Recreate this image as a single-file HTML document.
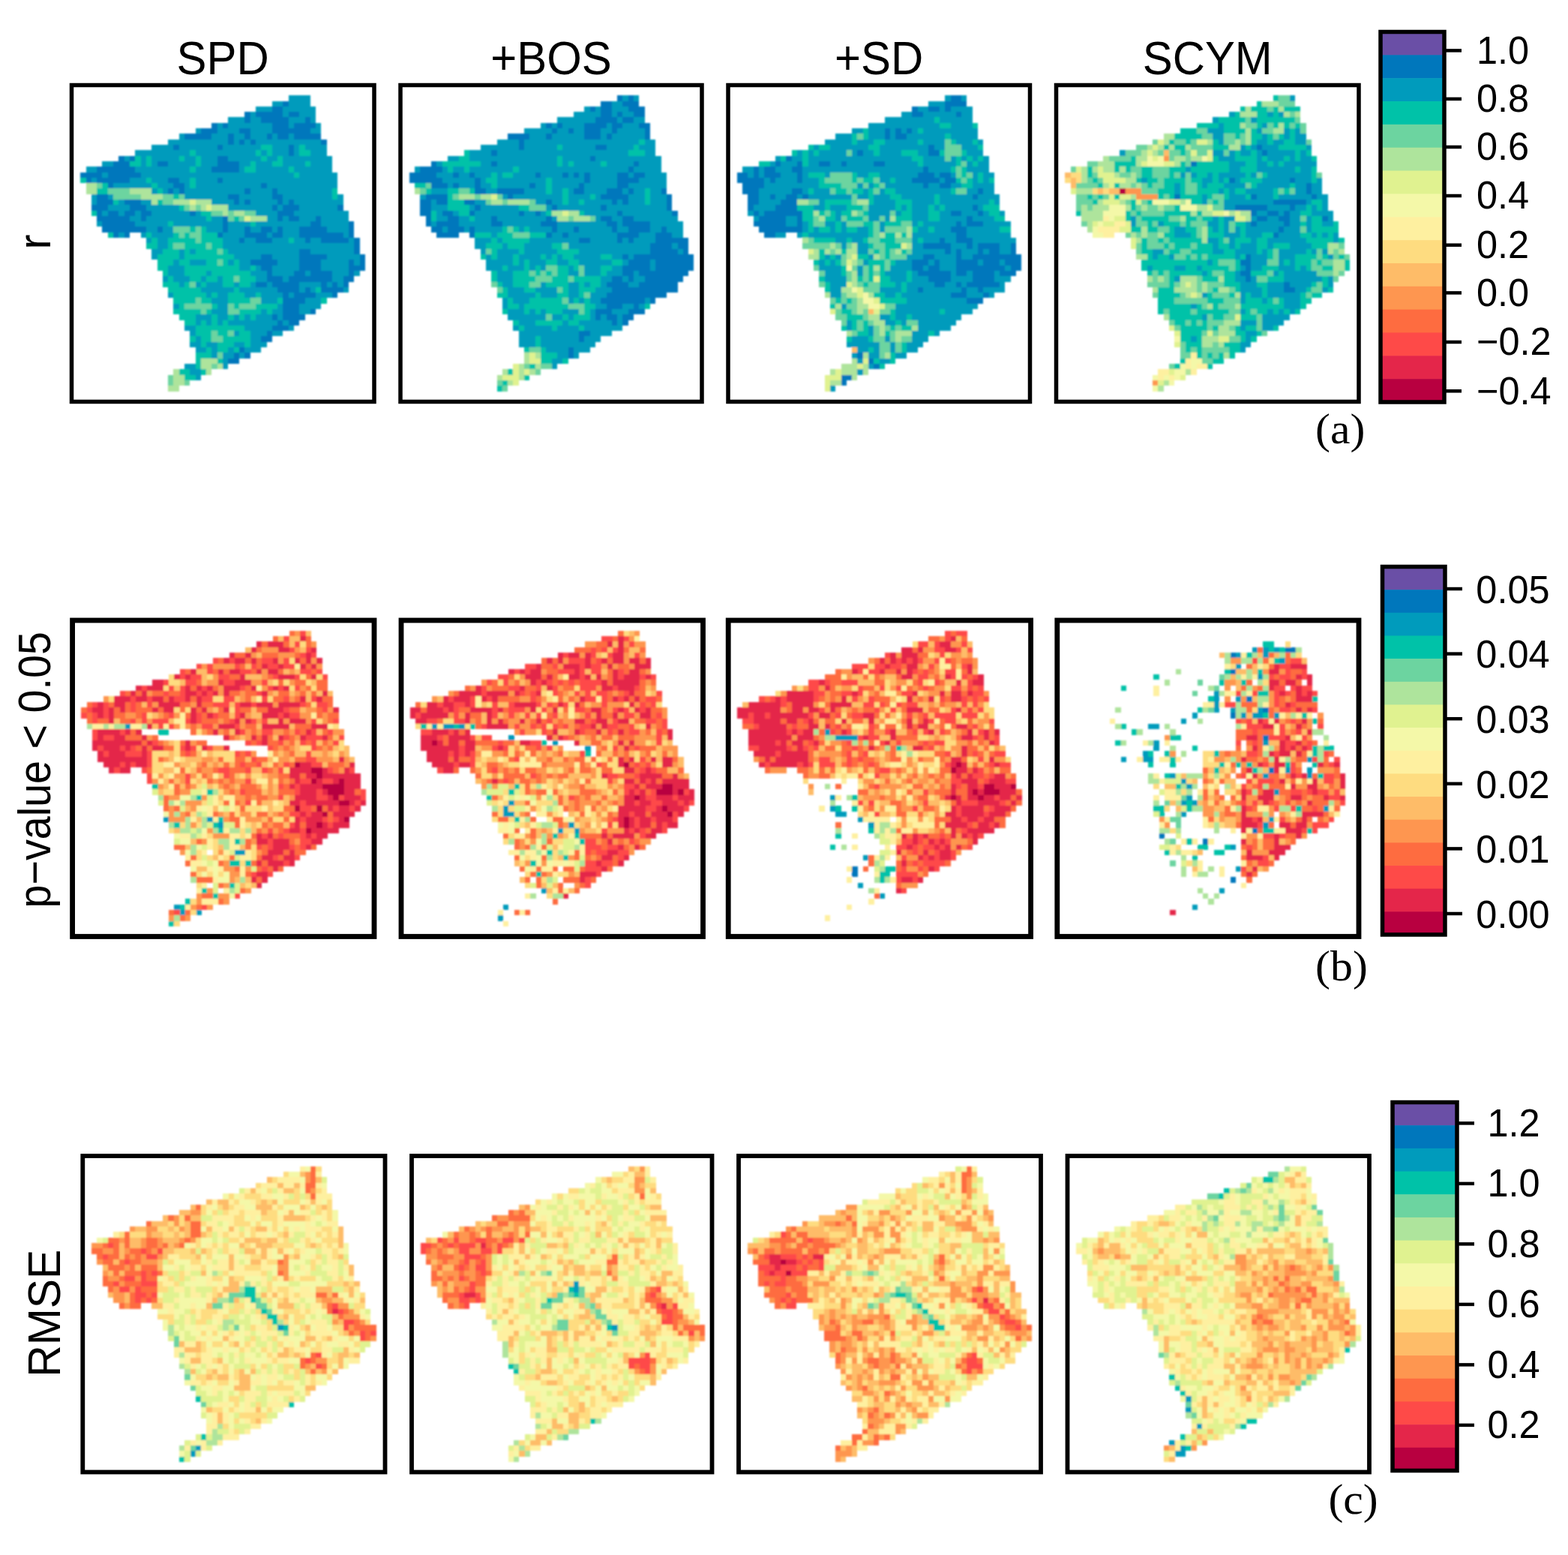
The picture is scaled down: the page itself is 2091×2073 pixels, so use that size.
<!DOCTYPE html>
<html><head><meta charset="utf-8"><style>
html,body{margin:0;padding:0;background:#fff;}
svg{display:block;}
.tt{font-family:"Liberation Sans",Arial,sans-serif;font-size:61px;fill:#000;}
.tl{font-family:"Liberation Sans",Arial,sans-serif;font-size:50.5px;fill:#000;}
.pl{font-family:"Liberation Serif","Times New Roman",serif;font-size:57.5px;fill:#000;}
</style></head><body>
<svg width="2091" height="2073" viewBox="0 0 2091 2073">
<defs><filter id="soft" x="-2%" y="-2%" width="104%" height="104%"><feGaussianBlur stdDeviation="1.1"/></filter></defs>
<rect width="2091" height="2073" fill="#fff"/>
<g filter="url(#soft)"><g shape-rendering="crispEdges"><path fill="#009BBC" d="M385 127h29v8h-29zM363 135h14v7h-14zM385 135h29v7h-29zM341 142h22v7h-22zM377 142h44v7h-44zM334 149h7v7h-7zM377 149h8v7h-8zM399 149h22v7h-22zM304 156h22v8h-22zM334 156h14v8h-14zM385 156h22v8h-22zM414 156h7v8h-7zM290 164h7v7h-7zM304 164h59v7h-59zM385 164h7v7h-7zM421 164h7v7h-7zM261 171h7v7h-7zM290 171h29v7h-29zM334 171h29v7h-29zM414 171h14v7h-14zM239 178h7v8h-7zM282 178h22v8h-22zM312 178h14v8h-14zM334 178h22v8h-22zM363 178h7v8h-7zM385 178h7v8h-7zM224 186h80v7h-80zM312 186h7v7h-7zM326 186h8v7h-8zM341 186h87v7h-87zM202 193h29v7h-29zM239 193h51v7h-51zM297 193h51v7h-51zM363 193h22v7h-22zM392 193h7v7h-7zM407 193h29v7h-29zM180 200h73v8h-73zM261 200h80v8h-80zM348 200h8v8h-8zM363 200h22v8h-22zM392 200h7v8h-7zM414 200h22v8h-22zM166 208h7v7h-7zM188 208h7v7h-7zM202 208h37v7h-37zM246 208h15v7h-15zM268 208h22v7h-22zM304 208h44v7h-44zM356 208h14v7h-14zM377 208h66v7h-66zM136 215h15v7h-15zM188 215h7v7h-7zM202 215h8v7h-8zM224 215h37v7h-37zM268 215h22v7h-22zM319 215h15v7h-15zM341 215h22v7h-22zM377 215h30v7h-30zM414 215h29v7h-29zM115 222h14v8h-14zM180 222h73v8h-73zM261 222h21v8h-21zM319 222h7v8h-7zM341 222h44v8h-44zM392 222h51v8h-51zM136 230h8v7h-8zM188 230h204v7h-204zM399 230h51v7h-51zM122 237h7v7h-7zM173 237h22v7h-22zM202 237h22v7h-22zM239 237h14v7h-14zM261 237h29v7h-29zM297 237h153v7h-153zM151 244h51v7h-51zM210 244h21v7h-21zM246 244h7v7h-7zM261 244h87v7h-87zM356 244h94v7h-94zM202 251h8v8h-8zM217 251h7v8h-7zM231 251h8v8h-8zM246 251h80v8h-80zM334 251h29v8h-29zM370 251h73v8h-73zM122 259h7v7h-7zM144 259h7v7h-7zM246 259h58v7h-58zM319 259h44v7h-44zM377 259h66v7h-66zM450 259h8v7h-8zM122 266h7v7h-7zM158 266h8v7h-8zM188 266h14v7h-14zM282 266h30v7h-30zM319 266h7v7h-7zM334 266h36v7h-36zM377 266h8v7h-8zM392 266h66v7h-66zM144 273h29v8h-29zM195 273h44v8h-44zM304 273h59v8h-59zM370 273h7v8h-7zM399 273h51v8h-51zM136 281h8v7h-8zM158 281h8v7h-8zM180 281h8v7h-8zM202 281h51v7h-51zM261 281h7v7h-7zM341 281h29v7h-29zM392 281h73v7h-73zM173 288h15v7h-15zM195 288h80v7h-80zM282 288h15v7h-15zM356 288h14v7h-14zM377 288h8v7h-8zM399 288h22v7h-22zM428 288h37v7h-37zM129 295h7v7h-7zM180 295h44v7h-44zM231 295h66v7h-66zM304 295h30v7h-30zM341 295h73v7h-73zM428 295h37v7h-37zM195 302h15v8h-15zM217 302h14v8h-14zM275 302h22v8h-22zM304 302h22v8h-22zM334 302h14v8h-14zM363 302h7v8h-7zM377 302h22v8h-22zM436 302h29v8h-29zM158 310h8v7h-8zM188 310h7v7h-7zM202 310h29v7h-29zM297 310h29v7h-29zM356 310h7v7h-7zM377 310h22v7h-22zM458 310h7v7h-7zM195 317h7v7h-7zM210 317h14v7h-14zM297 317h22v7h-22zM326 317h15v7h-15zM363 317h22v7h-22zM392 317h15v7h-15zM414 317h14v7h-14zM465 317h7v7h-7zM210 324h14v8h-14zM297 324h175v8h-175zM202 332h15v7h-15zM239 332h7v7h-7zM253 332h8v7h-8zM304 332h95v7h-95zM414 332h58v7h-58zM202 339h8v7h-8zM239 339h7v7h-7zM312 339h36v7h-36zM363 339h36v7h-36zM436 339h44v7h-44zM231 346h8v8h-8zM253 346h22v8h-22zM304 346h8v8h-8zM319 346h15v8h-15zM370 346h29v8h-29zM428 346h37v8h-37zM472 346h8v8h-8zM224 354h22v7h-22zM319 354h15v7h-15zM341 354h7v7h-7zM363 354h36v7h-36zM428 354h37v7h-37zM224 361h22v7h-22zM275 361h7v7h-7zM334 361h22v7h-22zM363 361h29v7h-29zM407 361h7v7h-7zM443 361h22v7h-22zM472 361h8v7h-8zM217 368h7v8h-7zM231 368h22v8h-22zM268 368h7v8h-7zM290 368h7v8h-7zM341 368h15v8h-15zM377 368h8v8h-8zM443 368h15v8h-15zM239 376h7v7h-7zM261 376h7v7h-7zM275 376h22v7h-22zM312 376h7v7h-7zM334 376h7v7h-7zM356 376h7v7h-7zM399 376h29v7h-29zM436 376h7v7h-7zM450 376h8v7h-8zM268 383h44v7h-44zM319 383h51v7h-51zM399 383h8v7h-8zM414 383h7v7h-7zM458 383h7v7h-7zM224 390h7v7h-7zM275 390h7v7h-7zM290 390h14v7h-14zM326 390h15v7h-15zM348 390h29v7h-29zM385 390h7v7h-7zM421 390h22v7h-22zM282 397h22v8h-22zM348 397h22v8h-22zM407 397h21v8h-21zM231 405h8v7h-8zM290 405h14v7h-14zM370 405h7v7h-7zM399 405h29v7h-29zM282 412h22v7h-22zM348 412h8v7h-8zM363 412h14v7h-14zM399 412h15v7h-15zM261 419h21v8h-21zM290 419h14v8h-14zM312 419h7v8h-7zM326 419h8v8h-8zM341 419h22v8h-22zM370 419h7v8h-7zM261 427h7v7h-7zM275 427h7v7h-7zM290 427h7v7h-7zM304 427h66v7h-66zM377 427h8v7h-8zM246 434h15v7h-15zM326 434h37v7h-37zM385 434h7v7h-7zM253 441h8v7h-8zM312 441h7v7h-7zM334 441h22v7h-22zM363 441h14v7h-14zM261 448h7v8h-7zM334 448h14v8h-14zM253 456h15v7h-15zM275 456h15v7h-15zM312 456h14v7h-14zM334 456h22v7h-22zM261 463h14v7h-14zM282 463h8v7h-8zM304 463h8v7h-8zM326 463h22v7h-22zM282 470h8v8h-8zM297 470h15v8h-15zM319 470h7v8h-7zM297 478h7v7h-7zM246 485h15v7h-15zM297 485h7v7h-7zM253 492h15v8h-15zM261 500h7v7h-7z"/>
<path fill="#0077BC" d="M377 135h8v7h-8zM363 142h14v7h-14zM326 149h8v7h-8zM341 149h36v7h-36zM385 149h14v7h-14zM326 156h8v8h-8zM348 156h37v8h-37zM407 156h7v8h-7zM282 164h8v7h-8zM297 164h7v7h-7zM363 164h22v7h-22zM392 164h29v7h-29zM268 171h22v7h-22zM319 171h15v7h-15zM363 171h51v7h-51zM246 178h36v8h-36zM304 178h8v8h-8zM326 178h8v8h-8zM356 178h7v8h-7zM370 178h15v8h-15zM392 178h36v8h-36zM304 186h8v7h-8zM319 186h7v7h-7zM334 186h7v7h-7zM428 186h8v7h-8zM231 193h8v7h-8zM290 193h7v7h-7zM385 193h7v7h-7zM385 200h7v8h-7zM158 208h8v7h-8zM173 208h7v7h-7zM290 208h14v7h-14zM151 215h22v7h-22zM210 215h14v7h-14zM290 215h29v7h-29zM129 222h51v8h-51zM282 222h37v8h-37zM107 230h29v7h-29zM144 230h44v7h-44zM115 237h7v7h-7zM129 237h44v7h-44zM224 237h15v7h-15zM290 237h7v7h-7zM144 244h7v7h-7zM231 244h15v7h-15zM348 244h8v7h-8zM224 251h7v8h-7zM239 251h7v8h-7zM326 251h8v8h-8zM363 251h7v8h-7zM129 259h15v7h-15zM304 259h15v7h-15zM363 259h14v7h-14zM129 266h22v7h-22zM166 266h22v7h-22zM312 266h7v7h-7zM326 266h8v7h-8zM370 266h7v7h-7zM385 266h7v7h-7zM122 273h22v8h-22zM173 273h22v8h-22zM363 273h7v8h-7zM377 273h22v8h-22zM450 273h8v8h-8zM129 281h7v7h-7zM144 281h14v7h-14zM166 281h14v7h-14zM188 281h14v7h-14zM253 281h8v7h-8zM370 281h22v7h-22zM129 288h44v7h-44zM188 288h7v7h-7zM297 288h7v7h-7zM370 288h7v7h-7zM385 288h14v7h-14zM421 288h7v7h-7zM136 295h44v7h-44zM297 295h7v7h-7zM414 295h14v7h-14zM465 295h7v7h-7zM136 302h59v8h-59zM210 302h7v8h-7zM297 302h7v8h-7zM326 302h8v8h-8zM348 302h15v8h-15zM370 302h7v8h-7zM399 302h37v8h-37zM465 302h7v8h-7zM151 310h7v7h-7zM166 310h7v7h-7zM290 310h7v7h-7zM326 310h30v7h-30zM363 310h14v7h-14zM399 310h59v7h-59zM465 310h7v7h-7zM319 317h7v7h-7zM341 317h22v7h-22zM407 317h7v7h-7zM428 317h37v7h-37zM472 317h8v7h-8zM472 324h8v8h-8zM399 332h15v7h-15zM472 332h8v7h-8zM348 339h15v7h-15zM399 339h37v7h-37zM480 339h7v7h-7zM334 346h36v8h-36zM399 346h29v8h-29zM465 346h7v8h-7zM480 346h7v8h-7zM348 354h15v7h-15zM399 354h29v7h-29zM465 354h22v7h-22zM356 361h7v7h-7zM392 361h15v7h-15zM414 361h29v7h-29zM465 361h7v7h-7zM356 368h21v8h-21zM385 368h58v8h-58zM458 368h14v8h-14zM341 376h15v7h-15zM363 376h36v7h-36zM428 376h8v7h-8zM443 376h7v7h-7zM458 376h7v7h-7zM370 383h29v7h-29zM407 383h7v7h-7zM428 383h30v7h-30zM377 390h8v7h-8zM392 390h29v7h-29zM443 390h7v7h-7zM377 397h30v8h-30zM377 405h22v7h-22zM377 412h22v7h-22zM414 412h7v7h-7zM363 419h7v8h-7zM377 419h30v8h-30zM370 427h7v7h-7zM385 427h14v7h-14zM363 434h22v7h-22zM356 441h7v7h-7zM348 448h15v8h-15zM319 463h7v7h-7zM312 470h7v8h-7zM326 470h8v8h-8zM304 478h15v7h-15z"/>
<path fill="#00C2A8" d="M348 193h15v7h-15zM399 193h8v7h-8zM253 200h8v8h-8zM341 200h7v8h-7zM356 200h7v8h-7zM399 200h15v8h-15zM180 208h8v7h-8zM195 208h7v7h-7zM239 208h7v7h-7zM261 208h7v7h-7zM348 208h8v7h-8zM370 208h7v7h-7zM173 215h15v7h-15zM195 215h7v7h-7zM261 215h7v7h-7zM334 215h7v7h-7zM363 215h14v7h-14zM407 215h7v7h-7zM253 222h8v8h-8zM326 222h15v8h-15zM385 222h7v8h-7zM392 230h7v7h-7zM107 237h8v7h-8zM195 237h7v7h-7zM253 237h8v7h-8zM136 244h8v7h-8zM202 244h8v7h-8zM253 244h8v7h-8zM129 251h15v8h-15zM210 251h7v8h-7zM443 251h7v8h-7zM231 259h8v7h-8zM443 259h7v7h-7zM151 266h7v7h-7zM210 266h7v7h-7zM239 273h7v8h-7zM122 281h7v7h-7zM268 281h14v7h-14zM275 288h7v7h-7zM312 288h7v7h-7zM224 295h7v7h-7zM334 295h7v7h-7zM253 302h8v8h-8zM268 302h7v8h-7zM144 310h7v7h-7zM195 310h7v7h-7zM231 310h8v7h-8zM246 310h7v7h-7zM268 310h22v7h-22zM202 317h8v7h-8zM224 317h37v7h-37zM268 317h29v7h-29zM385 317h7v7h-7zM195 324h15v8h-15zM224 324h7v8h-7zM246 324h29v8h-29zM282 324h15v8h-15zM217 332h22v7h-22zM246 332h7v7h-7zM261 332h29v7h-29zM297 332h7v7h-7zM210 339h29v7h-29zM246 339h66v7h-66zM210 346h21v8h-21zM239 346h14v8h-14zM275 346h15v8h-15zM297 346h7v8h-7zM312 346h7v8h-7zM210 354h14v7h-14zM246 354h73v7h-73zM334 354h7v7h-7zM217 361h7v7h-7zM246 361h29v7h-29zM282 361h52v7h-52zM224 368h7v8h-7zM253 368h15v8h-15zM275 368h15v8h-15zM297 368h15v8h-15zM319 368h22v8h-22zM217 376h22v7h-22zM246 376h7v7h-7zM268 376h7v7h-7zM297 376h15v7h-15zM319 376h15v7h-15zM224 383h44v7h-44zM312 383h7v7h-7zM421 383h7v7h-7zM231 390h44v7h-44zM282 390h8v7h-8zM304 390h22v7h-22zM341 390h7v7h-7zM231 397h30v8h-30zM268 397h14v8h-14zM304 397h30v8h-30zM370 397h7v8h-7zM428 397h8v8h-8zM239 405h7v7h-7zM282 405h8v7h-8zM312 405h7v7h-7zM341 405h29v7h-29zM231 412h37v7h-37zM275 412h7v7h-7zM319 412h29v7h-29zM356 412h7v7h-7zM239 419h22v8h-22zM282 419h8v8h-8zM304 419h8v8h-8zM319 419h7v8h-7zM334 419h7v8h-7zM246 427h15v7h-15zM268 427h7v7h-7zM282 427h8v7h-8zM297 427h7v7h-7zM261 434h65v7h-65zM261 441h21v7h-21zM290 441h14v7h-14zM319 441h15v7h-15zM253 448h8v8h-8zM268 448h14v8h-14zM297 448h37v8h-37zM268 456h7v7h-7zM290 456h22v7h-22zM326 456h8v7h-8zM275 463h7v7h-7zM290 463h14v7h-14zM312 463h7v7h-7zM261 470h21v8h-21zM261 478h7v7h-7zM290 478h7v7h-7zM261 485h7v7h-7zM239 492h14v8h-14zM268 492h7v8h-7zM246 500h15v7h-15z"/>
<path fill="#AEE49C" d="M115 244h14v7h-14zM115 251h14v8h-14zM173 251h29v8h-29zM188 259h29v7h-29zM202 266h8v7h-8zM231 266h22v7h-22zM261 266h21v7h-21zM253 273h8v8h-8zM268 273h7v8h-7zM282 273h22v8h-22zM297 281h7v7h-7zM312 281h14v7h-14zM334 288h22v7h-22zM268 478h22v7h-22zM268 485h14v7h-14zM290 485h7v7h-7zM231 492h8v8h-8zM275 492h7v8h-7zM231 500h15v7h-15zM231 507h15v7h-15zM224 514h15v8h-15z"/>
<path fill="#6CD4A0" d="M129 244h7v7h-7zM144 251h29v8h-29zM151 259h37v7h-37zM217 259h14v7h-14zM239 259h7v7h-7zM217 266h14v7h-14zM246 273h7v8h-7zM261 273h7v8h-7zM282 281h15v7h-15zM304 281h8v7h-8zM326 281h15v7h-15zM304 288h8v7h-8zM319 288h7v7h-7zM231 302h22v8h-22zM261 302h7v8h-7zM239 310h7v7h-7zM253 310h15v7h-15zM261 317h7v7h-7zM231 324h15v8h-15zM275 324h7v8h-7zM290 332h7v7h-7zM290 346h7v8h-7zM312 368h7v8h-7zM253 376h8v7h-8zM261 397h7v8h-7zM334 397h14v8h-14zM246 405h36v7h-36zM304 405h8v7h-8zM319 405h22v7h-22zM268 412h7v7h-7zM304 412h15v7h-15zM282 441h8v7h-8zM304 441h8v7h-8zM282 448h15v8h-15zM290 470h7v8h-7zM282 485h8v7h-8zM224 500h7v7h-7zM224 507h7v7h-7zM246 507h7v7h-7z"/>
<path fill="#E0F290" d="M253 266h8v7h-8zM275 273h7v8h-7zM326 288h8v7h-8z"/></g></g>
<g filter="url(#soft)"><g shape-rendering="crispEdges"><path fill="#0077BC" d="M823 127h7v8h-7zM838 127h7v8h-7zM801 135h15v7h-15zM830 135h22v7h-22zM787 142h7v7h-7zM801 142h15v7h-15zM838 142h22v7h-22zM801 149h15v7h-15zM823 149h7v7h-7zM845 149h15v7h-15zM794 156h29v8h-29zM830 156h15v8h-15zM728 164h8v7h-8zM743 164h7v7h-7zM779 164h30v7h-30zM816 164h14v7h-14zM852 164h15v7h-15zM736 171h7v7h-7zM758 171h7v7h-7zM779 171h22v7h-22zM816 171h7v7h-7zM860 171h7v7h-7zM677 178h29v8h-29zM728 178h8v8h-8zM779 178h22v8h-22zM809 178h7v8h-7zM860 178h7v8h-7zM692 186h7v7h-7zM692 193h7v7h-7zM794 193h15v7h-15zM655 200h8v8h-8zM787 208h7v7h-7zM575 215h7v7h-7zM655 215h8v7h-8zM845 215h7v7h-7zM560 222h30v8h-30zM838 222h7v8h-7zM546 230h36v7h-36zM604 230h8v7h-8zM626 230h7v7h-7zM714 230h7v7h-7zM750 230h8v7h-8zM765 230h7v7h-7zM779 230h8v7h-8zM823 230h15v7h-15zM845 230h15v7h-15zM546 237h44v7h-44zM633 237h8v7h-8zM779 237h8v7h-8zM823 237h29v7h-29zM575 244h22v7h-22zM604 244h8v7h-8zM633 244h8v7h-8zM706 244h8v7h-8zM772 244h7v7h-7zM823 244h15v7h-15zM633 251h15v8h-15zM663 251h36v8h-36zM765 251h14v8h-14zM809 251h21v8h-21zM838 251h7v8h-7zM882 251h7v8h-7zM568 259h29v7h-29zM677 259h7v7h-7zM801 259h37v7h-37zM889 259h7v7h-7zM560 266h15v7h-15zM582 266h15v7h-15zM619 266h14v7h-14zM728 266h8v7h-8zM816 266h7v7h-7zM830 266h8v7h-8zM889 266h7v7h-7zM560 273h15v8h-15zM633 273h8v8h-8zM736 273h7v8h-7zM801 273h8v8h-8zM889 273h7v8h-7zM560 281h15v7h-15zM590 281h14v7h-14zM626 281h7v7h-7zM692 281h7v7h-7zM714 281h7v7h-7zM823 281h7v7h-7zM896 281h8v7h-8zM568 288h7v7h-7zM597 288h15v7h-15zM655 288h8v7h-8zM728 288h8v7h-8zM801 288h15v7h-15zM830 288h15v7h-15zM568 295h7v7h-7zM582 295h30v7h-30zM655 295h15v7h-15zM721 295h22v7h-22zM809 295h14v7h-14zM830 295h37v7h-37zM575 302h15v8h-15zM597 302h22v8h-22zM626 302h7v8h-7zM736 302h7v8h-7zM765 302h7v8h-7zM816 302h7v8h-7zM838 302h29v8h-29zM882 302h7v8h-7zM582 310h30v7h-30zM626 310h7v7h-7zM728 310h8v7h-8zM750 310h8v7h-8zM823 310h29v7h-29zM874 310h22v7h-22zM772 317h15v7h-15zM823 317h7v7h-7zM838 317h7v7h-7zM874 317h44v7h-44zM867 324h29v8h-29zM904 324h14v8h-14zM867 332h37v7h-37zM911 332h7v7h-7zM830 339h8v7h-8zM845 339h80v7h-80zM838 346h29v8h-29zM874 346h51v8h-51zM830 354h37v7h-37zM874 354h51v7h-51zM830 361h15v7h-15zM852 361h66v7h-66zM816 368h14v8h-14zM838 368h7v8h-7zM860 368h51v8h-51zM809 376h29v7h-29zM852 376h52v7h-52zM816 383h88v7h-88zM809 390h80v7h-80zM801 397h59v8h-59zM867 397h7v8h-7zM809 405h21v7h-21zM845 405h7v7h-7zM794 412h22v7h-22zM838 412h22v7h-22zM794 419h7v8h-7zM809 419h14v8h-14zM830 419h15v8h-15zM816 427h7v7h-7zM830 427h8v7h-8zM772 441h15v7h-15zM772 448h7v8h-7zM758 463h7v7h-7zM758 470h7v8h-7z"/>
<path fill="#009BBC" d="M830 127h8v8h-8zM845 127h7v8h-7zM816 135h14v7h-14zM779 142h8v7h-8zM794 142h7v7h-7zM816 142h22v7h-22zM765 149h36v7h-36zM816 149h7v7h-7zM830 149h15v7h-15zM743 156h51v8h-51zM823 156h7v8h-7zM845 156h15v8h-15zM721 164h7v7h-7zM736 164h7v7h-7zM750 164h29v7h-29zM809 164h7v7h-7zM830 164h22v7h-22zM699 171h37v7h-37zM743 171h15v7h-15zM765 171h14v7h-14zM801 171h15v7h-15zM823 171h37v7h-37zM706 178h22v8h-22zM736 178h43v8h-43zM801 178h8v8h-8zM816 178h44v8h-44zM663 186h29v7h-29zM699 186h153v7h-153zM860 186h14v7h-14zM641 193h51v7h-51zM699 193h44v7h-44zM750 193h44v7h-44zM809 193h36v7h-36zM852 193h22v7h-22zM626 200h29v8h-29zM663 200h175v8h-175zM860 200h14v8h-14zM597 208h15v7h-15zM626 208h117v7h-117zM750 208h37v7h-37zM794 208h88v7h-88zM582 215h8v7h-8zM641 215h14v7h-14zM663 215h80v7h-80zM750 215h8v7h-8zM765 215h36v7h-36zM809 215h36v7h-36zM852 215h30v7h-30zM553 222h7v8h-7zM590 222h7v8h-7zM604 222h15v8h-15zM626 222h58v8h-58zM692 222h146v8h-146zM845 222h37v8h-37zM582 230h22v7h-22zM612 230h14v7h-14zM633 230h22v7h-22zM663 230h7v7h-7zM684 230h30v7h-30zM721 230h29v7h-29zM758 230h7v7h-7zM772 230h7v7h-7zM787 230h36v7h-36zM838 230h7v7h-7zM860 230h29v7h-29zM590 237h43v7h-43zM641 237h7v7h-7zM663 237h65v7h-65zM736 237h43v7h-43zM787 237h36v7h-36zM852 237h37v7h-37zM597 244h7v7h-7zM612 244h21v7h-21zM641 244h14v7h-14zM663 244h43v7h-43zM714 244h14v7h-14zM736 244h36v7h-36zM779 244h44v7h-44zM838 244h51v7h-51zM575 251h22v8h-22zM648 251h15v8h-15zM699 251h29v8h-29zM736 251h14v8h-14zM758 251h7v8h-7zM779 251h30v8h-30zM830 251h8v8h-8zM845 251h15v8h-15zM867 251h15v8h-15zM560 259h8v7h-8zM670 259h7v7h-7zM684 259h66v7h-66zM758 259h29v7h-29zM794 259h7v7h-7zM838 259h22v7h-22zM867 259h22v7h-22zM575 266h7v7h-7zM633 266h15v7h-15zM714 266h14v7h-14zM736 266h14v7h-14zM758 266h14v7h-14zM779 266h37v7h-37zM823 266h7v7h-7zM838 266h22v7h-22zM867 266h22v7h-22zM575 273h22v8h-22zM626 273h7v8h-7zM641 273h51v8h-51zM728 273h8v8h-8zM743 273h58v8h-58zM809 273h80v8h-80zM582 281h8v7h-8zM604 281h8v7h-8zM633 281h59v7h-59zM699 281h15v7h-15zM721 281h7v7h-7zM779 281h44v7h-44zM830 281h66v7h-66zM582 288h15v7h-15zM612 288h14v7h-14zM633 288h22v7h-22zM663 288h65v7h-65zM736 288h7v7h-7zM794 288h7v7h-7zM816 288h14v7h-14zM845 288h59v7h-59zM575 295h7v7h-7zM612 295h43v7h-43zM670 295h51v7h-51zM743 295h66v7h-66zM823 295h7v7h-7zM867 295h44v7h-44zM590 302h7v8h-7zM619 302h7v8h-7zM633 302h37v8h-37zM692 302h7v8h-7zM706 302h30v8h-30zM743 302h22v8h-22zM772 302h44v8h-44zM823 302h15v8h-15zM867 302h15v8h-15zM889 302h22v8h-22zM655 310h8v7h-8zM736 310h14v7h-14zM758 310h65v7h-65zM852 310h22v7h-22zM896 310h15v7h-15zM633 317h22v7h-22zM663 317h7v7h-7zM706 317h66v7h-66zM787 317h36v7h-36zM830 317h8v7h-8zM845 317h29v7h-29zM633 324h15v8h-15zM670 324h7v8h-7zM699 324h37v8h-37zM758 324h109v8h-109zM896 324h8v8h-8zM641 332h7v7h-7zM663 332h29v7h-29zM699 332h44v7h-44zM772 332h95v7h-95zM904 332h7v7h-7zM648 339h7v7h-7zM663 339h21v7h-21zM692 339h29v7h-29zM728 339h8v7h-8zM743 339h7v7h-7zM765 339h36v7h-36zM816 339h14v7h-14zM838 339h7v7h-7zM648 346h36v8h-36zM692 346h7v8h-7zM706 346h22v8h-22zM743 346h15v8h-15zM772 346h44v8h-44zM830 346h8v8h-8zM867 346h7v8h-7zM648 354h22v7h-22zM677 354h22v7h-22zM706 354h8v7h-8zM721 354h7v7h-7zM758 354h7v7h-7zM779 354h22v7h-22zM816 354h14v7h-14zM867 354h7v7h-7zM663 361h21v7h-21zM758 361h14v7h-14zM779 361h22v7h-22zM809 361h21v7h-21zM845 361h7v7h-7zM663 368h21v8h-21zM801 368h15v8h-15zM830 368h8v8h-8zM845 368h15v8h-15zM670 376h14v7h-14zM721 376h7v7h-7zM758 376h14v7h-14zM779 376h8v7h-8zM801 376h8v7h-8zM838 376h14v7h-14zM677 383h22v7h-22zM714 383h29v7h-29zM758 383h14v7h-14zM794 383h22v7h-22zM677 390h37v7h-37zM721 390h22v7h-22zM758 390h14v7h-14zM787 390h22v7h-22zM670 397h7v8h-7zM684 397h22v8h-22zM758 397h7v8h-7zM772 397h7v8h-7zM787 397h14v8h-14zM860 397h7v8h-7zM670 405h7v7h-7zM692 405h7v7h-7zM794 405h15v7h-15zM830 405h15v7h-15zM852 405h8v7h-8zM677 412h22v7h-22zM706 412h8v7h-8zM721 412h7v7h-7zM750 412h22v7h-22zM787 412h7v7h-7zM816 412h22v7h-22zM677 419h51v8h-51zM736 419h14v8h-14zM758 419h7v8h-7zM787 419h7v8h-7zM801 419h8v8h-8zM823 419h7v8h-7zM692 427h22v7h-22zM750 427h8v7h-8zM772 427h44v7h-44zM823 427h7v7h-7zM684 434h8v7h-8zM699 434h37v7h-37zM743 434h29v7h-29zM779 434h51v7h-51zM692 441h80v7h-80zM787 441h29v7h-29zM692 448h22v8h-22zM721 448h51v8h-51zM779 448h22v8h-22zM692 456h22v7h-22zM721 456h73v7h-73zM728 463h30v7h-30zM765 463h22v7h-22zM743 470h15v8h-15zM765 470h7v8h-7zM736 478h14v7h-14zM736 485h7v7h-7z"/>
<path fill="#00C2A8" d="M852 186h8v7h-8zM743 193h7v7h-7zM845 193h7v7h-7zM619 200h7v8h-7zM838 200h22v8h-22zM612 208h14v7h-14zM743 208h7v7h-7zM590 215h51v7h-51zM743 215h7v7h-7zM758 215h7v7h-7zM801 215h8v7h-8zM597 222h7v8h-7zM619 222h7v8h-7zM684 222h8v8h-8zM655 230h8v7h-8zM670 230h14v7h-14zM648 237h15v7h-15zM728 237h8v7h-8zM553 244h15v7h-15zM655 244h8v7h-8zM728 244h8v7h-8zM568 251h7v8h-7zM597 251h15v8h-15zM626 251h7v8h-7zM728 251h8v8h-8zM750 251h8v8h-8zM860 251h7v8h-7zM597 259h7v7h-7zM750 259h8v7h-8zM787 259h7v7h-7zM860 259h7v7h-7zM597 266h22v7h-22zM750 266h8v7h-8zM772 266h7v7h-7zM860 266h7v7h-7zM597 273h29v8h-29zM692 273h14v8h-14zM575 281h7v7h-7zM612 281h14v7h-14zM728 281h8v7h-8zM772 281h7v7h-7zM575 288h7v7h-7zM626 288h7v7h-7zM670 302h7v8h-7zM684 302h8v8h-8zM699 302h7v8h-7zM633 310h22v7h-22zM663 310h21v7h-21zM706 310h22v7h-22zM655 317h8v7h-8zM670 317h36v7h-36zM648 324h22v8h-22zM677 324h22v8h-22zM736 324h14v8h-14zM655 332h8v7h-8zM692 332h7v7h-7zM743 332h29v7h-29zM641 339h7v7h-7zM655 339h8v7h-8zM684 339h8v7h-8zM721 339h7v7h-7zM736 339h7v7h-7zM750 339h15v7h-15zM801 339h15v7h-15zM684 346h8v8h-8zM699 346h7v8h-7zM728 346h15v8h-15zM758 346h14v8h-14zM816 346h14v8h-14zM670 354h7v7h-7zM699 354h7v7h-7zM714 354h7v7h-7zM743 354h15v7h-15zM765 354h7v7h-7zM801 354h15v7h-15zM655 361h8v7h-8zM684 361h22v7h-22zM714 361h7v7h-7zM728 361h8v7h-8zM743 361h15v7h-15zM801 361h8v7h-8zM655 368h8v8h-8zM684 368h30v8h-30zM736 368h22v8h-22zM765 368h36v8h-36zM663 376h7v7h-7zM684 376h22v7h-22zM728 376h30v7h-30zM772 376h7v7h-7zM787 376h14v7h-14zM670 383h7v7h-7zM699 383h15v7h-15zM750 383h8v7h-8zM772 383h22v7h-22zM663 390h14v7h-14zM714 390h7v7h-7zM743 390h15v7h-15zM772 390h7v7h-7zM677 397h7v8h-7zM706 397h44v8h-44zM765 397h7v8h-7zM779 397h8v8h-8zM677 405h15v7h-15zM699 405h59v7h-59zM779 405h15v7h-15zM860 405h7v7h-7zM670 412h7v7h-7zM699 412h7v7h-7zM714 412h7v7h-7zM728 412h22v7h-22zM779 412h8v7h-8zM750 419h8v8h-8zM765 419h22v8h-22zM684 427h8v7h-8zM714 427h36v7h-36zM758 427h14v7h-14zM692 434h7v7h-7zM736 434h7v7h-7zM772 434h7v7h-7zM714 448h7v8h-7zM714 456h7v7h-7zM699 463h7v7h-7zM721 463h7v7h-7zM721 470h22v8h-22zM721 478h15v7h-15zM750 478h8v7h-8zM706 485h8v7h-8zM677 492h7v8h-7zM699 500h7v7h-7zM670 507h7v7h-7zM663 514h7v8h-7z"/>
<path fill="#6CD4A0" d="M568 244h7v7h-7zM560 251h8v8h-8zM612 251h14v8h-14zM604 259h8v7h-8zM633 259h8v7h-8zM663 259h7v7h-7zM648 266h7v7h-7zM670 266h7v7h-7zM706 266h8v7h-8zM706 273h22v8h-22zM758 288h7v7h-7zM787 288h7v7h-7zM677 302h7v8h-7zM684 310h22v7h-22zM750 324h8v8h-8zM648 332h7v7h-7zM728 354h15v7h-15zM772 354h7v7h-7zM706 361h8v7h-8zM721 361h7v7h-7zM736 361h7v7h-7zM772 361h7v7h-7zM714 368h22v8h-22zM758 368h7v8h-7zM655 376h8v7h-8zM706 376h15v7h-15zM663 383h7v7h-7zM743 383h7v7h-7zM779 390h8v7h-8zM750 397h8v8h-8zM758 405h21v7h-21zM772 412h7v7h-7zM728 419h8v8h-8zM706 463h15v7h-15zM699 485h7v7h-7zM721 485h15v7h-15zM714 492h7v8h-7zM663 507h7v7h-7zM670 514h7v8h-7z"/>
<path fill="#AEE49C" d="M553 251h7v8h-7zM612 259h21v7h-21zM641 259h14v7h-14zM655 266h15v7h-15zM677 266h29v7h-29zM736 281h14v7h-14zM758 281h14v7h-14zM743 288h15v7h-15zM765 288h22v7h-22zM699 470h7v8h-7zM714 470h7v8h-7zM699 478h7v7h-7zM692 485h7v7h-7zM714 485h7v7h-7zM670 492h7v8h-7zM692 492h7v8h-7zM706 492h8v8h-8zM663 500h7v7h-7zM692 500h7v7h-7zM677 507h7v7h-7z"/>
<path fill="#E0F290" d="M655 259h8v7h-8zM750 281h8v7h-8zM706 470h8v8h-8zM706 478h15v7h-15zM684 485h8v7h-8zM684 492h8v8h-8zM699 492h7v8h-7zM670 500h22v7h-22zM684 507h8v7h-8z"/></g></g>
<g filter="url(#soft)"><g shape-rendering="crispEdges"><path fill="#009BBC" d="M1260 127h8v8h-8zM1282 127h7v8h-7zM1238 135h22v7h-22zM1224 142h14v7h-14zM1253 142h7v7h-7zM1268 142h29v7h-29zM1202 149h14v7h-14zM1231 149h44v7h-44zM1282 149h15v7h-15zM1180 156h66v8h-66zM1253 156h44v8h-44zM1158 164h95v7h-95zM1268 164h29v7h-29zM1136 171h15v7h-15zM1158 171h22v7h-22zM1187 171h7v7h-7zM1202 171h7v7h-7zM1216 171h8v7h-8zM1231 171h73v7h-73zM1114 178h22v8h-22zM1158 178h22v8h-22zM1187 178h7v8h-7zM1209 178h51v8h-51zM1268 178h36v8h-36zM1100 186h36v7h-36zM1143 186h22v7h-22zM1180 186h44v7h-44zM1231 186h29v7h-29zM1275 186h22v7h-22zM1304 186h7v7h-7zM1085 193h7v7h-7zM1107 193h51v7h-51zM1173 193h65v7h-65zM1246 193h14v7h-14zM1282 193h22v7h-22zM1063 200h7v8h-7zM1078 200h7v8h-7zM1092 200h37v8h-37zM1136 200h7v8h-7zM1151 200h14v8h-14zM1173 200h29v8h-29zM1224 200h14v8h-14zM1289 200h22v8h-22zM1034 208h7v7h-7zM1056 208h14v7h-14zM1078 208h138v7h-138zM1231 208h29v7h-29zM1268 208h7v7h-7zM1282 208h7v7h-7zM1297 208h7v7h-7zM1311 208h8v7h-8zM1027 215h7v7h-7zM1041 215h22v7h-22zM1078 215h14v7h-14zM1107 215h15v7h-15zM1129 215h36v7h-36zM1180 215h44v7h-44zM1231 215h44v7h-44zM1289 215h8v7h-8zM1304 215h15v7h-15zM990 222h15v8h-15zM1012 222h7v8h-7zM1034 222h22v8h-22zM1070 222h161v8h-161zM1238 222h30v8h-30zM1289 222h30v8h-30zM997 230h8v7h-8zM1012 230h7v7h-7zM1041 230h22v7h-22zM1070 230h8v7h-8zM1100 230h7v7h-7zM1143 230h15v7h-15zM1173 230h51v7h-51zM1246 230h7v7h-7zM1268 230h7v7h-7zM1297 230h7v7h-7zM1311 230h15v7h-15zM1019 237h8v7h-8zM1034 237h29v7h-29zM1070 237h22v7h-22zM1173 237h14v7h-14zM1194 237h22v7h-22zM1253 237h7v7h-7zM1297 237h7v7h-7zM1311 237h8v7h-8zM1019 244h73v7h-73zM1143 244h8v7h-8zM1158 244h7v7h-7zM1180 244h51v7h-51zM1238 244h15v7h-15zM1268 244h14v7h-14zM1297 244h29v7h-29zM1012 251h44v8h-44zM1070 251h8v8h-8zM1085 251h22v8h-22zM1151 251h7v8h-7zM1173 251h7v8h-7zM1194 251h74v8h-74zM1289 251h15v8h-15zM1311 251h15v8h-15zM1012 259h15v7h-15zM1034 259h14v7h-14zM1063 259h7v7h-7zM1078 259h58v7h-58zM1143 259h15v7h-15zM1165 259h22v7h-22zM1202 259h44v7h-44zM1253 259h44v7h-44zM1304 259h29v7h-29zM1012 266h29v7h-29zM1092 266h8v7h-8zM1165 266h29v7h-29zM1216 266h30v7h-30zM1253 266h66v7h-66zM1326 266h7v7h-7zM1005 273h29v8h-29zM1085 273h15v8h-15zM1107 273h22v8h-22zM1158 273h36v8h-36zM1202 273h7v8h-7zM1216 273h22v8h-22zM1246 273h7v8h-7zM1260 273h37v8h-37zM1304 273h7v8h-7zM997 281h8v7h-8zM1012 281h7v7h-7zM1114 281h8v7h-8zM1158 281h29v7h-29zM1194 281h8v7h-8zM1216 281h22v7h-22zM1253 281h15v7h-15zM1282 281h22v7h-22zM1311 281h8v7h-8zM1333 281h7v7h-7zM1005 288h7v7h-7zM1048 288h15v7h-15zM1114 288h8v7h-8zM1158 288h15v7h-15zM1180 288h7v7h-7zM1216 288h22v7h-22zM1253 288h36v7h-36zM1297 288h29v7h-29zM1048 295h15v7h-15zM1070 295h8v7h-8zM1100 295h14v7h-14zM1122 295h7v7h-7zM1173 295h7v7h-7zM1216 295h8v7h-8zM1231 295h44v7h-44zM1282 295h7v7h-7zM1311 295h37v7h-37zM1070 302h8v8h-8zM1085 302h7v8h-7zM1107 302h7v8h-7zM1122 302h7v8h-7zM1143 302h15v8h-15zM1173 302h7v8h-7zM1224 302h14v8h-14zM1246 302h22v8h-22zM1289 302h44v8h-44zM1034 310h14v7h-14zM1063 310h7v7h-7zM1078 310h80v7h-80zM1216 310h59v7h-59zM1289 310h59v7h-59zM1114 317h15v7h-15zM1136 317h15v7h-15zM1216 317h8v7h-8zM1231 317h22v7h-22zM1260 317h15v7h-15zM1297 317h58v7h-58zM1122 324h7v8h-7zM1143 324h15v8h-15zM1216 324h15v8h-15zM1268 324h21v8h-21zM1297 324h7v8h-7zM1333 324h15v8h-15zM1143 332h15v7h-15zM1216 332h44v7h-44zM1268 332h7v7h-7zM1282 332h22v7h-22zM1311 332h8v7h-8zM1333 332h15v7h-15zM1100 339h7v7h-7zM1114 339h8v7h-8zM1158 339h7v7h-7zM1209 339h22v7h-22zM1246 339h29v7h-29zM1282 339h15v7h-15zM1092 346h8v8h-8zM1107 346h7v8h-7zM1151 346h7v8h-7zM1194 346h22v8h-22zM1238 346h8v8h-8zM1253 346h22v8h-22zM1304 346h7v8h-7zM1333 346h7v8h-7zM1092 354h30v7h-30zM1143 354h8v7h-8zM1187 354h29v7h-29zM1231 354h7v7h-7zM1253 354h22v7h-22zM1340 354h8v7h-8zM1100 361h22v7h-22zM1143 361h8v7h-8zM1180 361h29v7h-29zM1216 361h8v7h-8zM1268 361h7v7h-7zM1289 361h8v7h-8zM1326 361h7v7h-7zM1100 368h29v8h-29zM1187 368h22v8h-22zM1216 368h22v8h-22zM1268 368h29v8h-29zM1326 368h22v8h-22zM1107 376h22v7h-22zM1194 376h8v7h-8zM1209 376h37v7h-37zM1260 376h15v7h-15zM1282 376h7v7h-7zM1333 376h7v7h-7zM1107 383h15v7h-15zM1173 383h29v7h-29zM1209 383h15v7h-15zM1231 383h51v7h-51zM1289 383h15v7h-15zM1311 383h29v7h-29zM1107 390h15v7h-15zM1180 390h14v7h-14zM1202 390h66v7h-66zM1289 390h22v7h-22zM1319 390h7v7h-7zM1209 397h80v8h-80zM1122 405h7v7h-7zM1194 405h110v7h-110zM1194 412h59v7h-59zM1260 412h37v7h-37zM1173 419h14v8h-14zM1194 419h15v8h-15zM1216 419h66v8h-66zM1129 427h7v7h-7zM1180 427h14v7h-14zM1202 427h7v7h-7zM1224 427h51v7h-51zM1129 434h7v7h-7zM1158 434h7v7h-7zM1224 434h44v7h-44zM1158 441h7v7h-7zM1216 441h22v7h-22zM1246 441h7v7h-7zM1136 448h22v8h-22zM1180 448h7v8h-7zM1216 448h22v8h-22zM1129 456h44v7h-44zM1187 456h7v7h-7zM1209 456h22v7h-22zM1143 463h15v7h-15zM1165 463h8v7h-8zM1187 463h7v7h-7zM1209 463h15v7h-15zM1136 470h7v8h-7zM1158 470h15v8h-15zM1194 470h15v8h-15zM1143 478h8v7h-8zM1173 478h14v7h-14zM1158 485h7v7h-7zM1143 492h8v8h-8zM1107 514h7v8h-7z"/>
<path fill="#0077BC" d="M1268 127h14v8h-14zM1260 135h29v7h-29zM1216 142h8v7h-8zM1238 142h15v7h-15zM1260 142h8v7h-8zM1216 149h15v7h-15zM1275 149h7v7h-7zM1180 171h7v7h-7zM1194 171h8v7h-8zM1209 171h7v7h-7zM1180 178h7v8h-7zM1194 178h15v8h-15zM1238 193h8v7h-8zM1143 200h8v8h-8zM1238 200h15v8h-15zM1048 208h8v7h-8zM1034 215h7v7h-7zM1063 215h7v7h-7zM1092 215h15v7h-15zM1122 215h7v7h-7zM1165 215h15v7h-15zM1005 222h7v8h-7zM1019 222h15v8h-15zM1056 222h14v8h-14zM1231 222h7v8h-7zM983 230h14v7h-14zM1005 230h7v7h-7zM1019 230h22v7h-22zM1063 230h7v7h-7zM1224 230h22v7h-22zM1253 230h15v7h-15zM983 237h36v7h-36zM1027 237h7v7h-7zM1063 237h7v7h-7zM1216 237h37v7h-37zM1260 237h15v7h-15zM990 244h29v7h-29zM1231 244h7v7h-7zM1253 244h15v7h-15zM990 251h22v8h-22zM1056 251h14v8h-14zM1304 251h7v8h-7zM997 259h15v7h-15zM1027 259h7v7h-7zM1048 259h15v7h-15zM1070 259h8v7h-8zM1297 259h7v7h-7zM997 266h15v7h-15zM1041 266h22v7h-22zM997 273h8v8h-8zM1034 273h29v8h-29zM1297 273h7v8h-7zM1005 281h7v7h-7zM1019 281h51v7h-51zM1268 281h14v7h-14zM1304 281h7v7h-7zM1012 288h36v7h-36zM1063 288h7v7h-7zM1289 288h8v7h-8zM1005 295h43v7h-43zM1063 295h7v7h-7zM1275 295h7v7h-7zM1289 295h22v7h-22zM1012 302h58v8h-58zM1268 302h21v8h-21zM1019 310h15v7h-15zM1275 310h14v7h-14zM1253 317h7v7h-7zM1275 317h22v7h-22zM1231 324h37v8h-37zM1289 324h8v8h-8zM1304 324h29v8h-29zM1348 324h7v8h-7zM1260 332h8v7h-8zM1275 332h7v7h-7zM1304 332h7v7h-7zM1319 332h14v7h-14zM1348 332h7v7h-7zM1231 339h15v7h-15zM1275 339h7v7h-7zM1297 339h65v7h-65zM1216 346h22v8h-22zM1246 346h7v8h-7zM1275 346h29v8h-29zM1311 346h22v8h-22zM1340 346h22v8h-22zM1216 354h15v7h-15zM1238 354h15v7h-15zM1275 354h65v7h-65zM1348 354h14v7h-14zM1224 361h44v7h-44zM1275 361h14v7h-14zM1297 361h29v7h-29zM1333 361h22v7h-22zM1238 368h30v8h-30zM1297 368h29v8h-29zM1246 376h14v7h-14zM1275 376h7v7h-7zM1289 376h44v7h-44zM1224 383h7v7h-7zM1282 383h7v7h-7zM1304 383h7v7h-7zM1268 390h21v7h-21zM1311 390h8v7h-8zM1289 397h22v8h-22zM1143 470h8v8h-8zM1158 478h7v7h-7zM1165 485h8v7h-8zM1122 500h14v7h-14zM1122 507h7v7h-7z"/>
<path fill="#00C2A8" d="M1246 156h7v8h-7zM1253 164h15v7h-15zM1297 164h7v7h-7zM1151 171h7v7h-7zM1224 171h7v7h-7zM1136 178h7v8h-7zM1151 178h7v8h-7zM1260 178h8v8h-8zM1136 186h7v7h-7zM1165 186h15v7h-15zM1224 186h7v7h-7zM1268 186h7v7h-7zM1297 186h7v7h-7zM1078 193h7v7h-7zM1092 193h15v7h-15zM1158 193h15v7h-15zM1304 193h7v7h-7zM1056 200h7v8h-7zM1070 200h8v8h-8zM1085 200h7v8h-7zM1165 200h8v8h-8zM1202 200h22v8h-22zM1253 200h7v8h-7zM1282 200h7v8h-7zM1041 208h7v7h-7zM1070 208h8v7h-8zM1216 208h15v7h-15zM1275 208h7v7h-7zM1289 208h8v7h-8zM1304 208h7v7h-7zM1012 215h15v7h-15zM1070 215h8v7h-8zM1224 215h7v7h-7zM1275 215h7v7h-7zM1297 215h7v7h-7zM1268 222h7v8h-7zM1282 222h7v8h-7zM1078 230h22v7h-22zM1136 230h7v7h-7zM1158 230h15v7h-15zM1282 230h7v7h-7zM1304 230h7v7h-7zM1092 237h8v7h-8zM1136 237h7v7h-7zM1151 237h14v7h-14zM1187 237h7v7h-7zM1275 237h7v7h-7zM1289 237h8v7h-8zM1304 237h7v7h-7zM1319 237h7v7h-7zM1092 244h30v7h-30zM1165 244h8v7h-8zM1282 244h15v7h-15zM1078 251h7v8h-7zM1114 251h15v8h-15zM1136 251h15v8h-15zM1158 251h7v8h-7zM1180 251h14v8h-14zM1268 251h7v8h-7zM1158 259h7v7h-7zM1187 259h15v7h-15zM1246 259h7v7h-7zM1100 266h36v7h-36zM1158 266h7v7h-7zM1194 266h22v7h-22zM1246 266h7v7h-7zM1319 266h7v7h-7zM1063 273h22v8h-22zM1100 273h7v8h-7zM1129 273h22v8h-22zM1194 273h8v8h-8zM1209 273h7v8h-7zM1238 273h8v8h-8zM1253 273h7v8h-7zM1311 273h22v8h-22zM1070 281h15v7h-15zM1092 281h8v7h-8zM1107 281h7v7h-7zM1122 281h14v7h-14zM1151 281h7v7h-7zM1202 281h14v7h-14zM1238 281h15v7h-15zM1319 281h14v7h-14zM1070 288h15v7h-15zM1100 288h14v7h-14zM1129 288h22v7h-22zM1194 288h22v7h-22zM1238 288h15v7h-15zM1326 288h14v7h-14zM1078 295h7v7h-7zM1114 295h8v7h-8zM1151 295h14v7h-14zM1180 295h22v7h-22zM1224 295h7v7h-7zM1078 302h7v8h-7zM1092 302h15v8h-15zM1114 302h8v8h-8zM1129 302h14v8h-14zM1158 302h7v8h-7zM1216 302h8v8h-8zM1238 302h8v8h-8zM1333 302h15v8h-15zM1070 310h8v7h-8zM1158 310h7v7h-7zM1180 310h14v7h-14zM1202 310h7v7h-7zM1085 317h29v7h-29zM1129 317h7v7h-7zM1151 317h7v7h-7zM1173 317h21v7h-21zM1224 317h7v7h-7zM1158 324h7v8h-7zM1180 324h22v8h-22zM1092 332h8v7h-8zM1122 332h7v7h-7zM1165 332h8v7h-8zM1180 332h7v7h-7zM1202 332h7v7h-7zM1092 339h8v7h-8zM1107 339h7v7h-7zM1143 339h15v7h-15zM1180 339h7v7h-7zM1085 346h7v8h-7zM1100 346h7v8h-7zM1114 346h8v8h-8zM1158 346h22v8h-22zM1187 346h7v8h-7zM1122 354h7v7h-7zM1158 354h7v7h-7zM1173 354h7v7h-7zM1122 361h7v7h-7zM1158 361h7v7h-7zM1173 361h7v7h-7zM1209 361h7v7h-7zM1092 368h8v8h-8zM1143 368h8v8h-8zM1158 368h7v8h-7zM1173 368h14v8h-14zM1209 368h7v8h-7zM1100 376h7v7h-7zM1151 376h7v7h-7zM1173 376h21v7h-21zM1202 376h7v7h-7zM1100 383h7v7h-7zM1202 383h7v7h-7zM1165 390h15v7h-15zM1194 390h8v7h-8zM1114 397h8v8h-8zM1129 397h7v8h-7zM1173 397h36v8h-36zM1107 405h7v7h-7zM1122 412h14v7h-14zM1187 412h7v7h-7zM1253 412h7v7h-7zM1129 419h22v8h-22zM1187 419h7v8h-7zM1209 419h7v8h-7zM1136 427h7v7h-7zM1151 427h7v7h-7zM1194 427h8v7h-8zM1122 434h7v7h-7zM1136 434h7v7h-7zM1151 434h7v7h-7zM1187 434h7v7h-7zM1202 434h14v7h-14zM1143 441h15v7h-15zM1180 441h7v7h-7zM1238 441h8v7h-8zM1129 448h7v8h-7zM1158 448h7v8h-7zM1202 456h7v7h-7zM1158 463h7v7h-7zM1202 463h7v7h-7zM1187 470h7v8h-7zM1165 478h8v7h-8zM1187 478h7v7h-7zM1173 485h7v7h-7z"/>
<path fill="#6CD4A0" d="M1143 178h8v8h-8zM1260 186h8v7h-8zM1260 193h22v7h-22zM1129 200h7v8h-7zM1260 200h22v8h-22zM1260 208h8v7h-8zM1282 215h7v7h-7zM1275 222h7v8h-7zM1107 230h29v7h-29zM1275 230h7v7h-7zM1289 230h8v7h-8zM1100 237h36v7h-36zM1143 237h8v7h-8zM1165 237h8v7h-8zM1282 237h7v7h-7zM1122 244h21v7h-21zM1151 244h7v7h-7zM1173 244h7v7h-7zM1107 251h7v8h-7zM1129 251h7v8h-7zM1165 251h8v8h-8zM1275 251h14v8h-14zM1136 259h7v7h-7zM1078 266h14v7h-14zM1136 266h7v7h-7zM1151 273h7v8h-7zM1100 281h7v7h-7zM1143 281h8v7h-8zM1187 281h7v7h-7zM1085 288h7v7h-7zM1122 288h7v7h-7zM1151 288h7v7h-7zM1173 288h7v7h-7zM1085 295h15v7h-15zM1129 295h22v7h-22zM1165 295h8v7h-8zM1202 295h14v7h-14zM1165 302h8v8h-8zM1180 302h29v8h-29zM1165 310h8v7h-8zM1078 317h7v7h-7zM1158 317h15v7h-15zM1194 317h22v7h-22zM1070 324h37v8h-37zM1114 324h8v8h-8zM1129 324h7v8h-7zM1165 324h15v8h-15zM1107 332h7v7h-7zM1158 332h7v7h-7zM1173 332h7v7h-7zM1187 332h7v7h-7zM1209 332h7v7h-7zM1122 339h7v7h-7zM1173 339h7v7h-7zM1187 339h22v7h-22zM1122 346h7v8h-7zM1143 346h8v8h-8zM1180 346h7v8h-7zM1085 354h7v7h-7zM1136 354h7v7h-7zM1151 354h7v7h-7zM1180 354h7v7h-7zM1092 361h8v7h-8zM1129 361h7v7h-7zM1151 361h7v7h-7zM1165 361h8v7h-8zM1129 368h7v8h-7zM1151 368h7v8h-7zM1092 376h8v7h-8zM1143 376h8v7h-8zM1158 376h15v7h-15zM1151 383h22v7h-22zM1122 390h7v7h-7zM1107 397h7v8h-7zM1122 397h7v8h-7zM1136 397h7v8h-7zM1129 405h14v7h-14zM1180 405h14v7h-14zM1114 412h8v7h-8zM1136 412h7v7h-7zM1151 412h7v7h-7zM1173 412h14v7h-14zM1114 419h15v8h-15zM1151 419h7v8h-7zM1122 427h7v7h-7zM1143 427h8v7h-8zM1158 427h7v7h-7zM1209 427h15v7h-15zM1143 434h8v7h-8zM1165 434h8v7h-8zM1180 434h7v7h-7zM1194 434h8v7h-8zM1136 441h7v7h-7zM1165 441h8v7h-8zM1187 441h7v7h-7zM1165 448h15v8h-15zM1187 448h7v8h-7zM1202 448h14v8h-14zM1173 456h14v7h-14zM1194 456h8v7h-8zM1173 463h14v7h-14zM1194 463h8v7h-8zM1173 470h7v8h-7z"/>
<path fill="#AEE49C" d="M1063 266h15v7h-15zM1143 266h15v7h-15zM1085 281h7v7h-7zM1136 281h7v7h-7zM1092 288h8v7h-8zM1187 288h7v7h-7zM1209 302h7v8h-7zM1173 310h7v7h-7zM1194 310h8v7h-8zM1209 310h7v7h-7zM1070 317h8v7h-8zM1107 324h7v8h-7zM1136 324h7v8h-7zM1209 324h7v8h-7zM1085 332h7v7h-7zM1100 332h7v7h-7zM1114 332h8v7h-8zM1129 332h14v7h-14zM1194 332h8v7h-8zM1078 339h14v7h-14zM1129 339h7v7h-7zM1165 339h8v7h-8zM1136 346h7v8h-7zM1165 354h8v7h-8zM1136 361h7v7h-7zM1136 368h7v8h-7zM1136 376h7v7h-7zM1122 383h14v7h-14zM1100 390h7v7h-7zM1129 390h14v7h-14zM1158 390h7v7h-7zM1143 397h8v8h-8zM1114 405h8v7h-8zM1143 405h15v7h-15zM1143 412h8v7h-8zM1158 419h15v8h-15zM1165 427h15v7h-15zM1173 434h7v7h-7zM1216 434h8v7h-8zM1129 441h7v7h-7zM1173 441h7v7h-7zM1194 441h22v7h-22zM1194 448h8v8h-8zM1151 470h7v8h-7zM1180 470h7v8h-7zM1136 478h7v7h-7zM1122 485h21v7h-21zM1151 485h7v7h-7zM1107 492h7v8h-7zM1122 492h21v8h-21zM1151 492h7v8h-7zM1136 500h7v7h-7zM1107 507h15v7h-15z"/>
<path fill="#E0F290" d="M1202 324h7v8h-7zM1078 332h7v7h-7zM1136 339h7v7h-7zM1129 346h7v8h-7zM1165 368h8v8h-8zM1129 376h7v7h-7zM1143 383h8v7h-8zM1143 390h8v7h-8zM1165 397h8v8h-8zM1173 405h7v7h-7zM1107 412h7v7h-7zM1165 412h8v7h-8zM1151 478h7v7h-7zM1143 485h8v7h-8zM1114 492h8v8h-8zM1100 500h22v7h-22zM1100 507h7v7h-7zM1100 514h7v8h-7z"/>
<path fill="#F4F8A8" d="M1129 354h7v7h-7zM1136 383h7v7h-7zM1151 390h7v7h-7zM1151 397h14v8h-14zM1158 405h15v7h-15z"/>
<path fill="#FEBC68" d="M1158 412h7v7h-7zM1136 463h7v7h-7z"/></g></g>
<g filter="url(#soft)"><g shape-rendering="crispEdges"><path fill="#00C2A8" d="M1698 127h7v8h-7zM1676 135h7v7h-7zM1654 142h7v7h-7zM1668 142h22v7h-22zM1698 142h7v7h-7zM1712 142h22v7h-22zM1647 149h7v7h-7zM1676 149h14v7h-14zM1698 149h7v7h-7zM1625 156h36v8h-36zM1676 156h51v8h-51zM1596 164h29v7h-29zM1632 164h22v7h-22zM1676 164h7v7h-7zM1698 164h7v7h-7zM1712 164h8v7h-8zM1727 164h7v7h-7zM1574 171h22v7h-22zM1632 171h29v7h-29zM1668 171h8v7h-8zM1720 171h7v7h-7zM1566 178h37v8h-37zM1647 178h7v8h-7zM1668 178h15v8h-15zM1690 178h8v8h-8zM1705 178h7v8h-7zM1720 178h7v8h-7zM1559 186h7v7h-7zM1581 186h7v7h-7zM1617 186h8v7h-8zM1668 186h8v7h-8zM1690 186h8v7h-8zM1712 186h15v7h-15zM1552 193h7v7h-7zM1566 193h15v7h-15zM1617 193h22v7h-22zM1661 193h7v7h-7zM1705 193h37v7h-37zM1574 200h7v8h-7zM1647 200h7v8h-7zM1668 200h8v8h-8zM1727 200h7v8h-7zM1742 200h7v8h-7zM1508 208h7v7h-7zM1617 208h8v7h-8zM1647 208h29v7h-29zM1683 208h7v7h-7zM1712 208h8v7h-8zM1727 208h7v7h-7zM1749 208h7v7h-7zM1486 215h29v7h-29zM1574 215h7v7h-7zM1596 215h43v7h-43zM1661 215h15v7h-15zM1690 215h8v7h-8zM1705 215h7v7h-7zM1450 222h7v8h-7zM1486 222h7v8h-7zM1501 222h7v8h-7zM1522 222h15v8h-15zM1559 222h22v8h-22zM1588 222h51v8h-51zM1654 222h22v8h-22zM1727 222h7v8h-7zM1749 222h7v8h-7zM1450 230h7v7h-7zM1522 230h15v7h-15zM1559 230h7v7h-7zM1596 230h14v7h-14zM1617 230h8v7h-8zM1661 230h7v7h-7zM1683 230h7v7h-7zM1749 230h7v7h-7zM1457 237h7v7h-7zM1515 237h7v7h-7zM1530 237h14v7h-14zM1552 237h29v7h-29zM1588 237h15v7h-15zM1617 237h8v7h-8zM1632 237h7v7h-7zM1654 237h29v7h-29zM1749 237h7v7h-7zM1464 244h7v7h-7zM1486 244h7v7h-7zM1530 244h7v7h-7zM1552 244h14v7h-14zM1574 244h7v7h-7zM1596 244h7v7h-7zM1610 244h22v7h-22zM1668 244h8v7h-8zM1720 244h7v7h-7zM1544 251h22v8h-22zM1574 251h7v8h-7zM1596 251h29v8h-29zM1632 251h7v8h-7zM1647 251h14v8h-14zM1698 251h7v8h-7zM1712 251h8v8h-8zM1450 259h7v7h-7zM1464 259h7v7h-7zM1486 259h7v7h-7zM1544 259h8v7h-8zM1559 259h7v7h-7zM1574 259h29v7h-29zM1610 259h7v7h-7zM1632 259h7v7h-7zM1661 259h7v7h-7zM1698 259h7v7h-7zM1457 266h7v7h-7zM1508 266h7v7h-7zM1530 266h7v7h-7zM1588 266h15v7h-15zM1617 266h8v7h-8zM1749 266h14v7h-14zM1508 273h7v8h-7zM1566 273h8v8h-8zM1742 273h7v8h-7zM1756 273h7v8h-7zM1435 281h7v7h-7zM1501 281h7v7h-7zM1515 281h7v7h-7zM1552 281h36v7h-36zM1596 281h7v7h-7zM1734 281h15v7h-15zM1501 288h7v7h-7zM1522 288h37v7h-37zM1581 288h15v7h-15zM1603 288h14v7h-14zM1625 288h7v7h-7zM1749 288h14v7h-14zM1530 295h7v7h-7zM1552 295h22v7h-22zM1581 295h7v7h-7zM1625 295h7v7h-7zM1647 295h14v7h-14zM1734 295h8v7h-8zM1749 295h14v7h-14zM1778 295h7v7h-7zM1508 302h14v8h-14zM1530 302h14v8h-14zM1559 302h7v8h-7zM1581 302h15v8h-15zM1610 302h7v8h-7zM1625 302h7v8h-7zM1654 302h7v8h-7zM1749 302h36v8h-36zM1552 310h14v7h-14zM1588 310h8v7h-8zM1610 310h22v7h-22zM1654 310h7v7h-7zM1683 310h15v7h-15zM1734 310h15v7h-15zM1756 310h7v7h-7zM1771 310h7v7h-7zM1522 317h8v7h-8zM1544 317h8v7h-8zM1559 317h44v7h-44zM1625 317h7v7h-7zM1647 317h21v7h-21zM1676 317h14v7h-14zM1742 317h36v7h-36zM1785 317h8v7h-8zM1522 324h8v8h-8zM1552 324h7v8h-7zM1566 324h22v8h-22zM1596 324h21v8h-21zM1625 324h14v8h-14zM1647 324h7v8h-7zM1676 324h14v8h-14zM1698 324h22v8h-22zM1749 324h22v8h-22zM1522 332h15v7h-15zM1559 332h15v7h-15zM1588 332h29v7h-29zM1632 332h15v7h-15zM1676 332h7v7h-7zM1690 332h8v7h-8zM1742 332h7v7h-7zM1530 339h7v7h-7zM1544 339h15v7h-15zM1581 339h7v7h-7zM1596 339h7v7h-7zM1610 339h37v7h-37zM1654 339h7v7h-7zM1690 339h8v7h-8zM1727 339h29v7h-29zM1763 339h8v7h-8zM1785 339h8v7h-8zM1522 346h88v8h-88zM1617 346h8v8h-8zM1647 346h7v8h-7zM1712 346h8v8h-8zM1727 346h22v8h-22zM1756 346h7v8h-7zM1793 346h7v8h-7zM1522 354h8v7h-8zM1537 354h29v7h-29zM1581 354h15v7h-15zM1603 354h36v7h-36zM1647 354h7v7h-7zM1683 354h22v7h-22zM1727 354h7v7h-7zM1742 354h7v7h-7zM1763 354h15v7h-15zM1793 354h7v7h-7zM1530 361h7v7h-7zM1544 361h8v7h-8zM1559 361h44v7h-44zM1610 361h7v7h-7zM1632 361h15v7h-15zM1668 361h22v7h-22zM1705 361h7v7h-7zM1559 368h7v8h-7zM1603 368h22v8h-22zM1632 368h15v8h-15zM1690 368h22v8h-22zM1763 368h8v8h-8zM1559 376h7v7h-7zM1632 376h22v7h-22zM1676 376h14v7h-14zM1749 376h7v7h-7zM1763 376h8v7h-8zM1544 383h22v7h-22zM1617 383h8v7h-8zM1647 383h7v7h-7zM1683 383h7v7h-7zM1742 383h7v7h-7zM1771 383h7v7h-7zM1544 390h30v7h-30zM1610 390h7v7h-7zM1639 390h8v7h-8zM1661 390h7v7h-7zM1683 390h7v7h-7zM1734 390h8v7h-8zM1749 390h14v7h-14zM1544 397h22v8h-22zM1610 397h22v8h-22zM1661 397h22v8h-22zM1690 397h8v8h-8zM1705 397h7v8h-7zM1734 397h15v8h-15zM1544 405h44v7h-44zM1596 405h7v7h-7zM1617 405h8v7h-8zM1654 405h58v7h-58zM1734 405h8v7h-8zM1544 412h8v7h-8zM1559 412h29v7h-29zM1596 412h43v7h-43zM1661 412h7v7h-7zM1676 412h14v7h-14zM1698 412h7v7h-7zM1712 412h8v7h-8zM1727 412h7v7h-7zM1559 419h44v8h-44zM1617 419h15v8h-15zM1654 419h22v8h-22zM1566 427h15v7h-15zM1588 427h8v7h-8zM1603 427h7v7h-7zM1574 434h36v7h-36zM1617 434h8v7h-8zM1647 434h7v7h-7zM1661 434h15v7h-15zM1698 434h7v7h-7zM1574 441h29v7h-29zM1647 441h14v7h-14zM1676 441h7v7h-7zM1574 448h14v8h-14zM1596 448h7v8h-7zM1654 448h7v8h-7zM1668 448h8v8h-8zM1581 456h22v7h-22zM1632 456h22v7h-22zM1581 463h7v7h-7zM1596 463h7v7h-7zM1639 463h15v7h-15zM1596 470h7v8h-7zM1610 470h7v8h-7zM1625 470h7v8h-7zM1639 470h8v8h-8zM1574 478h7v7h-7zM1617 478h15v7h-15zM1566 485h8v7h-8zM1610 485h7v7h-7z"/>
<path fill="#6CD4A0" d="M1705 127h15v8h-15zM1705 135h22v7h-22zM1690 142h8v7h-8zM1720 149h7v7h-7zM1661 156h7v8h-7zM1727 156h7v8h-7zM1661 164h15v7h-15zM1690 164h8v7h-8zM1720 164h7v7h-7zM1734 164h8v7h-8zM1596 171h14v7h-14zM1683 171h15v7h-15zM1734 171h8v7h-8zM1603 178h14v8h-14zM1632 178h15v8h-15zM1654 178h7v8h-7zM1698 178h7v8h-7zM1537 186h7v7h-7zM1566 186h15v7h-15zM1588 186h8v7h-8zM1632 186h15v7h-15zM1654 186h7v7h-7zM1742 186h7v7h-7zM1515 193h15v7h-15zM1588 193h29v7h-29zM1501 200h21v8h-21zM1544 200h8v8h-8zM1559 200h15v8h-15zM1581 200h7v8h-7zM1596 200h14v8h-14zM1632 200h7v8h-7zM1479 208h29v7h-29zM1559 208h7v7h-7zM1581 208h7v7h-7zM1450 215h14v7h-14zM1581 215h7v7h-7zM1428 222h7v8h-7zM1508 222h14v8h-14zM1537 222h22v8h-22zM1457 230h7v7h-7zM1493 230h15v7h-15zM1515 230h7v7h-7zM1537 230h22v7h-22zM1566 230h8v7h-8zM1581 230h7v7h-7zM1676 230h7v7h-7zM1756 230h7v7h-7zM1450 237h7v7h-7zM1464 237h7v7h-7zM1544 237h8v7h-8zM1581 237h7v7h-7zM1435 244h29v7h-29zM1508 244h7v7h-7zM1522 244h8v7h-8zM1537 244h15v7h-15zM1581 244h15v7h-15zM1661 244h7v7h-7zM1522 251h22v8h-22zM1581 251h15v8h-15zM1705 251h7v8h-7zM1720 251h7v8h-7zM1435 259h15v7h-15zM1457 259h7v7h-7zM1471 259h8v7h-8zM1552 259h7v7h-7zM1617 259h15v7h-15zM1435 266h22v7h-22zM1501 266h7v7h-7zM1522 266h8v7h-8zM1610 266h7v7h-7zM1625 266h7v7h-7zM1435 273h7v8h-7zM1450 273h7v8h-7zM1515 273h7v8h-7zM1530 273h14v8h-14zM1552 273h14v8h-14zM1617 273h15v8h-15zM1508 281h7v7h-7zM1522 281h30v7h-30zM1515 288h7v7h-7zM1559 288h15v7h-15zM1596 288h7v7h-7zM1734 288h8v7h-8zM1442 295h8v7h-8zM1515 295h15v7h-15zM1537 295h7v7h-7zM1574 295h7v7h-7zM1588 295h22v7h-22zM1639 295h8v7h-8zM1544 302h15v8h-15zM1596 302h7v8h-7zM1639 302h8v8h-8zM1734 302h8v8h-8zM1501 310h7v7h-7zM1515 310h7v7h-7zM1530 310h14v7h-14zM1596 310h7v7h-7zM1530 317h14v7h-14zM1552 317h7v7h-7zM1632 317h7v7h-7zM1515 324h7v8h-7zM1530 324h22v8h-22zM1559 324h7v8h-7zM1588 324h8v8h-8zM1785 324h8v8h-8zM1515 332h7v7h-7zM1552 332h7v7h-7zM1574 332h14v7h-14zM1698 332h7v7h-7zM1756 332h7v7h-7zM1778 332h7v7h-7zM1566 339h15v7h-15zM1588 339h8v7h-8zM1603 339h7v7h-7zM1698 339h7v7h-7zM1756 339h7v7h-7zM1778 339h7v7h-7zM1793 339h7v7h-7zM1625 346h22v8h-22zM1690 346h15v8h-15zM1749 346h7v8h-7zM1763 346h15v8h-15zM1639 354h8v7h-8zM1749 354h14v7h-14zM1537 361h7v7h-7zM1552 361h7v7h-7zM1617 361h15v7h-15zM1690 361h8v7h-8zM1756 361h22v7h-22zM1785 361h8v7h-8zM1537 368h7v8h-7zM1552 368h7v8h-7zM1596 368h7v8h-7zM1676 368h14v8h-14zM1778 368h7v8h-7zM1530 376h29v7h-29zM1566 376h8v7h-8zM1596 376h7v7h-7zM1610 376h22v7h-22zM1756 376h7v7h-7zM1596 383h7v7h-7zM1610 383h7v7h-7zM1639 383h8v7h-8zM1749 383h14v7h-14zM1537 390h7v7h-7zM1574 390h7v7h-7zM1617 390h22v7h-22zM1742 390h7v7h-7zM1566 397h44v8h-44zM1632 397h22v8h-22zM1698 397h7v8h-7zM1603 405h7v7h-7zM1625 405h22v7h-22zM1552 412h7v7h-7zM1588 412h8v7h-8zM1639 412h15v7h-15zM1668 412h8v7h-8zM1610 419h7v8h-7zM1632 419h15v8h-15zM1676 419h7v8h-7zM1559 427h7v7h-7zM1581 427h7v7h-7zM1596 427h7v7h-7zM1610 427h22v7h-22zM1676 427h7v7h-7zM1566 434h8v7h-8zM1610 434h7v7h-7zM1639 434h8v7h-8zM1676 434h7v7h-7zM1603 441h7v7h-7zM1617 441h8v7h-8zM1683 441h7v7h-7zM1639 448h15v8h-15zM1574 456h7v7h-7zM1617 456h8v7h-8zM1574 463h7v7h-7zM1588 463h8v7h-8zM1603 463h36v7h-36zM1574 470h14v8h-14zM1603 470h7v8h-7zM1617 470h8v8h-8zM1603 478h14v7h-14zM1559 485h7v7h-7z"/>
<path fill="#009BBC" d="M1720 127h7v8h-7zM1639 149h8v7h-8zM1690 149h8v7h-8zM1705 149h7v7h-7zM1617 156h8v8h-8zM1668 156h8v8h-8zM1625 164h7v7h-7zM1683 164h7v7h-7zM1610 171h22v7h-22zM1676 171h7v7h-7zM1712 171h8v7h-8zM1727 171h7v7h-7zM1617 178h15v8h-15zM1683 178h7v8h-7zM1712 178h8v8h-8zM1727 178h15v8h-15zM1625 186h7v7h-7zM1676 186h14v7h-14zM1698 186h14v7h-14zM1727 186h15v7h-15zM1654 193h7v7h-7zM1668 193h8v7h-8zM1683 193h22v7h-22zM1742 193h7v7h-7zM1493 200h8v8h-8zM1617 200h15v8h-15zM1639 200h8v8h-8zM1654 200h14v8h-14zM1676 200h7v8h-7zM1690 200h37v8h-37zM1734 200h8v8h-8zM1625 208h22v7h-22zM1676 208h7v7h-7zM1690 208h22v7h-22zM1720 208h7v7h-7zM1734 208h15v7h-15zM1639 215h22v7h-22zM1676 215h14v7h-14zM1698 215h7v7h-7zM1712 215h44v7h-44zM1581 222h7v8h-7zM1639 222h15v8h-15zM1676 222h51v8h-51zM1734 222h15v8h-15zM1574 230h7v7h-7zM1588 230h8v7h-8zM1610 230h7v7h-7zM1625 230h36v7h-36zM1668 230h8v7h-8zM1690 230h59v7h-59zM1522 237h8v7h-8zM1603 237h14v7h-14zM1625 237h7v7h-7zM1647 237h7v7h-7zM1683 237h37v7h-37zM1727 237h22v7h-22zM1756 237h7v7h-7zM1566 244h8v7h-8zM1603 244h7v7h-7zM1632 244h29v7h-29zM1676 244h44v7h-44zM1727 244h15v7h-15zM1749 244h14v7h-14zM1566 251h8v8h-8zM1625 251h7v8h-7zM1639 251h8v8h-8zM1661 251h37v8h-37zM1727 251h15v8h-15zM1749 251h14v8h-14zM1603 259h7v7h-7zM1639 259h22v7h-22zM1676 259h22v7h-22zM1705 259h44v7h-44zM1756 259h15v7h-15zM1603 266h7v7h-7zM1632 266h66v7h-66zM1742 266h7v7h-7zM1763 266h8v7h-8zM1632 273h15v8h-15zM1690 273h30v8h-30zM1727 273h15v8h-15zM1749 273h7v8h-7zM1763 273h8v8h-8zM1676 281h14v7h-14zM1705 281h7v7h-7zM1720 281h14v7h-14zM1749 281h29v7h-29zM1508 288h7v7h-7zM1617 288h8v7h-8zM1632 288h15v7h-15zM1668 288h8v7h-8zM1690 288h15v7h-15zM1720 288h14v7h-14zM1742 288h7v7h-7zM1771 288h7v7h-7zM1508 295h7v7h-7zM1544 295h8v7h-8zM1610 295h15v7h-15zM1632 295h7v7h-7zM1661 295h7v7h-7zM1676 295h36v7h-36zM1720 295h14v7h-14zM1742 295h7v7h-7zM1763 295h15v7h-15zM1566 302h15v8h-15zM1617 302h8v8h-8zM1632 302h7v8h-7zM1647 302h7v8h-7zM1661 302h44v8h-44zM1712 302h22v8h-22zM1742 302h7v8h-7zM1566 310h22v7h-22zM1632 310h22v7h-22zM1661 310h22v7h-22zM1705 310h29v7h-29zM1749 310h7v7h-7zM1763 310h8v7h-8zM1778 310h7v7h-7zM1610 317h15v7h-15zM1639 317h8v7h-8zM1668 317h8v7h-8zM1690 317h52v7h-52zM1778 317h7v7h-7zM1617 324h8v8h-8zM1639 324h8v8h-8zM1654 324h22v8h-22zM1690 324h8v8h-8zM1720 324h29v8h-29zM1537 332h15v7h-15zM1617 332h15v7h-15zM1647 332h29v7h-29zM1683 332h7v7h-7zM1705 332h37v7h-37zM1749 332h7v7h-7zM1763 332h8v7h-8zM1537 339h7v7h-7zM1559 339h7v7h-7zM1647 339h7v7h-7zM1668 339h22v7h-22zM1705 339h22v7h-22zM1771 339h7v7h-7zM1610 346h7v8h-7zM1668 346h22v8h-22zM1705 346h7v8h-7zM1720 346h7v8h-7zM1530 354h7v7h-7zM1566 354h15v7h-15zM1596 354h7v7h-7zM1654 354h7v7h-7zM1668 354h15v7h-15zM1705 354h22v7h-22zM1734 354h8v7h-8zM1603 361h7v7h-7zM1647 361h7v7h-7zM1698 361h7v7h-7zM1712 361h44v7h-44zM1566 368h8v8h-8zM1647 368h14v8h-14zM1668 368h8v8h-8zM1712 368h51v8h-51zM1771 368h7v8h-7zM1654 376h22v7h-22zM1690 376h22v7h-22zM1720 376h29v7h-29zM1771 376h7v7h-7zM1654 383h29v7h-29zM1690 383h22v7h-22zM1727 383h15v7h-15zM1763 383h8v7h-8zM1603 390h7v7h-7zM1654 390h7v7h-7zM1668 390h15v7h-15zM1690 390h44v7h-44zM1654 397h7v8h-7zM1683 397h7v8h-7zM1712 397h22v8h-22zM1588 405h8v7h-8zM1712 405h22v7h-22zM1654 412h7v7h-7zM1690 412h8v7h-8zM1705 412h7v7h-7zM1720 412h7v7h-7zM1603 419h7v8h-7zM1683 419h37v8h-37zM1654 427h22v7h-22zM1683 427h29v7h-29zM1654 434h7v7h-7zM1683 434h15v7h-15zM1661 441h15v7h-15zM1588 448h8v8h-8zM1661 448h7v8h-7zM1654 456h14v7h-14zM1654 463h7v7h-7z"/>
<path fill="#AEE49C" d="M1683 135h22v7h-22zM1661 142h7v7h-7zM1705 142h7v7h-7zM1654 149h22v7h-22zM1712 149h8v7h-8zM1727 149h7v7h-7zM1654 164h7v7h-7zM1705 164h7v7h-7zM1661 171h7v7h-7zM1698 171h14v7h-14zM1552 178h14v8h-14zM1661 178h7v8h-7zM1552 186h7v7h-7zM1610 186h7v7h-7zM1647 186h7v7h-7zM1661 186h7v7h-7zM1530 193h7v7h-7zM1544 193h8v7h-8zM1559 193h7v7h-7zM1581 193h7v7h-7zM1639 193h15v7h-15zM1522 200h8v8h-8zM1537 200h7v8h-7zM1471 208h8v7h-8zM1515 208h15v7h-15zM1566 208h15v7h-15zM1588 208h15v7h-15zM1464 215h22v7h-22zM1515 215h7v7h-7zM1566 215h8v7h-8zM1442 222h8v8h-8zM1457 222h7v8h-7zM1471 222h15v8h-15zM1493 222h8v8h-8zM1442 230h8v7h-8zM1486 230h7v7h-7zM1508 230h7v7h-7zM1442 237h8v7h-8zM1501 237h14v7h-14zM1471 244h8v7h-8zM1493 244h15v7h-15zM1515 244h7v7h-7zM1435 251h22v8h-22zM1508 259h7v7h-7zM1464 266h7v7h-7zM1493 266h8v7h-8zM1574 266h7v7h-7zM1442 273h8v8h-8zM1457 273h22v8h-22zM1501 273h7v8h-7zM1522 273h8v8h-8zM1544 273h8v8h-8zM1596 273h14v8h-14zM1442 281h29v7h-29zM1588 281h8v7h-8zM1603 281h14v7h-14zM1639 281h8v7h-8zM1654 281h14v7h-14zM1442 288h29v7h-29zM1574 288h7v7h-7zM1661 288h7v7h-7zM1450 295h7v7h-7zM1450 302h7v8h-7zM1522 302h8v8h-8zM1603 302h7v8h-7zM1508 310h7v7h-7zM1522 310h8v7h-8zM1544 310h8v7h-8zM1603 310h7v7h-7zM1515 317h7v7h-7zM1603 317h7v7h-7zM1771 324h14v8h-14zM1771 332h7v7h-7zM1785 332h8v7h-8zM1515 339h15v7h-15zM1778 346h15v8h-15zM1778 354h15v7h-15zM1778 361h7v7h-7zM1530 368h7v8h-7zM1544 368h8v8h-8zM1574 368h22v8h-22zM1625 368h7v8h-7zM1574 376h7v7h-7zM1588 376h8v7h-8zM1603 376h7v7h-7zM1537 383h7v7h-7zM1566 383h30v7h-30zM1603 383h7v7h-7zM1625 383h14v7h-14zM1581 390h7v7h-7zM1596 390h7v7h-7zM1647 390h7v7h-7zM1610 405h7v7h-7zM1647 405h7v7h-7zM1552 419h7v8h-7zM1632 427h22v7h-22zM1625 434h14v7h-14zM1625 441h22v7h-22zM1603 448h22v8h-22zM1603 456h14v7h-14zM1625 456h7v7h-7zM1632 470h7v8h-7zM1581 492h7v8h-7zM1552 507h7v7h-7zM1544 514h8v8h-8z"/>
<path fill="#E0F290" d="M1544 186h8v7h-8zM1596 186h14v7h-14zM1537 193h7v7h-7zM1530 200h7v8h-7zM1588 200h8v8h-8zM1610 200h7v8h-7zM1537 208h7v7h-7zM1610 208h7v7h-7zM1522 215h8v7h-8zM1552 215h14v7h-14zM1435 222h7v8h-7zM1464 222h7v8h-7zM1464 230h22v7h-22zM1471 237h30v7h-30zM1479 244h7v7h-7zM1428 251h7v8h-7zM1479 259h7v7h-7zM1493 259h15v7h-15zM1471 266h22v7h-22zM1515 266h7v7h-7zM1559 266h15v7h-15zM1610 273h7v8h-7zM1617 281h15v7h-15zM1647 281h7v7h-7zM1486 288h15v7h-15zM1647 288h14v7h-14zM1457 295h7v7h-7zM1471 295h15v7h-15zM1501 295h7v7h-7zM1493 302h15v8h-15zM1508 317h7v7h-7zM1508 324h7v8h-7zM1581 376h7v7h-7zM1588 390h8v7h-8zM1647 419h7v8h-7zM1559 434h7v7h-7zM1566 441h8v7h-8zM1610 441h7v7h-7zM1625 448h14v8h-14zM1566 456h8v7h-8zM1559 492h7v8h-7zM1574 500h7v7h-7zM1544 507h8v7h-8z"/>
<path fill="#0077BC" d="M1676 193h7v7h-7zM1683 200h7v8h-7zM1588 215h8v7h-8zM1639 237h8v7h-8zM1720 237h7v7h-7zM1742 244h7v7h-7zM1742 251h7v8h-7zM1566 259h8v7h-8zM1668 259h8v7h-8zM1749 259h7v7h-7zM1698 266h44v7h-44zM1647 273h43v8h-43zM1720 273h7v8h-7zM1668 281h8v7h-8zM1690 281h15v7h-15zM1712 281h8v7h-8zM1676 288h14v7h-14zM1705 288h15v7h-15zM1763 288h8v7h-8zM1668 295h8v7h-8zM1712 295h8v7h-8zM1705 302h7v8h-7zM1698 310h7v7h-7zM1661 339h7v7h-7zM1654 346h14v8h-14zM1661 354h7v7h-7zM1654 361h14v7h-14zM1661 368h7v8h-7zM1712 376h8v7h-8zM1712 383h15v7h-15z"/>
<path fill="#FEBC68" d="M1552 200h7v8h-7zM1420 230h8v7h-8zM1428 237h7v7h-7zM1428 244h7v7h-7zM1464 251h7v8h-7zM1479 251h14v8h-14z"/>
<path fill="#F4F8A8" d="M1530 208h7v7h-7zM1544 208h8v7h-8zM1603 208h7v7h-7zM1530 215h22v7h-22zM1537 266h22v7h-22zM1581 266h7v7h-7zM1479 273h22v8h-22zM1574 273h22v8h-22zM1471 281h30v7h-30zM1632 281h7v7h-7zM1479 288h7v7h-7zM1464 295h7v7h-7zM1457 302h7v8h-7zM1457 310h14v7h-14zM1566 448h8v8h-8zM1588 478h15v7h-15zM1574 485h7v7h-7zM1588 485h8v7h-8zM1566 492h15v8h-15zM1537 500h7v7h-7zM1552 500h7v7h-7zM1566 500h8v7h-8zM1559 507h7v7h-7zM1537 514h7v8h-7z"/>
<path fill="#FE9650" d="M1552 208h7v7h-7zM1501 251h21v8h-21zM1515 259h29v7h-29zM1537 507h7v7h-7z"/>
<path fill="#FEDC80" d="M1428 230h14v7h-14zM1420 237h8v7h-8zM1435 237h7v7h-7zM1457 251h7v8h-7zM1471 251h8v8h-8z"/>
<path fill="#B80040" d="M1493 251h8v8h-8z"/>
<path fill="#FEF0A0" d="M1471 288h8v7h-8zM1486 295h15v7h-15zM1464 302h29v8h-29zM1471 310h15v7h-15zM1588 470h8v8h-8zM1581 478h7v7h-7zM1581 485h7v7h-7zM1596 485h14v7h-14zM1544 492h15v8h-15zM1588 492h8v8h-8zM1544 500h8v7h-8zM1559 500h7v7h-7z"/></g></g>
<g filter="url(#soft)"><g shape-rendering="crispEdges"><path fill="#FE6C40" d="M386 841h7v7h-7zM364 848h7v7h-7zM408 848h7v7h-7zM349 855h8v8h-8zM378 855h8v8h-8zM408 855h7v8h-7zM342 863h7v7h-7zM313 870h14v7h-14zM349 870h22v7h-22zM393 870h7v7h-7zM291 877h7v8h-7zM327 877h8v8h-8zM342 877h7v8h-7zM400 877h8v8h-8zM320 885h7v7h-7zM342 885h7v7h-7zM408 885h7v7h-7zM247 892h7v7h-7zM284 892h7v7h-7zM298 892h8v7h-8zM335 892h7v7h-7zM371 892h7v7h-7zM415 892h7v7h-7zM306 899h14v7h-14zM357 899h7v7h-7zM408 899h7v7h-7zM262 906h7v8h-7zM371 906h7v8h-7zM393 906h15v8h-15zM422 906h15v8h-15zM254 914h8v7h-8zM284 914h7v7h-7zM327 914h8v7h-8zM408 914h7v7h-7zM422 914h15v7h-15zM167 921h7v7h-7zM181 921h8v7h-8zM203 921h15v7h-15zM225 921h15v7h-15zM306 921h14v7h-14zM327 921h15v7h-15zM371 921h15v7h-15zM400 921h8v7h-8zM415 921h7v7h-7zM218 928h7v8h-7zM254 928h8v8h-8zM327 928h8v8h-8zM364 928h14v8h-14zM393 928h7v8h-7zM430 928h14v8h-14zM116 936h7v7h-7zM145 936h7v7h-7zM167 936h7v7h-7zM181 936h8v7h-8zM240 936h14v7h-14zM269 936h15v7h-15zM408 936h7v7h-7zM437 936h7v7h-7zM108 943h8v7h-8zM152 943h8v7h-8zM167 943h7v7h-7zM181 943h22v7h-22zM211 943h7v7h-7zM240 943h7v7h-7zM262 943h7v7h-7zM291 943h7v7h-7zM320 943h15v7h-15zM342 943h15v7h-15zM386 943h14v7h-14zM422 943h8v7h-8zM116 950h7v8h-7zM152 950h15v8h-15zM181 950h8v8h-8zM218 950h7v8h-7zM247 950h7v8h-7zM269 950h7v8h-7zM291 950h15v8h-15zM422 950h8v8h-8zM437 950h15v8h-15zM116 958h7v7h-7zM130 958h15v7h-15zM160 958h14v7h-14zM269 958h22v7h-22zM298 958h8v7h-8zM437 958h7v7h-7zM254 965h8v7h-8zM327 965h15v7h-15zM393 965h22v7h-22zM174 972h7v8h-7zM254 972h8v8h-8zM276 972h8v8h-8zM298 972h8v8h-8zM335 972h7v8h-7zM378 972h8v8h-8zM400 972h8v8h-8zM430 972h7v8h-7zM167 980h22v7h-22zM203 980h8v7h-8zM306 980h7v7h-7zM342 980h7v7h-7zM357 980h7v7h-7zM386 980h7v7h-7zM437 980h7v7h-7zM189 987h7v7h-7zM211 987h7v7h-7zM240 987h7v7h-7zM262 987h14v7h-14zM335 987h7v7h-7zM357 987h14v7h-14zM386 987h7v7h-7zM408 987h7v7h-7zM430 987h7v7h-7zM181 994h8v7h-8zM196 994h7v7h-7zM218 994h14v7h-14zM364 994h7v7h-7zM378 994h8v7h-8zM422 994h8v7h-8zM437 994h7v7h-7zM240 1001h7v8h-7zM254 1001h8v8h-8zM320 1001h7v8h-7zM386 1001h7v8h-7zM211 1009h7v7h-7zM291 1009h7v7h-7zM313 1009h14v7h-14zM342 1009h15v7h-15zM393 1009h15v7h-15zM269 1016h7v7h-7zM298 1016h8v7h-8zM313 1016h7v7h-7zM327 1016h15v7h-15zM364 1016h7v7h-7zM386 1016h7v7h-7zM437 1016h22v7h-22zM196 1023h7v8h-7zM240 1023h7v8h-7zM262 1023h7v8h-7zM284 1023h7v8h-7zM306 1023h21v8h-21zM357 1023h7v8h-7zM444 1023h8v8h-8zM269 1031h7v7h-7zM306 1031h7v7h-7zM371 1031h15v7h-15zM400 1031h8v7h-8zM225 1038h7v7h-7zM276 1038h8v7h-8zM291 1038h7v7h-7zM306 1038h7v7h-7zM371 1038h7v7h-7zM386 1038h7v7h-7zM232 1045h8v7h-8zM247 1045h7v7h-7zM298 1045h8v7h-8zM320 1045h22v7h-22zM378 1045h8v7h-8zM232 1052h8v8h-8zM306 1052h7v8h-7zM327 1052h22v8h-22zM371 1052h22v8h-22zM473 1052h8v8h-8zM218 1060h7v7h-7zM327 1060h8v7h-8zM342 1060h15v7h-15zM218 1067h7v7h-7zM298 1067h8v7h-8zM313 1067h7v7h-7zM342 1067h7v7h-7zM218 1074h7v8h-7zM232 1074h8v8h-8zM320 1074h7v8h-7zM378 1074h15v8h-15zM415 1074h7v8h-7zM430 1074h7v8h-7zM247 1082h7v7h-7zM284 1082h7v7h-7zM306 1082h7v7h-7zM342 1082h15v7h-15zM371 1082h7v7h-7zM437 1082h7v7h-7zM306 1089h14v7h-14zM357 1089h7v7h-7zM378 1089h8v7h-8zM437 1089h7v7h-7zM313 1096h7v8h-7zM349 1096h8v8h-8zM364 1096h14v8h-14zM400 1096h8v8h-8zM342 1104h7v7h-7zM371 1104h7v7h-7zM335 1111h7v7h-7zM364 1111h7v7h-7zM378 1111h22v7h-22zM262 1118h7v8h-7zM327 1118h8v8h-8zM386 1118h7v8h-7zM232 1126h15v7h-15zM327 1126h8v7h-8zM349 1126h8v7h-8zM393 1126h7v7h-7zM415 1126h7v7h-7zM349 1133h8v7h-8zM378 1133h8v7h-8zM393 1133h15v7h-15zM254 1140h8v7h-8zM306 1140h7v7h-7zM342 1140h7v7h-7zM371 1140h7v7h-7zM247 1147h7v8h-7zM291 1147h7v8h-7zM335 1147h7v8h-7zM349 1147h8v8h-8zM313 1155h7v7h-7zM342 1155h7v7h-7zM357 1155h7v7h-7zM371 1155h7v7h-7zM254 1162h8v7h-8zM327 1162h8v7h-8zM262 1169h22v8h-22zM342 1169h7v8h-7zM291 1177h7v7h-7zM320 1184h7v7h-7zM269 1191h15v7h-15zM291 1198h7v8h-7zM262 1206h7v7h-7zM225 1213h7v7h-7zM247 1213h7v7h-7zM240 1220h7v8h-7z"/>
<path fill="#FE9650" d="M393 841h7v7h-7zM415 855h7v8h-7zM349 863h22v7h-22zM393 863h7v7h-7zM335 870h7v7h-7zM371 870h22v7h-22zM371 877h7v8h-7zM415 877h7v8h-7zM269 885h7v7h-7zM284 885h29v7h-29zM422 885h8v7h-8zM349 892h8v7h-8zM386 892h7v7h-7zM284 899h7v7h-7zM349 899h8v7h-8zM276 906h15v8h-15zM335 906h14v8h-14zM386 906h7v8h-7zM291 914h7v7h-7zM349 914h8v7h-8zM400 914h8v7h-8zM196 921h7v7h-7zM291 921h7v7h-7zM320 921h7v7h-7zM357 921h7v7h-7zM393 921h7v7h-7zM138 928h7v8h-7zM320 928h7v8h-7zM386 928h7v8h-7zM203 936h8v7h-8zM254 936h8v7h-8zM364 936h7v7h-7zM276 943h8v7h-8zM408 943h14v7h-14zM437 943h7v7h-7zM167 950h14v8h-14zM211 950h7v8h-7zM232 950h8v8h-8zM327 950h8v8h-8zM400 950h15v8h-15zM430 950h7v8h-7zM181 958h8v7h-8zM196 958h7v7h-7zM291 958h7v7h-7zM320 958h7v7h-7zM342 958h7v7h-7zM378 958h8v7h-8zM408 958h7v7h-7zM430 958h7v7h-7zM232 965h8v7h-8zM247 965h7v7h-7zM262 965h7v7h-7zM284 965h7v7h-7zM320 965h7v7h-7zM269 972h7v8h-7zM291 972h7v8h-7zM327 972h8v8h-8zM342 972h7v8h-7zM364 972h14v8h-14zM386 972h7v8h-7zM444 972h15v8h-15zM196 980h7v7h-7zM313 980h7v7h-7zM327 980h8v7h-8zM393 980h7v7h-7zM218 987h7v7h-7zM254 987h8v7h-8zM378 987h8v7h-8zM437 987h7v7h-7zM284 994h14v7h-14zM371 994h7v7h-7zM386 994h7v7h-7zM430 994h7v7h-7zM335 1001h7v8h-7zM364 1001h7v8h-7zM378 1001h8v8h-8zM430 1001h7v8h-7zM452 1001h7v8h-7zM218 1009h7v7h-7zM269 1009h15v7h-15zM371 1009h15v7h-15zM422 1009h22v7h-22zM459 1009h7v7h-7zM232 1016h8v7h-8zM262 1016h7v7h-7zM284 1016h7v7h-7zM371 1016h7v7h-7zM459 1016h7v7h-7zM269 1023h15v8h-15zM364 1023h7v8h-7zM452 1023h7v8h-7zM211 1031h7v7h-7zM232 1031h15v7h-15zM254 1031h8v7h-8zM276 1031h8v7h-8zM327 1031h8v7h-8zM357 1031h14v7h-14zM203 1038h8v7h-8zM240 1038h7v7h-7zM284 1038h7v7h-7zM298 1038h8v7h-8zM313 1038h14v7h-14zM357 1038h7v7h-7zM378 1038h8v7h-8zM211 1045h7v7h-7zM254 1045h8v7h-8zM291 1045h7v7h-7zM306 1045h7v7h-7zM342 1045h7v7h-7zM357 1045h7v7h-7zM240 1052h14v8h-14zM298 1052h8v8h-8zM313 1052h7v8h-7zM357 1052h7v8h-7zM225 1060h15v7h-15zM269 1060h7v7h-7zM313 1060h14v7h-14zM335 1060h7v7h-7zM357 1060h14v7h-14zM386 1060h7v7h-7zM247 1067h22v7h-22zM320 1067h7v7h-7zM225 1074h7v8h-7zM254 1074h8v8h-8zM225 1082h7v7h-7zM240 1082h7v7h-7zM291 1082h7v7h-7zM320 1082h15v7h-15zM364 1082h7v7h-7zM378 1082h8v7h-8zM225 1089h22v7h-22zM298 1089h8v7h-8zM327 1089h22v7h-22zM254 1096h8v8h-8zM357 1096h7v8h-7zM276 1104h8v7h-8zM349 1104h8v7h-8zM364 1104h7v7h-7zM284 1111h22v7h-22zM269 1118h7v8h-7zM335 1118h7v8h-7zM393 1118h7v8h-7zM240 1133h7v7h-7zM291 1133h7v7h-7zM342 1133h7v7h-7zM298 1147h8v8h-8zM298 1155h15v7h-15zM327 1155h8v7h-8zM306 1162h14v7h-14zM306 1169h7v8h-7zM298 1177h8v7h-8zM276 1184h8v7h-8zM327 1184h8v7h-8zM262 1191h7v7h-7zM291 1191h15v7h-15zM262 1198h7v8h-7zM298 1198h8v8h-8zM254 1206h8v7h-8zM276 1206h8v7h-8zM225 1220h7v8h-7zM247 1220h7v8h-7z"/>
<path fill="#FE4A48" d="M400 841h8v7h-8zM378 848h8v7h-8zM393 855h7v8h-7zM386 863h7v7h-7zM408 863h7v7h-7zM400 870h8v7h-8zM415 870h7v7h-7zM284 877h7v8h-7zM306 877h7v8h-7zM349 877h15v8h-15zM378 877h8v8h-8zM262 885h7v7h-7zM276 885h8v7h-8zM313 885h7v7h-7zM335 885h7v7h-7zM357 885h14v7h-14zM378 885h15v7h-15zM240 892h7v7h-7zM276 892h8v7h-8zM320 892h15v7h-15zM400 892h15v7h-15zM422 892h8v7h-8zM240 899h7v7h-7zM254 899h15v7h-15zM291 899h15v7h-15zM364 899h7v7h-7zM393 899h7v7h-7zM430 899h7v7h-7zM218 906h7v8h-7zM247 906h15v8h-15zM298 906h15v8h-15zM349 906h8v8h-8zM189 914h7v7h-7zM225 914h7v7h-7zM240 914h7v7h-7zM269 914h7v7h-7zM320 914h7v7h-7zM357 914h7v7h-7zM371 914h7v7h-7zM393 914h7v7h-7zM160 921h7v7h-7zM218 921h7v7h-7zM240 921h7v7h-7zM262 921h7v7h-7zM276 921h8v7h-8zM342 921h7v7h-7zM174 928h7v8h-7zM196 928h7v8h-7zM232 928h15v8h-15zM269 928h15v8h-15zM298 928h15v8h-15zM349 928h8v8h-8zM378 928h8v8h-8zM415 928h7v8h-7zM123 936h7v7h-7zM138 936h7v7h-7zM174 936h7v7h-7zM196 936h7v7h-7zM284 936h22v7h-22zM313 936h7v7h-7zM335 936h7v7h-7zM400 936h8v7h-8zM422 936h15v7h-15zM116 943h7v7h-7zM138 943h7v7h-7zM174 943h7v7h-7zM313 943h7v7h-7zM378 943h8v7h-8zM430 943h7v7h-7zM108 950h8v8h-8zM123 950h7v8h-7zM138 950h7v8h-7zM189 950h7v8h-7zM225 950h7v8h-7zM262 950h7v8h-7zM284 950h7v8h-7zM313 950h7v8h-7zM371 950h7v8h-7zM386 950h14v8h-14zM123 958h7v7h-7zM174 958h7v7h-7zM189 958h7v7h-7zM203 958h22v7h-22zM247 958h7v7h-7zM262 958h7v7h-7zM306 958h7v7h-7zM335 958h7v7h-7zM349 958h8v7h-8zM415 958h7v7h-7zM444 958h8v7h-8zM211 965h7v7h-7zM225 965h7v7h-7zM269 965h15v7h-15zM313 965h7v7h-7zM123 972h7v8h-7zM160 972h7v8h-7zM320 972h7v8h-7zM349 972h15v8h-15zM393 972h7v8h-7zM415 972h7v8h-7zM437 972h7v8h-7zM123 980h7v7h-7zM138 980h14v7h-14zM378 980h8v7h-8zM408 980h22v7h-22zM452 980h7v7h-7zM203 987h8v7h-8zM327 987h8v7h-8zM342 987h7v7h-7zM371 987h7v7h-7zM400 987h8v7h-8zM415 987h7v7h-7zM444 987h8v7h-8zM130 994h8v7h-8zM160 994h7v7h-7zM174 994h7v7h-7zM240 994h7v7h-7zM254 994h8v7h-8zM276 994h8v7h-8zM357 994h7v7h-7zM415 994h7v7h-7zM138 1001h7v8h-7zM167 1001h22v8h-22zM196 1001h7v8h-7zM247 1001h7v8h-7zM313 1001h7v8h-7zM327 1001h8v8h-8zM408 1001h7v8h-7zM196 1009h7v7h-7zM335 1009h7v7h-7zM408 1009h14v7h-14zM160 1016h7v7h-7zM174 1016h7v7h-7zM196 1016h7v7h-7zM320 1016h7v7h-7zM342 1016h7v7h-7zM378 1016h8v7h-8zM415 1016h15v7h-15zM152 1023h8v8h-8zM189 1023h7v8h-7zM291 1023h15v8h-15zM327 1023h8v8h-8zM349 1023h8v8h-8zM371 1023h7v8h-7zM437 1023h7v8h-7zM466 1023h7v8h-7zM196 1031h7v7h-7zM247 1031h7v7h-7zM298 1031h8v7h-8zM196 1038h7v7h-7zM247 1038h7v7h-7zM327 1038h8v7h-8zM400 1038h15v7h-15zM430 1038h14v7h-14zM371 1045h7v7h-7zM393 1045h7v7h-7zM320 1052h7v8h-7zM393 1052h7v8h-7zM422 1052h8v8h-8zM481 1052h7v8h-7zM371 1060h7v7h-7zM422 1060h15v7h-15zM452 1060h7v7h-7zM481 1060h7v7h-7zM327 1067h8v7h-8zM400 1067h8v7h-8zM473 1067h8v7h-8zM400 1074h15v8h-15zM444 1074h8v8h-8zM466 1074h7v8h-7zM386 1082h14v7h-14zM408 1082h7v7h-7zM400 1089h8v7h-8zM430 1089h7v7h-7zM444 1089h8v7h-8zM386 1096h7v8h-7zM437 1096h7v8h-7zM357 1104h7v7h-7zM378 1104h8v7h-8zM400 1104h8v7h-8zM349 1111h8v7h-8zM371 1111h7v7h-7zM400 1111h8v7h-8zM415 1111h7v7h-7zM357 1118h7v8h-7zM400 1118h15v8h-15zM342 1126h7v7h-7zM357 1126h7v7h-7zM386 1126h7v7h-7zM400 1126h8v7h-8zM364 1140h7v7h-7zM393 1140h7v7h-7zM378 1147h8v8h-8zM349 1155h8v7h-8zM335 1162h7v7h-7zM357 1162h7v7h-7zM313 1191h7v7h-7zM269 1206h7v7h-7zM232 1213h8v7h-8z"/>
<path fill="#FEBC68" d="M408 841h7v7h-7zM371 848h7v7h-7zM386 848h14v7h-14zM386 855h7v8h-7zM327 863h8v7h-8zM400 863h8v7h-8zM342 870h7v7h-7zM327 885h8v7h-8zM262 892h14v7h-14zM378 892h8v7h-8zM393 892h7v7h-7zM269 899h7v7h-7zM327 899h22v7h-22zM240 906h7v8h-7zM269 906h7v8h-7zM357 906h7v8h-7zM415 906h7v8h-7zM232 914h8v7h-8zM364 921h7v7h-7zM386 921h7v7h-7zM408 921h7v7h-7zM422 921h8v7h-8zM437 921h7v7h-7zM313 928h7v8h-7zM335 928h7v8h-7zM408 928h7v8h-7zM189 936h7v7h-7zM306 936h7v7h-7zM284 943h7v7h-7zM335 943h7v7h-7zM400 943h8v7h-8zM203 950h8v8h-8zM306 950h7v8h-7zM335 950h14v8h-14zM152 958h8v7h-8zM225 958h7v7h-7zM357 958h14v7h-14zM203 965h8v7h-8zM342 965h7v7h-7zM386 965h7v7h-7zM306 972h7v8h-7zM422 972h8v8h-8zM320 980h7v7h-7zM364 980h7v7h-7zM444 980h8v7h-8zM225 987h7v7h-7zM393 987h7v7h-7zM422 987h8v7h-8zM393 994h7v7h-7zM444 994h8v7h-8zM459 994h7v7h-7zM225 1001h7v8h-7zM262 1001h7v8h-7zM276 1001h8v8h-8zM371 1001h7v8h-7zM393 1001h15v8h-15zM415 1001h15v8h-15zM437 1001h7v8h-7zM459 1001h7v8h-7zM225 1009h7v7h-7zM247 1009h22v7h-22zM284 1009h7v7h-7zM327 1009h8v7h-8zM357 1009h7v7h-7zM386 1009h7v7h-7zM444 1009h8v7h-8zM466 1009h7v7h-7zM240 1016h14v7h-14zM276 1016h8v7h-8zM291 1016h7v7h-7zM306 1016h7v7h-7zM349 1016h8v7h-8zM430 1016h7v7h-7zM218 1023h14v8h-14zM254 1023h8v8h-8zM335 1023h14v8h-14zM291 1031h7v7h-7zM313 1031h7v7h-7zM349 1031h8v7h-8zM218 1038h7v7h-7zM232 1038h8v7h-8zM262 1038h7v7h-7zM335 1038h7v7h-7zM218 1045h7v7h-7zM240 1045h7v7h-7zM276 1045h8v7h-8zM313 1045h7v7h-7zM364 1045h7v7h-7zM211 1052h7v8h-7zM349 1052h8v8h-8zM364 1052h7v8h-7zM291 1060h7v7h-7zM378 1060h8v7h-8zM349 1067h15v7h-15zM378 1067h8v7h-8zM247 1074h7v8h-7zM284 1074h7v8h-7zM357 1074h7v8h-7zM298 1082h8v7h-8zM357 1082h7v7h-7zM262 1089h7v7h-7zM349 1089h8v7h-8zM335 1096h7v8h-7zM378 1096h8v8h-8zM232 1104h8v7h-8zM335 1104h7v7h-7zM254 1118h8v8h-8zM247 1126h7v7h-7zM291 1126h7v7h-7zM320 1126h7v7h-7zM284 1140h7v7h-7zM262 1155h14v7h-14zM313 1169h7v8h-7zM327 1169h8v8h-8zM320 1177h7v7h-7zM335 1177h7v7h-7z"/>
<path fill="#E4264A" d="M400 848h8v7h-8zM342 855h7v8h-7zM357 855h21v8h-21zM335 863h7v7h-7zM371 863h15v7h-15zM415 863h7v7h-7zM306 870h7v7h-7zM327 870h8v7h-8zM408 870h7v7h-7zM298 877h8v8h-8zM313 877h14v8h-14zM335 877h7v8h-7zM364 877h7v8h-7zM393 877h7v8h-7zM408 877h7v8h-7zM422 877h8v8h-8zM349 885h8v7h-8zM371 885h7v7h-7zM400 885h8v7h-8zM415 885h7v7h-7zM254 892h8v7h-8zM291 892h7v7h-7zM306 892h14v7h-14zM342 892h7v7h-7zM357 892h14v7h-14zM232 899h8v7h-8zM247 899h7v7h-7zM320 899h7v7h-7zM371 899h22v7h-22zM415 899h7v7h-7zM203 906h15v8h-15zM291 906h7v8h-7zM313 906h22v8h-22zM181 914h8v7h-8zM196 914h22v7h-22zM247 914h7v7h-7zM262 914h7v7h-7zM276 914h8v7h-8zM298 914h22v7h-22zM335 914h7v7h-7zM364 914h7v7h-7zM378 914h8v7h-8zM174 921h7v7h-7zM189 921h7v7h-7zM247 921h15v7h-15zM269 921h7v7h-7zM284 921h7v7h-7zM298 921h8v7h-8zM349 921h8v7h-8zM430 921h7v7h-7zM152 928h22v8h-22zM181 928h15v8h-15zM203 928h15v8h-15zM225 928h7v8h-7zM247 928h7v8h-7zM262 928h7v8h-7zM400 928h8v8h-8zM422 928h8v8h-8zM130 936h8v7h-8zM152 936h15v7h-15zM211 936h29v7h-29zM262 936h7v7h-7zM320 936h15v7h-15zM342 936h22v7h-22zM371 936h29v7h-29zM123 943h15v7h-15zM145 943h7v7h-7zM160 943h7v7h-7zM203 943h8v7h-8zM218 943h14v7h-14zM254 943h8v7h-8zM269 943h7v7h-7zM298 943h8v7h-8zM357 943h21v7h-21zM444 943h8v7h-8zM130 950h8v8h-8zM145 950h7v8h-7zM254 950h8v8h-8zM276 950h8v8h-8zM320 950h7v8h-7zM349 950h22v8h-22zM378 950h8v8h-8zM145 958h7v7h-7zM254 958h8v7h-8zM313 958h7v7h-7zM327 958h8v7h-8zM371 958h7v7h-7zM386 958h22v7h-22zM196 965h7v7h-7zM291 965h22v7h-22zM349 965h37v7h-37zM415 965h22v7h-22zM130 972h30v8h-30zM167 972h7v8h-7zM181 972h8v8h-8zM284 972h7v8h-7zM313 972h7v8h-7zM408 972h7v8h-7zM130 980h8v7h-8zM152 980h15v7h-15zM189 980h7v7h-7zM298 980h8v7h-8zM335 980h7v7h-7zM349 980h8v7h-8zM371 980h7v7h-7zM400 980h8v7h-8zM430 980h7v7h-7zM123 987h66v7h-66zM196 987h7v7h-7zM247 987h7v7h-7zM349 987h8v7h-8zM123 994h7v7h-7zM138 994h22v7h-22zM167 994h7v7h-7zM189 994h7v7h-7zM203 994h15v7h-15zM247 994h7v7h-7zM269 994h7v7h-7zM298 994h8v7h-8zM130 1001h8v8h-8zM145 1001h22v8h-22zM189 1001h7v8h-7zM130 1009h66v7h-66zM452 1009h7v7h-7zM138 1016h22v7h-22zM167 1016h7v7h-7zM181 1016h15v7h-15zM400 1016h15v7h-15zM466 1016h7v7h-7zM145 1023h7v8h-7zM160 1023h14v8h-14zM386 1023h29v8h-29zM430 1023h7v8h-7zM459 1023h7v8h-7zM386 1031h14v7h-14zM408 1031h14v7h-14zM430 1031h51v7h-51zM393 1038h7v7h-7zM422 1038h8v7h-8zM444 1038h8v7h-8zM459 1038h22v7h-22zM386 1045h7v7h-7zM400 1045h30v7h-30zM459 1045h22v7h-22zM400 1052h22v8h-22zM430 1052h7v8h-7zM459 1052h14v8h-14zM393 1060h29v7h-29zM437 1060h7v7h-7zM459 1060h22v7h-22zM386 1067h14v7h-14zM408 1067h44v7h-44zM466 1067h7v7h-7zM481 1067h7v7h-7zM437 1074h7v8h-7zM452 1074h14v8h-14zM473 1074h8v8h-8zM400 1082h8v7h-8zM415 1082h15v7h-15zM444 1082h29v7h-29zM393 1089h7v7h-7zM408 1089h22v7h-22zM452 1089h7v7h-7zM393 1096h7v8h-7zM408 1096h14v8h-14zM430 1096h7v8h-7zM444 1096h22v8h-22zM386 1104h14v7h-14zM415 1104h37v7h-37zM342 1111h7v7h-7zM357 1111h7v7h-7zM408 1111h7v7h-7zM422 1111h15v7h-15zM342 1118h15v8h-15zM364 1118h22v8h-22zM415 1118h15v8h-15zM364 1126h22v7h-22zM408 1126h7v7h-7zM357 1133h21v7h-21zM386 1133h7v7h-7zM349 1140h15v7h-15zM378 1140h15v7h-15zM342 1147h7v8h-7zM357 1147h21v8h-21zM386 1147h7v8h-7zM364 1155h7v7h-7zM342 1162h15v7h-15zM335 1169h7v8h-7zM349 1169h8v8h-8zM342 1177h7v7h-7z"/>
<path fill="#FEDC80" d="M400 855h8v8h-8zM386 877h7v8h-7zM225 899h7v7h-7zM276 899h8v7h-8zM400 899h8v7h-8zM422 899h8v7h-8zM225 906h15v8h-15zM364 906h7v8h-7zM378 906h8v8h-8zM408 906h7v8h-7zM218 914h7v7h-7zM386 914h7v7h-7zM415 914h7v7h-7zM145 928h7v8h-7zM284 928h14v8h-14zM357 928h7v8h-7zM415 936h7v7h-7zM232 943h8v7h-8zM247 943h7v7h-7zM306 943h7v7h-7zM196 950h7v8h-7zM422 958h8v7h-8zM444 965h8v7h-8zM262 972h7v8h-7zM232 987h8v7h-8zM452 987h7v7h-7zM232 994h8v7h-8zM262 994h7v7h-7zM400 994h15v7h-15zM452 994h7v7h-7zM203 1001h22v8h-22zM232 1001h8v8h-8zM284 1001h29v8h-29zM444 1001h8v8h-8zM203 1009h8v7h-8zM240 1009h7v7h-7zM298 1009h15v7h-15zM203 1016h15v7h-15zM254 1016h8v7h-8zM357 1016h7v7h-7zM203 1023h15v8h-15zM247 1023h7v8h-7zM378 1023h8v8h-8zM218 1031h7v7h-7zM262 1031h7v7h-7zM320 1031h7v7h-7zM335 1031h14v7h-14zM254 1038h8v7h-8zM269 1038h7v7h-7zM364 1038h7v7h-7zM262 1045h7v7h-7zM284 1045h7v7h-7zM349 1045h8v7h-8zM218 1052h14v8h-14zM291 1052h7v8h-7zM269 1067h7v7h-7zM291 1067h7v7h-7zM371 1067h7v7h-7zM313 1074h7v8h-7zM327 1074h22v8h-22zM364 1074h14v8h-14zM254 1082h8v7h-8zM313 1082h7v7h-7zM335 1082h7v7h-7zM364 1089h14v7h-14zM386 1089h7v7h-7zM240 1096h7v8h-7zM262 1096h7v8h-7zM327 1096h8v8h-8zM342 1096h7v8h-7zM225 1104h7v7h-7zM320 1104h7v7h-7zM276 1111h8v7h-8zM320 1111h7v7h-7zM284 1118h7v8h-7zM284 1126h7v7h-7zM335 1126h7v7h-7zM262 1133h7v7h-7zM284 1133h7v7h-7zM335 1133h7v7h-7zM262 1140h7v7h-7zM276 1140h8v7h-8zM298 1140h8v7h-8zM335 1140h7v7h-7zM320 1147h7v8h-7zM262 1162h7v7h-7zM276 1162h8v7h-8zM291 1162h7v7h-7zM262 1177h7v7h-7zM327 1177h8v7h-8zM254 1198h8v8h-8zM254 1213h8v7h-8zM232 1228h8v7h-8z"/>
<path fill="#FEF0A0" d="M393 885h7v7h-7zM342 914h7v7h-7zM342 928h7v8h-7zM240 950h7v8h-7zM415 950h7v8h-7zM232 958h15v7h-15zM123 965h15v7h-15zM145 965h7v7h-7zM174 965h15v7h-15zM218 965h7v7h-7zM240 965h7v7h-7zM437 965h7v7h-7zM269 1001h7v8h-7zM357 1001h7v8h-7zM232 1009h8v7h-8zM364 1009h7v7h-7zM218 1016h14v7h-14zM232 1023h8v8h-8zM203 1031h8v7h-8zM225 1031h7v7h-7zM284 1031h7v7h-7zM211 1038h7v7h-7zM342 1038h15v7h-15zM225 1045h7v7h-7zM269 1052h7v8h-7zM284 1060h7v7h-7zM298 1060h15v7h-15zM284 1067h7v7h-7zM335 1067h7v7h-7zM364 1067h7v7h-7zM262 1074h7v8h-7zM276 1074h8v8h-8zM306 1074h7v8h-7zM349 1074h8v8h-8zM276 1082h8v7h-8zM254 1089h8v7h-8zM284 1089h7v7h-7zM320 1089h7v7h-7zM320 1096h7v8h-7zM298 1104h8v7h-8zM240 1111h14v7h-14zM269 1111h7v7h-7zM306 1111h14v7h-14zM327 1111h8v7h-8zM276 1118h8v8h-8zM306 1118h7v8h-7zM276 1126h8v7h-8zM306 1126h14v7h-14zM269 1133h7v7h-7zM298 1133h8v7h-8zM327 1133h8v7h-8zM247 1140h7v7h-7zM291 1140h7v7h-7zM320 1140h15v7h-15zM254 1147h15v8h-15zM276 1155h8v7h-8zM291 1155h7v7h-7zM320 1155h7v7h-7zM320 1162h7v7h-7zM284 1169h7v8h-7zM269 1177h7v7h-7zM262 1184h7v7h-7zM298 1184h8v7h-8zM269 1198h22v8h-22zM247 1206h7v7h-7z"/>
<path fill="#AEE49C" d="M116 965h7v7h-7zM138 965h7v7h-7zM152 965h15v7h-15zM189 965h7v7h-7zM284 1052h7v8h-7zM211 1060h7v7h-7zM254 1060h8v7h-8zM225 1067h7v7h-7zM240 1067h7v7h-7zM232 1082h8v7h-8zM262 1082h7v7h-7zM247 1089h7v7h-7zM269 1089h7v7h-7zM225 1096h7v8h-7zM247 1096h7v8h-7zM269 1096h7v8h-7zM240 1104h14v7h-14zM262 1104h7v7h-7zM284 1104h7v7h-7zM306 1104h14v7h-14zM327 1104h8v7h-8zM254 1111h8v7h-8zM291 1118h15v8h-15zM320 1118h7v8h-7zM254 1126h8v7h-8zM298 1126h8v7h-8zM254 1133h8v7h-8zM254 1169h8v8h-8zM320 1169h7v8h-7zM306 1184h7v7h-7zM232 1220h8v8h-8z"/>
<path fill="#009BBC" d="M167 965h7v7h-7zM218 1089h7v7h-7zM276 1089h8v7h-8zM291 1096h7v8h-7zM313 1133h14v7h-14zM232 1206h8v7h-8zM240 1213h7v7h-7zM262 1213h7v7h-7z"/>
<path fill="#00C2A8" d="M211 972h14v8h-14zM203 1045h8v7h-8zM276 1052h8v8h-8zM262 1060h7v7h-7zM291 1089h7v7h-7zM232 1096h8v8h-8zM284 1096h7v8h-7zM291 1104h7v7h-7zM313 1118h7v8h-7zM306 1147h14v8h-14zM327 1147h8v8h-8zM306 1177h7v7h-7zM269 1184h7v7h-7zM284 1191h7v7h-7zM247 1198h7v8h-7zM240 1206h7v7h-7zM225 1228h7v7h-7z"/>
<path fill="#B80040" d="M393 1016h7v7h-7zM415 1023h15v8h-15zM422 1031h8v7h-8zM415 1038h7v7h-7zM452 1038h7v7h-7zM430 1045h29v7h-29zM437 1052h22v8h-22zM444 1060h8v7h-8zM452 1067h14v7h-14zM393 1074h7v8h-7zM422 1074h8v8h-8zM430 1082h7v7h-7zM459 1089h7v7h-7zM422 1096h8v8h-8zM408 1104h7v7h-7z"/>
<path fill="#E0F290" d="M269 1045h7v7h-7zM203 1052h8v8h-8zM254 1052h15v8h-15zM276 1060h8v7h-8zM211 1067h7v7h-7zM276 1067h8v7h-8zM240 1074h7v8h-7zM298 1074h8v8h-8zM269 1082h7v7h-7zM276 1096h8v8h-8zM298 1096h15v8h-15zM254 1104h8v7h-8zM262 1111h7v7h-7zM232 1118h8v8h-8zM269 1126h7v7h-7zM306 1133h7v7h-7zM269 1140h7v7h-7zM313 1140h7v7h-7zM276 1147h8v8h-8zM335 1155h7v7h-7zM284 1177h7v7h-7zM313 1177h7v7h-7zM284 1184h7v7h-7zM313 1184h7v7h-7z"/>
<path fill="#F4F8A8" d="M240 1060h14v7h-14zM232 1067h8v7h-8zM306 1067h7v7h-7zM269 1074h7v8h-7zM291 1074h7v8h-7zM218 1082h7v7h-7zM269 1104h7v7h-7zM232 1111h8v7h-8zM240 1118h14v8h-14zM262 1126h7v7h-7zM247 1133h7v7h-7zM269 1147h7v8h-7zM284 1147h7v8h-7zM254 1155h8v7h-8zM284 1155h7v7h-7zM269 1162h7v7h-7zM284 1162h7v7h-7zM298 1162h8v7h-8zM291 1169h15v8h-15zM306 1191h7v7h-7z"/></g></g>
<g filter="url(#soft)"><g shape-rendering="crispEdges"><path fill="#FE6C40" d="M824 841h8v7h-8zM817 848h7v7h-7zM795 855h15v8h-15zM766 863h22v7h-22zM795 863h7v7h-7zM832 863h7v7h-7zM853 863h8v7h-8zM722 877h7v8h-7zM737 877h7v8h-7zM788 877h7v8h-7zM810 877h7v8h-7zM853 877h8v8h-8zM722 885h15v7h-15zM824 885h15v7h-15zM729 892h15v7h-15zM810 892h7v7h-7zM832 892h7v7h-7zM853 892h8v7h-8zM678 899h8v7h-8zM722 899h7v7h-7zM737 899h7v7h-7zM810 899h7v7h-7zM656 906h8v8h-8zM686 906h7v8h-7zM737 906h7v8h-7zM751 906h7v8h-7zM766 906h7v8h-7zM810 906h7v8h-7zM853 906h8v8h-8zM868 906h7v8h-7zM620 914h7v7h-7zM656 914h22v7h-22zM700 914h15v7h-15zM751 914h15v7h-15zM853 914h8v7h-8zM605 921h7v7h-7zM700 921h7v7h-7zM744 921h7v7h-7zM810 921h7v7h-7zM824 921h8v7h-8zM846 921h15v7h-15zM664 928h29v8h-29zM715 928h7v8h-7zM744 928h7v8h-7zM758 928h8v8h-8zM810 928h7v8h-7zM839 928h7v8h-7zM853 928h8v8h-8zM875 928h8v8h-8zM554 936h7v7h-7zM737 936h7v7h-7zM773 936h7v7h-7zM861 936h7v7h-7zM561 943h8v7h-8zM612 943h15v7h-15zM671 943h7v7h-7zM751 943h7v7h-7zM780 943h8v7h-8zM802 943h8v7h-8zM868 943h15v7h-15zM627 950h15v8h-15zM729 950h8v8h-8zM802 950h15v8h-15zM868 950h7v8h-7zM583 958h8v7h-8zM634 958h8v7h-8zM671 958h7v7h-7zM707 958h8v7h-8zM722 958h7v7h-7zM744 958h7v7h-7zM780 958h8v7h-8zM846 958h15v7h-15zM875 958h8v7h-8zM634 965h8v7h-8zM715 965h7v7h-7zM744 965h7v7h-7zM766 965h7v7h-7zM824 965h15v7h-15zM875 965h8v7h-8zM612 972h8v8h-8zM729 972h8v8h-8zM780 972h15v8h-15zM817 972h7v8h-7zM832 972h7v8h-7zM861 972h7v8h-7zM883 972h7v8h-7zM591 980h7v7h-7zM758 980h8v7h-8zM788 980h7v7h-7zM802 980h15v7h-15zM824 980h22v7h-22zM591 987h7v7h-7zM612 987h8v7h-8zM634 987h30v7h-30zM671 987h15v7h-15zM788 987h14v7h-14zM700 994h15v7h-15zM802 994h8v7h-8zM839 994h7v7h-7zM853 994h22v7h-22zM671 1001h7v8h-7zM686 1001h7v8h-7zM707 1001h8v8h-8zM744 1001h7v8h-7zM795 1001h7v8h-7zM817 1001h7v8h-7zM832 1001h7v8h-7zM861 1001h7v8h-7zM883 1001h7v8h-7zM598 1009h7v7h-7zM612 1009h15v7h-15zM678 1009h8v7h-8zM729 1009h8v7h-8zM751 1009h7v7h-7zM766 1009h14v7h-14zM788 1009h7v7h-7zM810 1009h7v7h-7zM832 1009h7v7h-7zM897 1009h7v7h-7zM649 1016h15v7h-15zM722 1016h7v7h-7zM773 1016h7v7h-7zM802 1016h8v7h-8zM839 1016h7v7h-7zM853 1016h8v7h-8zM605 1023h7v8h-7zM627 1023h7v8h-7zM649 1023h7v8h-7zM671 1023h7v8h-7zM686 1023h7v8h-7zM700 1023h15v8h-15zM758 1023h8v8h-8zM773 1023h15v8h-15zM802 1023h15v8h-15zM846 1023h7v8h-7zM875 1023h15v8h-15zM904 1023h8v8h-8zM634 1031h8v7h-8zM671 1031h29v7h-29zM715 1031h7v7h-7zM729 1031h8v7h-8zM744 1031h14v7h-14zM824 1031h22v7h-22zM883 1031h14v7h-14zM649 1038h7v7h-7zM664 1038h7v7h-7zM678 1038h8v7h-8zM693 1038h14v7h-14zM715 1038h7v7h-7zM780 1038h8v7h-8zM846 1038h7v7h-7zM875 1038h8v7h-8zM700 1045h7v7h-7zM773 1045h7v7h-7zM853 1045h8v7h-8zM700 1052h7v8h-7zM715 1052h14v8h-14zM737 1052h7v8h-7zM773 1052h22v8h-22zM817 1052h7v8h-7zM861 1052h7v8h-7zM656 1060h8v7h-8zM744 1060h7v7h-7zM766 1060h7v7h-7zM780 1060h8v7h-8zM802 1060h8v7h-8zM700 1067h7v7h-7zM744 1067h7v7h-7zM766 1067h7v7h-7zM795 1067h7v7h-7zM817 1067h7v7h-7zM751 1074h7v8h-7zM766 1074h7v8h-7zM788 1074h7v8h-7zM656 1082h8v7h-8zM700 1082h7v7h-7zM773 1082h7v7h-7zM810 1082h7v7h-7zM861 1082h7v7h-7zM664 1089h14v7h-14zM707 1089h8v7h-8zM737 1089h14v7h-14zM810 1089h7v7h-7zM744 1096h7v8h-7zM868 1096h7v8h-7zM686 1104h7v7h-7zM707 1104h8v7h-8zM861 1104h7v7h-7zM671 1111h7v7h-7zM707 1111h8v7h-8zM773 1111h29v7h-29zM810 1111h7v7h-7zM686 1118h7v8h-7zM729 1118h8v8h-8zM802 1118h8v8h-8zM824 1118h8v8h-8zM846 1118h7v8h-7zM686 1126h7v7h-7zM700 1126h7v7h-7zM722 1126h7v7h-7zM802 1126h8v7h-8zM832 1126h7v7h-7zM853 1126h8v7h-8zM766 1133h7v7h-7zM788 1133h7v7h-7zM686 1140h7v7h-7zM722 1140h7v7h-7zM766 1140h7v7h-7zM780 1140h8v7h-8zM795 1140h7v7h-7zM817 1140h7v7h-7zM817 1147h7v8h-7zM693 1155h7v7h-7zM715 1155h7v7h-7zM737 1155h7v7h-7zM751 1155h15v7h-15zM773 1155h7v7h-7zM810 1155h7v7h-7zM707 1162h8v7h-8zM722 1162h7v7h-7zM700 1169h7v8h-7zM715 1169h7v8h-7zM751 1169h22v8h-22zM788 1169h7v8h-7zM715 1177h7v7h-7zM744 1177h7v7h-7zM773 1177h7v7h-7zM744 1184h7v7h-7zM766 1184h7v7h-7zM737 1198h7v8h-7zM686 1213h7v7h-7zM700 1213h7v7h-7z"/>
<path fill="#FEDC80" d="M832 841h7v7h-7zM802 870h8v7h-8zM686 899h7v7h-7zM664 906h7v8h-7zM766 914h7v7h-7zM722 921h7v7h-7zM861 921h7v7h-7zM729 928h8v8h-8zM561 936h8v7h-8zM649 936h7v7h-7zM758 936h8v7h-8zM832 936h7v7h-7zM875 936h8v7h-8zM715 943h7v7h-7zM744 943h7v7h-7zM591 958h14v7h-14zM554 965h7v7h-7zM620 965h7v7h-7zM729 965h8v7h-8zM853 965h8v7h-8zM715 972h7v8h-7zM810 987h7v7h-7zM861 987h7v7h-7zM883 987h7v7h-7zM678 994h8v7h-8zM693 994h7v7h-7zM737 994h7v7h-7zM810 994h7v7h-7zM678 1001h8v8h-8zM751 1001h7v8h-7zM846 1001h7v8h-7zM868 1001h7v8h-7zM642 1009h7v7h-7zM671 1009h7v7h-7zM802 1009h8v7h-8zM817 1009h7v7h-7zM846 1009h7v7h-7zM634 1016h8v7h-8zM678 1016h15v7h-15zM810 1016h14v7h-14zM875 1016h8v7h-8zM642 1023h7v8h-7zM693 1023h7v8h-7zM729 1023h8v8h-8zM744 1023h7v8h-7zM766 1023h7v8h-7zM795 1023h7v8h-7zM817 1023h15v8h-15zM642 1031h14v7h-14zM664 1031h7v7h-7zM795 1031h7v7h-7zM729 1038h8v7h-8zM751 1038h7v7h-7zM788 1038h22v7h-22zM824 1038h8v7h-8zM693 1045h7v7h-7zM707 1045h8v7h-8zM729 1045h8v7h-8zM795 1045h15v7h-15zM671 1052h7v8h-7zM693 1052h7v8h-7zM751 1052h7v8h-7zM810 1052h7v8h-7zM737 1060h7v7h-7zM656 1067h8v7h-8zM671 1067h7v7h-7zM715 1067h22v7h-22zM664 1074h7v8h-7zM678 1074h8v8h-8zM715 1074h7v8h-7zM810 1074h7v8h-7zM664 1082h7v7h-7zM686 1082h7v7h-7zM737 1082h7v7h-7zM766 1082h7v7h-7zM788 1082h7v7h-7zM802 1082h8v7h-8zM656 1089h8v7h-8zM678 1089h8v7h-8zM788 1089h7v7h-7zM693 1096h7v8h-7zM766 1096h7v8h-7zM817 1096h7v8h-7zM751 1104h15v7h-15zM795 1104h7v7h-7zM678 1111h8v7h-8zM671 1118h7v8h-7zM700 1118h7v8h-7zM737 1118h14v8h-14zM737 1133h7v7h-7zM700 1140h7v7h-7zM737 1140h7v7h-7zM693 1147h7v8h-7zM700 1162h7v7h-7zM744 1162h14v7h-14zM722 1169h7v8h-7zM700 1177h7v7h-7zM729 1191h8v7h-8z"/>
<path fill="#FEBC68" d="M839 841h7v7h-7zM817 855h7v8h-7zM810 863h7v7h-7zM839 863h14v7h-14zM795 870h7v7h-7zM839 870h7v7h-7zM780 892h8v7h-8zM802 892h8v7h-8zM744 899h7v7h-7zM788 899h7v7h-7zM693 906h7v8h-7zM722 914h7v7h-7zM861 914h7v7h-7zM758 921h8v7h-8zM788 921h7v7h-7zM868 921h7v7h-7zM583 928h8v8h-8zM751 928h7v8h-7zM642 936h7v7h-7zM664 936h14v7h-14zM722 936h7v7h-7zM780 936h8v7h-8zM839 943h7v7h-7zM642 950h7v8h-7zM664 950h7v8h-7zM693 950h7v8h-7zM707 950h8v8h-8zM744 950h7v8h-7zM766 950h7v8h-7zM642 958h7v7h-7zM839 958h7v7h-7zM846 965h7v7h-7zM744 972h14v8h-14zM868 972h7v8h-7zM634 980h8v7h-8zM773 980h7v7h-7zM795 980h7v7h-7zM817 980h7v7h-7zM883 980h7v7h-7zM686 987h7v7h-7zM773 987h15v7h-15zM802 987h8v7h-8zM868 987h7v7h-7zM890 987h7v7h-7zM634 994h8v7h-8zM875 994h8v7h-8zM715 1001h7v8h-7zM729 1001h8v8h-8zM758 1001h15v8h-15zM802 1001h15v8h-15zM839 1001h7v8h-7zM875 1001h8v8h-8zM890 1001h7v8h-7zM634 1009h8v7h-8zM649 1009h15v7h-15zM700 1009h7v7h-7zM737 1009h14v7h-14zM875 1009h8v7h-8zM904 1009h8v7h-8zM642 1016h7v7h-7zM671 1016h7v7h-7zM904 1016h8v7h-8zM737 1023h7v8h-7zM890 1023h14v8h-14zM700 1031h7v7h-7zM758 1031h30v7h-30zM912 1031h7v7h-7zM634 1038h8v7h-8zM686 1038h7v7h-7zM737 1038h7v7h-7zM758 1038h8v7h-8zM678 1045h8v7h-8zM737 1045h7v7h-7zM751 1045h7v7h-7zM780 1045h15v7h-15zM817 1045h7v7h-7zM744 1052h7v8h-7zM758 1052h15v8h-15zM802 1052h8v8h-8zM824 1052h8v8h-8zM664 1060h7v7h-7zM751 1060h7v7h-7zM788 1060h14v7h-14zM810 1060h14v7h-14zM686 1067h14v7h-14zM751 1067h7v7h-7zM802 1067h8v7h-8zM795 1074h7v8h-7zM758 1082h8v7h-8zM773 1089h15v7h-15zM795 1089h7v7h-7zM700 1096h7v8h-7zM773 1096h7v8h-7zM795 1096h7v8h-7zM715 1104h7v7h-7zM729 1104h8v7h-8zM780 1104h15v7h-15zM715 1111h7v7h-7zM751 1111h7v7h-7zM737 1126h7v7h-7zM744 1140h7v7h-7zM686 1147h7v8h-7zM766 1162h7v7h-7zM693 1169h7v8h-7zM722 1177h7v7h-7zM737 1177h7v7h-7zM729 1184h8v7h-8zM758 1184h8v7h-8z"/>
<path fill="#FE9650" d="M846 841h7v7h-7zM839 848h7v7h-7zM780 855h15v8h-15zM832 855h7v8h-7zM846 855h15v8h-15zM773 870h7v7h-7zM832 870h7v7h-7zM853 870h8v7h-8zM751 877h7v8h-7zM832 877h7v8h-7zM744 885h7v7h-7zM802 885h8v7h-8zM817 885h7v7h-7zM839 885h7v7h-7zM722 892h7v7h-7zM861 892h7v7h-7zM693 899h7v7h-7zM802 899h8v7h-8zM642 906h7v8h-7zM678 906h8v8h-8zM700 906h7v8h-7zM861 906h7v8h-7zM627 914h7v7h-7zM649 914h7v7h-7zM744 914h7v7h-7zM795 914h7v7h-7zM868 914h7v7h-7zM598 921h7v7h-7zM678 921h8v7h-8zM751 921h7v7h-7zM773 921h7v7h-7zM817 921h7v7h-7zM576 928h7v8h-7zM693 928h14v8h-14zM722 928h7v8h-7zM766 928h7v8h-7zM788 936h14v7h-14zM810 936h22v7h-22zM846 936h7v7h-7zM700 943h7v7h-7zM729 943h8v7h-8zM810 943h7v7h-7zM883 943h7v7h-7zM598 950h7v8h-7zM612 950h8v8h-8zM671 950h7v8h-7zM686 950h7v8h-7zM751 950h7v8h-7zM773 950h7v8h-7zM788 950h7v8h-7zM824 950h8v8h-8zM846 950h7v8h-7zM883 950h7v8h-7zM627 958h7v7h-7zM656 958h8v7h-8zM678 958h15v7h-15zM700 958h7v7h-7zM737 958h7v7h-7zM751 958h15v7h-15zM810 958h7v7h-7zM678 965h8v7h-8zM693 965h14v7h-14zM758 965h8v7h-8zM795 965h7v7h-7zM868 965h7v7h-7zM686 972h7v8h-7zM700 972h15v8h-15zM758 972h8v8h-8zM802 972h8v8h-8zM853 972h8v8h-8zM737 980h7v7h-7zM766 980h7v7h-7zM780 980h8v7h-8zM846 980h29v7h-29zM817 987h7v7h-7zM832 987h7v7h-7zM846 987h15v7h-15zM642 994h14v7h-14zM686 994h7v7h-7zM722 994h7v7h-7zM744 994h7v7h-7zM795 994h7v7h-7zM824 994h8v7h-8zM883 994h21v7h-21zM634 1001h8v8h-8zM656 1001h15v8h-15zM693 1001h7v8h-7zM722 1001h7v8h-7zM737 1001h7v8h-7zM824 1001h8v8h-8zM853 1001h8v8h-8zM897 1001h7v8h-7zM715 1009h14v7h-14zM758 1009h8v7h-8zM861 1009h7v7h-7zM664 1016h7v7h-7zM729 1016h37v7h-37zM780 1016h8v7h-8zM868 1016h7v7h-7zM897 1016h7v7h-7zM634 1023h8v8h-8zM664 1023h7v8h-7zM678 1023h8v8h-8zM715 1023h14v8h-14zM751 1023h7v8h-7zM788 1023h7v8h-7zM656 1031h8v7h-8zM722 1031h7v7h-7zM737 1031h7v7h-7zM788 1031h7v7h-7zM904 1031h8v7h-8zM642 1038h7v7h-7zM707 1038h8v7h-8zM722 1038h7v7h-7zM744 1038h7v7h-7zM766 1038h7v7h-7zM817 1038h7v7h-7zM642 1045h7v7h-7zM656 1045h8v7h-8zM758 1045h15v7h-15zM810 1045h7v7h-7zM824 1045h8v7h-8zM707 1052h8v8h-8zM795 1052h7v8h-7zM715 1060h7v7h-7zM773 1060h7v7h-7zM824 1060h8v7h-8zM758 1067h8v7h-8zM773 1067h22v7h-22zM810 1067h7v7h-7zM824 1067h8v7h-8zM707 1074h8v8h-8zM758 1074h8v8h-8zM773 1074h7v8h-7zM802 1074h8v8h-8zM693 1082h7v7h-7zM729 1082h8v7h-8zM795 1082h7v7h-7zM817 1082h7v7h-7zM766 1089h7v7h-7zM802 1089h8v7h-8zM751 1096h7v8h-7zM780 1096h8v8h-8zM722 1104h7v7h-7zM773 1104h7v7h-7zM810 1104h22v7h-22zM700 1111h7v7h-7zM729 1111h8v7h-8zM744 1111h7v7h-7zM846 1111h7v7h-7zM693 1118h7v8h-7zM707 1118h8v8h-8zM795 1118h7v8h-7zM817 1118h7v8h-7zM832 1118h7v8h-7zM853 1118h15v8h-15zM693 1126h7v7h-7zM839 1126h7v7h-7zM839 1133h7v7h-7zM758 1140h8v7h-8zM788 1140h7v7h-7zM700 1147h7v8h-7zM722 1147h7v8h-7zM729 1162h8v7h-8zM758 1162h8v7h-8zM766 1177h7v7h-7z"/>
<path fill="#FE4A48" d="M802 848h15v7h-15zM832 848h7v7h-7zM839 855h7v8h-7zM788 863h7v7h-7zM802 863h8v7h-8zM817 863h7v7h-7zM751 870h7v7h-7zM788 870h7v7h-7zM810 870h7v7h-7zM846 870h7v7h-7zM758 877h22v8h-22zM795 877h7v8h-7zM700 885h15v7h-15zM737 885h7v7h-7zM773 885h7v7h-7zM788 885h14v7h-14zM686 892h7v7h-7zM700 892h7v7h-7zM744 892h22v7h-22zM773 892h7v7h-7zM788 892h14v7h-14zM824 892h8v7h-8zM664 899h14v7h-14zM773 899h7v7h-7zM824 899h8v7h-8zM853 899h8v7h-8zM868 899h7v7h-7zM649 906h7v8h-7zM671 906h7v8h-7zM715 906h7v8h-7zM729 906h8v8h-8zM744 906h7v8h-7zM758 906h8v8h-8zM773 906h29v8h-29zM642 914h7v7h-7zM678 914h15v7h-15zM715 914h7v7h-7zM737 914h7v7h-7zM773 914h22v7h-22zM817 914h7v7h-7zM846 914h7v7h-7zM642 921h7v7h-7zM693 921h7v7h-7zM707 921h8v7h-8zM737 921h7v7h-7zM766 921h7v7h-7zM780 921h8v7h-8zM795 921h15v7h-15zM832 921h7v7h-7zM875 921h8v7h-8zM598 928h7v8h-7zM627 928h7v8h-7zM649 928h7v8h-7zM707 928h8v8h-8zM780 928h15v8h-15zM802 928h8v8h-8zM824 928h8v8h-8zM861 928h14v8h-14zM583 936h8v7h-8zM605 936h15v7h-15zM627 936h7v7h-7zM656 936h8v7h-8zM678 936h8v7h-8zM715 936h7v7h-7zM729 936h8v7h-8zM751 936h7v7h-7zM802 936h8v7h-8zM853 936h8v7h-8zM868 936h7v7h-7zM591 943h7v7h-7zM605 943h7v7h-7zM656 943h8v7h-8zM678 943h22v7h-22zM722 943h7v7h-7zM766 943h14v7h-14zM817 943h7v7h-7zM832 943h7v7h-7zM853 943h8v7h-8zM554 950h7v8h-7zM605 950h7v8h-7zM656 950h8v8h-8zM678 950h8v8h-8zM700 950h7v8h-7zM715 950h7v8h-7zM737 950h7v8h-7zM780 950h8v8h-8zM832 950h14v8h-14zM875 950h8v8h-8zM569 958h14v7h-14zM605 958h15v7h-15zM729 958h8v7h-8zM788 958h7v7h-7zM817 958h7v7h-7zM861 958h14v7h-14zM883 958h7v7h-7zM642 965h7v7h-7zM686 965h7v7h-7zM707 965h8v7h-8zM722 965h7v7h-7zM737 965h7v7h-7zM751 965h7v7h-7zM773 965h15v7h-15zM810 965h14v7h-14zM839 965h7v7h-7zM883 965h7v7h-7zM561 972h15v8h-15zM598 972h7v8h-7zM693 972h7v8h-7zM722 972h7v8h-7zM773 972h7v8h-7zM810 972h7v8h-7zM839 972h14v8h-14zM875 972h8v8h-8zM583 980h8v7h-8zM627 980h7v7h-7zM642 980h14v7h-14zM751 980h7v7h-7zM875 980h8v7h-8zM664 987h7v7h-7zM707 987h15v7h-15zM875 987h8v7h-8zM612 994h8v7h-8zM656 994h8v7h-8zM671 994h7v7h-7zM715 994h7v7h-7zM729 994h8v7h-8zM817 994h7v7h-7zM846 994h7v7h-7zM598 1001h7v8h-7zM612 1001h8v8h-8zM627 1001h7v8h-7zM773 1001h7v8h-7zM627 1009h7v7h-7zM686 1009h7v7h-7zM853 1009h8v7h-8zM605 1016h7v7h-7zM627 1016h7v7h-7zM795 1016h7v7h-7zM846 1016h7v7h-7zM861 1016h7v7h-7zM583 1023h8v8h-8zM656 1023h8v8h-8zM853 1023h8v8h-8zM868 1023h7v8h-7zM707 1031h8v7h-8zM810 1031h14v7h-14zM846 1031h7v7h-7zM671 1038h7v7h-7zM810 1038h7v7h-7zM861 1038h7v7h-7zM832 1045h14v7h-14zM832 1052h7v8h-7zM846 1052h7v8h-7zM868 1052h7v8h-7zM912 1052h7v8h-7zM758 1060h8v7h-8zM861 1060h14v7h-14zM897 1060h7v7h-7zM846 1067h7v7h-7zM868 1067h15v7h-15zM904 1067h8v7h-8zM919 1067h7v7h-7zM861 1074h14v8h-14zM912 1074h7v8h-7zM839 1082h7v7h-7zM897 1082h7v7h-7zM817 1089h7v7h-7zM846 1089h7v7h-7zM868 1089h7v7h-7zM897 1089h7v7h-7zM810 1096h7v8h-7zM846 1096h7v8h-7zM883 1096h7v8h-7zM802 1104h8v7h-8zM839 1104h7v7h-7zM853 1104h8v7h-8zM883 1104h7v7h-7zM853 1111h8v7h-8zM780 1118h15v8h-15zM839 1118h7v8h-7zM780 1126h22v7h-22zM810 1126h14v7h-14zM780 1133h8v7h-8zM795 1133h15v7h-15zM824 1133h15v7h-15zM824 1140h8v7h-8zM780 1147h15v8h-15zM802 1147h15v8h-15zM780 1155h22v7h-22zM795 1162h7v7h-7zM780 1169h8v8h-8zM780 1177h8v7h-8z"/>
<path fill="#E4264A" d="M824 848h8v7h-8zM810 855h7v8h-7zM824 855h8v8h-8zM824 863h8v7h-8zM744 870h7v7h-7zM758 870h15v7h-15zM780 870h8v7h-8zM817 870h15v7h-15zM729 877h8v8h-8zM744 877h7v8h-7zM780 877h8v8h-8zM802 877h8v8h-8zM817 877h15v8h-15zM839 877h14v8h-14zM861 877h7v8h-7zM715 885h7v7h-7zM751 885h22v7h-22zM780 885h8v7h-8zM810 885h7v7h-7zM846 885h22v7h-22zM678 892h8v7h-8zM693 892h7v7h-7zM707 892h15v7h-15zM766 892h7v7h-7zM817 892h7v7h-7zM839 892h14v7h-14zM700 899h22v7h-22zM729 899h8v7h-8zM758 899h15v7h-15zM780 899h8v7h-8zM795 899h7v7h-7zM817 899h7v7h-7zM832 899h21v7h-21zM861 899h7v7h-7zM707 906h8v8h-8zM722 906h7v8h-7zM802 906h8v8h-8zM817 906h36v8h-36zM634 914h8v7h-8zM693 914h7v7h-7zM729 914h8v7h-8zM802 914h15v7h-15zM824 914h22v7h-22zM612 921h30v7h-30zM649 921h29v7h-29zM686 921h7v7h-7zM715 921h7v7h-7zM839 921h7v7h-7zM591 928h7v8h-7zM605 928h22v8h-22zM642 928h7v8h-7zM656 928h8v8h-8zM773 928h7v8h-7zM817 928h7v8h-7zM832 928h7v8h-7zM846 928h7v8h-7zM569 936h14v7h-14zM591 936h14v7h-14zM620 936h7v7h-7zM686 936h29v7h-29zM744 936h7v7h-7zM766 936h7v7h-7zM839 936h7v7h-7zM547 943h14v7h-14zM569 943h22v7h-22zM598 943h7v7h-7zM627 943h29v7h-29zM664 943h7v7h-7zM707 943h8v7h-8zM737 943h7v7h-7zM788 943h14v7h-14zM824 943h8v7h-8zM846 943h7v7h-7zM861 943h7v7h-7zM547 950h7v8h-7zM561 950h37v8h-37zM620 950h7v8h-7zM649 950h7v8h-7zM795 950h7v8h-7zM817 950h7v8h-7zM853 950h15v8h-15zM554 958h15v7h-15zM620 958h7v7h-7zM649 958h7v7h-7zM664 958h7v7h-7zM693 958h7v7h-7zM715 958h7v7h-7zM766 958h14v7h-14zM795 958h15v7h-15zM824 958h15v7h-15zM649 965h29v7h-29zM788 965h7v7h-7zM802 965h8v7h-8zM861 965h7v7h-7zM576 972h22v8h-22zM605 972h7v8h-7zM620 972h7v8h-7zM737 972h7v8h-7zM766 972h7v8h-7zM795 972h7v8h-7zM824 972h8v8h-8zM890 972h7v8h-7zM561 980h22v7h-22zM598 980h29v7h-29zM729 980h8v7h-8zM744 980h7v7h-7zM890 980h7v7h-7zM561 987h15v7h-15zM583 987h8v7h-8zM598 987h14v7h-14zM620 987h14v7h-14zM693 987h14v7h-14zM766 987h7v7h-7zM824 987h8v7h-8zM839 987h7v7h-7zM561 994h51v7h-51zM620 994h14v7h-14zM664 994h7v7h-7zM832 994h7v7h-7zM569 1001h29v8h-29zM605 1001h7v8h-7zM620 1001h7v8h-7zM569 1009h29v7h-29zM605 1009h7v7h-7zM824 1009h8v7h-8zM839 1009h7v7h-7zM868 1009h7v7h-7zM883 1009h14v7h-14zM576 1016h29v7h-29zM612 1016h15v7h-15zM824 1016h8v7h-8zM883 1016h14v7h-14zM591 1023h14v8h-14zM832 1023h14v8h-14zM861 1023h7v8h-7zM802 1031h8v7h-8zM853 1031h30v7h-30zM897 1031h7v7h-7zM656 1038h8v7h-8zM832 1038h14v7h-14zM853 1038h8v7h-8zM868 1038h7v7h-7zM883 1038h36v7h-36zM846 1045h7v7h-7zM861 1045h22v7h-22zM897 1045h22v7h-22zM839 1052h7v8h-7zM853 1052h8v8h-8zM897 1052h7v8h-7zM919 1052h7v8h-7zM832 1060h14v7h-14zM853 1060h8v7h-8zM875 1060h22v7h-22zM904 1060h22v7h-22zM832 1067h14v7h-14zM853 1067h15v7h-15zM883 1067h21v7h-21zM912 1067h7v7h-7zM824 1074h37v8h-37zM875 1074h8v8h-8zM890 1074h22v8h-22zM824 1082h15v7h-15zM846 1082h15v7h-15zM868 1082h22v7h-22zM904 1082h8v7h-8zM824 1089h8v7h-8zM839 1089h7v7h-7zM853 1089h15v7h-15zM875 1089h22v7h-22zM824 1096h8v8h-8zM839 1096h7v8h-7zM853 1096h15v8h-15zM875 1096h8v8h-8zM890 1096h14v8h-14zM832 1104h7v7h-7zM846 1104h7v7h-7zM868 1104h15v7h-15zM802 1111h8v7h-8zM817 1111h29v7h-29zM861 1111h14v7h-14zM810 1118h7v8h-7zM824 1126h8v7h-8zM846 1126h7v7h-7zM810 1133h14v7h-14zM802 1140h15v7h-15zM832 1140h7v7h-7zM795 1147h7v8h-7zM824 1147h8v8h-8zM802 1155h8v7h-8zM773 1162h22v7h-22zM773 1169h7v8h-7zM751 1191h7v7h-7z"/>
<path fill="#FEF0A0" d="M846 848h7v7h-7zM751 899h7v7h-7zM729 921h8v7h-8zM634 928h8v8h-8zM737 928h7v8h-7zM795 928h7v8h-7zM634 936h8v7h-8zM758 943h8v7h-8zM722 950h7v8h-7zM758 950h8v8h-8zM569 965h7v7h-7zM583 965h8v7h-8zM642 1001h14v8h-14zM700 1001h7v8h-7zM664 1009h7v7h-7zM693 1009h7v7h-7zM707 1009h8v7h-8zM780 1009h8v7h-8zM795 1009h7v7h-7zM693 1016h29v7h-29zM766 1016h7v7h-7zM788 1016h7v7h-7zM773 1038h7v7h-7zM722 1045h7v7h-7zM744 1045h7v7h-7zM671 1060h7v7h-7zM693 1060h7v7h-7zM722 1060h7v7h-7zM664 1067h7v7h-7zM700 1074h7v8h-7zM744 1074h7v8h-7zM780 1074h8v8h-8zM817 1074h7v8h-7zM715 1082h14v7h-14zM744 1082h7v7h-7zM780 1082h8v7h-8zM693 1089h7v7h-7zM729 1089h8v7h-8zM751 1089h7v7h-7zM671 1096h7v8h-7zM707 1096h8v8h-8zM788 1096h7v8h-7zM802 1096h8v8h-8zM664 1104h14v7h-14zM700 1104h7v7h-7zM737 1104h7v7h-7zM686 1111h14v7h-14zM758 1111h8v7h-8zM715 1126h7v7h-7zM744 1126h7v7h-7zM773 1126h7v7h-7zM678 1133h15v7h-15zM700 1133h15v7h-15zM758 1133h8v7h-8zM773 1133h7v7h-7zM707 1140h8v7h-8zM737 1147h14v8h-14zM758 1147h8v8h-8zM707 1155h8v7h-8zM722 1155h15v7h-15zM737 1162h7v7h-7zM737 1184h7v7h-7zM751 1184h7v7h-7zM700 1191h7v7h-7zM664 1213h7v7h-7zM693 1213h7v7h-7zM671 1228h7v7h-7z"/>
<path fill="#00C2A8" d="M561 965h8v7h-8zM605 965h7v7h-7zM627 965h7v7h-7zM722 987h7v7h-7zM780 1001h8v8h-8zM686 1045h7v7h-7zM678 1052h8v8h-8zM649 1060h7v7h-7zM686 1089h7v7h-7zM737 1111h7v7h-7zM766 1111h7v7h-7zM773 1118h7v8h-7zM729 1133h8v7h-8zM751 1140h7v7h-7zM707 1147h8v8h-8zM715 1162h7v7h-7z"/>
<path fill="#009BBC" d="M576 965h7v7h-7zM591 965h14v7h-14zM612 965h8v7h-8zM678 980h8v7h-8zM737 987h7v7h-7zM780 994h8v7h-8zM678 1067h8v7h-8zM671 1074h7v8h-7zM671 1082h15v7h-15zM758 1096h8v8h-8zM744 1104h7v7h-7zM766 1104h7v7h-7zM722 1184h7v7h-7zM671 1206h7v7h-7zM664 1220h7v8h-7z"/>
<path fill="#B80040" d="M576 987h7v7h-7zM832 1016h7v7h-7zM883 1045h14v7h-14zM875 1052h22v8h-22zM904 1052h8v8h-8zM846 1060h7v7h-7zM883 1074h7v8h-7zM890 1082h7v7h-7zM832 1089h7v7h-7zM832 1096h7v8h-7z"/>
<path fill="#AEE49C" d="M649 1045h7v7h-7zM715 1045h7v7h-7zM642 1052h7v8h-7zM729 1060h8v7h-8zM737 1067h7v7h-7zM656 1074h8v8h-8zM729 1074h8v8h-8zM700 1089h7v7h-7zM722 1096h15v8h-15zM722 1111h7v7h-7zM678 1118h8v8h-8zM722 1118h7v8h-7zM707 1126h8v7h-8zM766 1126h7v7h-7zM693 1133h7v7h-7zM715 1133h7v7h-7zM744 1133h7v7h-7zM729 1140h8v7h-8zM773 1147h7v8h-7zM729 1169h8v8h-8zM707 1191h8v7h-8zM737 1191h14v7h-14z"/>
<path fill="#E0F290" d="M664 1045h14v7h-14zM649 1052h22v8h-22zM686 1052h7v8h-7zM678 1060h8v7h-8zM707 1060h8v7h-8zM649 1067h7v7h-7zM686 1074h14v8h-14zM737 1074h7v8h-7zM686 1096h7v8h-7zM715 1096h7v8h-7zM737 1096h7v8h-7zM751 1118h15v8h-15zM729 1126h8v7h-8zM751 1126h15v7h-15zM751 1133h7v7h-7zM773 1140h7v7h-7zM766 1147h7v8h-7zM766 1155h7v7h-7zM737 1169h7v8h-7zM707 1177h8v7h-8zM729 1177h8v7h-8z"/>
<path fill="#F4F8A8" d="M729 1052h8v8h-8zM686 1060h7v7h-7zM700 1060h7v7h-7zM707 1067h8v7h-8zM722 1074h7v8h-7zM758 1089h8v7h-8zM664 1096h7v8h-7zM678 1096h8v8h-8zM678 1104h8v7h-8zM715 1118h7v8h-7zM766 1118h7v8h-7zM722 1133h7v7h-7zM693 1140h7v7h-7zM715 1140h7v7h-7zM715 1147h7v8h-7zM729 1147h8v8h-8zM751 1147h7v8h-7zM700 1155h7v7h-7z"/></g></g>
<g filter="url(#soft)"><g shape-rendering="crispEdges"><path fill="#FE4A48" d="M1260 841h8v7h-8zM1275 841h15v7h-15zM1260 848h8v7h-8zM1224 855h14v8h-14zM1246 855h7v8h-7zM1282 855h8v8h-8zM1246 863h14v7h-14zM1275 863h7v7h-7zM1290 863h7v7h-7zM1180 870h7v7h-7zM1253 870h7v7h-7zM1195 877h7v8h-7zM1209 877h8v8h-8zM1224 877h7v8h-7zM1246 877h7v8h-7zM1260 877h8v8h-8zM1136 885h22v7h-22zM1166 885h14v7h-14zM1187 885h15v7h-15zM1238 885h8v7h-8zM1282 885h8v7h-8zM1144 892h7v7h-7zM1158 892h15v7h-15zM1217 892h7v7h-7zM1231 892h7v7h-7zM1260 892h15v7h-15zM1224 899h14v7h-14zM1268 899h7v7h-7zM1282 899h8v7h-8zM1297 899h7v7h-7zM1078 906h14v8h-14zM1100 906h7v8h-7zM1122 906h22v8h-22zM1224 906h7v8h-7zM1246 906h7v8h-7zM1290 906h7v8h-7zM1078 914h14v7h-14zM1144 914h7v7h-7zM1173 914h7v7h-7zM1195 914h7v7h-7zM1231 914h7v7h-7zM1268 914h14v7h-14zM1290 914h7v7h-7zM1304 914h8v7h-8zM1085 921h15v7h-15zM1122 921h14v7h-14zM1144 921h7v7h-7zM1202 921h15v7h-15zM1297 921h15v7h-15zM1012 928h8v8h-8zM1027 928h7v8h-7zM1041 928h8v8h-8zM1085 928h7v8h-7zM1136 928h8v8h-8zM1158 928h8v8h-8zM1253 928h7v8h-7zM1282 928h8v8h-8zM1297 928h7v8h-7zM1312 928h7v8h-7zM1041 936h8v7h-8zM1151 936h15v7h-15zM1173 936h7v7h-7zM1195 936h7v7h-7zM1209 936h15v7h-15zM1282 936h8v7h-8zM1297 936h7v7h-7zM1092 943h8v7h-8zM1166 943h7v7h-7zM1187 943h8v7h-8zM1268 943h7v7h-7zM1290 943h7v7h-7zM1304 943h8v7h-8zM998 950h7v8h-7zM1020 950h7v8h-7zM1078 950h7v8h-7zM1114 950h8v8h-8zM1136 950h15v8h-15zM1209 950h8v8h-8zM1231 950h7v8h-7zM1246 950h29v8h-29zM1282 950h22v8h-22zM990 958h15v7h-15zM1071 958h7v7h-7zM1238 958h8v7h-8zM1260 958h15v7h-15zM1319 958h7v7h-7zM1005 965h7v7h-7zM1056 965h7v7h-7zM1114 965h8v7h-8zM1158 965h8v7h-8zM1297 965h7v7h-7zM1049 972h7v8h-7zM1063 972h8v8h-8zM1107 972h7v8h-7zM1129 972h7v8h-7zM1158 972h8v8h-8zM1180 972h7v8h-7zM1217 972h7v8h-7zM1231 972h7v8h-7zM1253 972h7v8h-7zM1304 972h8v8h-8zM1144 980h7v7h-7zM1158 980h15v7h-15zM1297 980h7v7h-7zM1326 980h7v7h-7zM1034 987h7v7h-7zM1078 987h7v7h-7zM1129 987h7v7h-7zM1173 987h7v7h-7zM1195 987h7v7h-7zM1231 987h7v7h-7zM1246 987h14v7h-14zM1326 987h7v7h-7zM998 994h14v7h-14zM1049 994h7v7h-7zM1071 994h7v7h-7zM1085 994h7v7h-7zM1136 994h8v7h-8zM1238 994h8v7h-8zM1034 1001h7v8h-7zM1129 1001h7v8h-7zM1151 1001h7v8h-7zM1260 1001h8v8h-8zM1297 1001h7v8h-7zM1326 1001h15v8h-15zM1092 1009h15v7h-15zM1129 1009h7v7h-7zM1144 1009h7v7h-7zM1304 1009h8v7h-8zM1020 1016h7v7h-7zM1063 1016h8v7h-8zM1078 1016h7v7h-7zM1092 1016h22v7h-22zM1129 1016h7v7h-7zM1158 1016h8v7h-8zM1260 1016h8v7h-8zM1319 1016h7v7h-7zM1333 1016h15v7h-15zM1173 1023h14v8h-14zM1304 1023h8v8h-8zM1166 1031h7v7h-7zM1268 1031h7v7h-7zM1297 1031h15v7h-15zM1319 1031h7v7h-7zM1268 1038h14v7h-14zM1312 1038h7v7h-7zM1341 1038h14v7h-14zM1166 1045h7v7h-7zM1275 1045h7v7h-7zM1304 1045h8v7h-8zM1231 1052h7v8h-7zM1326 1060h7v7h-7zM1144 1067h7v7h-7zM1158 1067h8v7h-8zM1231 1067h7v7h-7zM1282 1067h22v7h-22zM1333 1067h8v7h-8zM1217 1074h7v8h-7zM1275 1074h7v8h-7zM1319 1074h7v8h-7zM1166 1082h7v7h-7zM1275 1082h7v7h-7zM1312 1082h7v7h-7zM1282 1089h8v7h-8zM1304 1089h8v7h-8zM1290 1096h7v8h-7zM1319 1096h7v8h-7zM1282 1104h8v7h-8zM1224 1111h7v7h-7zM1253 1111h7v7h-7zM1290 1111h7v7h-7zM1304 1111h8v7h-8zM1202 1118h15v8h-15zM1224 1118h7v8h-7zM1246 1118h7v8h-7zM1260 1118h8v8h-8zM1195 1126h14v7h-14zM1217 1126h7v7h-7zM1231 1126h15v7h-15zM1253 1126h7v7h-7zM1290 1126h7v7h-7zM1217 1133h7v7h-7zM1246 1133h7v7h-7zM1268 1133h7v7h-7zM1202 1140h7v7h-7zM1231 1140h7v7h-7zM1246 1140h7v7h-7zM1268 1140h7v7h-7zM1217 1147h7v8h-7zM1231 1147h29v8h-29zM1202 1155h7v7h-7zM1224 1155h7v7h-7zM1246 1155h7v7h-7zM1195 1162h29v7h-29zM1195 1169h7v8h-7zM1217 1169h7v8h-7zM1202 1184h7v7h-7z"/>
<path fill="#FE6C40" d="M1268 841h7v7h-7zM1238 848h15v7h-15zM1282 848h8v7h-8zM1217 863h7v7h-7zM1224 870h14v7h-14zM1166 877h7v8h-7zM1180 877h7v8h-7zM1268 877h7v8h-7zM1282 877h15v8h-15zM1202 885h7v7h-7zM1268 885h7v7h-7zM1114 892h8v7h-8zM1180 892h15v7h-15zM1224 892h7v7h-7zM1238 892h8v7h-8zM1282 892h8v7h-8zM1100 899h22v7h-22zM1151 899h7v7h-7zM1166 899h7v7h-7zM1195 899h7v7h-7zM1246 899h7v7h-7zM1290 899h7v7h-7zM1107 906h15v8h-15zM1166 906h14v8h-14zM1217 906h7v8h-7zM1253 906h7v8h-7zM1107 914h7v7h-7zM1151 914h15v7h-15zM1209 914h8v7h-8zM1224 914h7v7h-7zM1238 914h8v7h-8zM1297 914h7v7h-7zM1107 921h15v7h-15zM1166 921h7v7h-7zM1282 921h8v7h-8zM1020 928h7v8h-7zM1092 928h8v8h-8zM1107 928h7v8h-7zM1166 928h21v8h-21zM1224 928h7v8h-7zM1260 928h8v8h-8zM1290 928h7v8h-7zM1304 928h8v8h-8zM1049 936h7v7h-7zM1100 936h7v7h-7zM1180 936h7v7h-7zM1202 936h7v7h-7zM1253 936h7v7h-7zM1049 943h7v7h-7zM1114 943h8v7h-8zM1136 943h8v7h-8zM1151 943h15v7h-15zM1202 943h7v7h-7zM1238 943h15v7h-15zM1107 950h7v8h-7zM1129 950h7v8h-7zM1166 950h7v8h-7zM1180 950h7v8h-7zM1224 950h7v8h-7zM1041 958h8v7h-8zM1063 958h8v7h-8zM1085 958h7v7h-7zM1100 958h14v7h-14zM1136 958h15v7h-15zM1202 958h7v7h-7zM1224 958h7v7h-7zM1253 958h7v7h-7zM1290 958h7v7h-7zM990 965h15v7h-15zM1049 965h7v7h-7zM1063 965h15v7h-15zM1107 965h7v7h-7zM1129 965h7v7h-7zM1166 965h7v7h-7zM1180 965h15v7h-15zM1217 965h7v7h-7zM1253 965h7v7h-7zM1268 965h7v7h-7zM1290 965h7v7h-7zM1319 965h7v7h-7zM1092 972h8v8h-8zM1114 972h8v8h-8zM1209 972h8v8h-8zM1260 972h8v8h-8zM1282 972h8v8h-8zM1319 972h7v8h-7zM1085 980h7v7h-7zM1195 980h29v7h-29zM1275 980h7v7h-7zM1304 980h8v7h-8zM1319 980h7v7h-7zM1049 987h7v7h-7zM1071 987h7v7h-7zM1092 987h8v7h-8zM1122 987h7v7h-7zM1158 987h8v7h-8zM1224 987h7v7h-7zM1238 987h8v7h-8zM1290 987h7v7h-7zM1304 987h8v7h-8zM1056 994h7v7h-7zM1078 994h7v7h-7zM1100 994h14v7h-14zM1122 994h14v7h-14zM1144 994h7v7h-7zM1166 994h7v7h-7zM1187 994h8v7h-8zM1231 994h7v7h-7zM1290 994h14v7h-14zM1312 994h7v7h-7zM1078 1001h7v8h-7zM1122 1001h7v8h-7zM1144 1001h7v8h-7zM1187 1001h8v8h-8zM1246 1001h14v8h-14zM1290 1001h7v8h-7zM1304 1001h8v8h-8zM1319 1001h7v8h-7zM1012 1009h8v7h-8zM1027 1009h7v7h-7zM1078 1009h7v7h-7zM1136 1009h8v7h-8zM1151 1009h15v7h-15zM1187 1009h15v7h-15zM1224 1009h7v7h-7zM1253 1009h7v7h-7zM1282 1009h8v7h-8zM1122 1016h7v7h-7zM1136 1016h8v7h-8zM1151 1016h7v7h-7zM1166 1016h7v7h-7zM1297 1016h7v7h-7zM1312 1016h7v7h-7zM1020 1023h7v8h-7zM1063 1023h15v8h-15zM1092 1023h8v8h-8zM1107 1023h7v8h-7zM1151 1023h7v8h-7zM1166 1023h7v8h-7zM1195 1023h7v8h-7zM1253 1023h15v8h-15zM1290 1023h7v8h-7zM1319 1023h7v8h-7zM1333 1023h15v8h-15zM1071 1031h7v7h-7zM1092 1031h15v7h-15zM1144 1031h7v7h-7zM1217 1031h7v7h-7zM1238 1031h8v7h-8zM1253 1031h7v7h-7zM1282 1031h8v7h-8zM1312 1031h7v7h-7zM1348 1031h7v7h-7zM1180 1038h7v7h-7zM1209 1038h8v7h-8zM1246 1038h7v7h-7zM1304 1038h8v7h-8zM1114 1045h8v7h-8zM1158 1045h8v7h-8zM1217 1045h14v7h-14zM1253 1045h7v7h-7zM1282 1045h8v7h-8zM1144 1052h14v8h-14zM1209 1052h8v8h-8zM1246 1052h22v8h-22zM1275 1052h15v8h-15zM1355 1052h8v8h-8zM1173 1060h7v7h-7zM1224 1060h14v7h-14zM1253 1060h7v7h-7zM1282 1060h8v7h-8zM1348 1060h7v7h-7zM1187 1067h15v7h-15zM1268 1067h7v7h-7zM1341 1067h7v7h-7zM1355 1067h8v7h-8zM1158 1074h8v8h-8zM1195 1074h7v8h-7zM1231 1074h15v8h-15zM1312 1074h7v8h-7zM1348 1074h7v8h-7zM1195 1082h14v7h-14zM1224 1082h7v7h-7zM1341 1082h7v7h-7zM1246 1089h22v7h-22zM1326 1089h15v7h-15zM1114 1096h8v8h-8zM1246 1096h7v8h-7zM1297 1096h7v8h-7zM1333 1096h8v8h-8zM1195 1104h7v7h-7zM1253 1104h7v7h-7zM1275 1104h7v7h-7zM1209 1111h8v7h-8zM1238 1111h15v7h-15zM1260 1111h8v7h-8zM1231 1118h7v8h-7zM1290 1118h7v8h-7zM1224 1126h7v7h-7zM1282 1126h8v7h-8zM1209 1133h8v7h-8zM1224 1133h7v7h-7zM1238 1133h8v7h-8zM1158 1140h8v7h-8zM1158 1147h8v8h-8zM1195 1147h7v8h-7zM1209 1147h8v8h-8zM1224 1147h7v8h-7zM1260 1147h8v8h-8zM1151 1155h7v7h-7zM1195 1155h7v7h-7zM1231 1155h7v7h-7zM1231 1162h7v7h-7zM1195 1177h7v7h-7zM1166 1191h7v7h-7z"/>
<path fill="#FE9650" d="M1253 848h7v7h-7zM1268 855h14v8h-14zM1231 863h15v7h-15zM1195 870h7v7h-7zM1268 870h14v7h-14zM1290 870h7v7h-7zM1158 877h8v8h-8zM1231 877h15v8h-15zM1275 877h7v8h-7zM1297 877h7v8h-7zM1224 885h7v7h-7zM1246 885h7v7h-7zM1297 885h7v7h-7zM1122 892h14v7h-14zM1202 892h7v7h-7zM1246 892h7v7h-7zM1129 899h7v7h-7zM1173 899h7v7h-7zM1217 899h7v7h-7zM1238 899h8v7h-8zM1195 906h14v8h-14zM1056 914h7v7h-7zM1071 914h7v7h-7zM1092 914h8v7h-8zM1122 914h14v7h-14zM1187 914h8v7h-8zM1217 914h7v7h-7zM1246 914h14v7h-14zM1282 914h8v7h-8zM1041 921h8v7h-8zM1100 921h7v7h-7zM1158 921h8v7h-8zM1195 921h7v7h-7zM1238 921h15v7h-15zM1260 921h8v7h-8zM1312 921h7v7h-7zM1100 928h7v8h-7zM1114 928h8v8h-8zM1144 928h7v8h-7zM1217 928h7v8h-7zM1231 928h7v8h-7zM1085 936h7v7h-7zM1238 936h8v7h-8zM1260 936h15v7h-15zM1304 936h8v7h-8zM1041 943h8v7h-8zM1071 943h7v7h-7zM1100 943h7v7h-7zM1129 943h7v7h-7zM1144 943h7v7h-7zM1173 943h7v7h-7zM1282 943h8v7h-8zM1297 943h7v7h-7zM1085 950h7v8h-7zM1202 950h7v8h-7zM1217 950h7v8h-7zM1312 950h7v8h-7zM1173 958h7v7h-7zM1304 958h15v7h-15zM1122 965h7v7h-7zM1202 965h7v7h-7zM1246 965h7v7h-7zM1304 965h8v7h-8zM1151 972h7v8h-7zM1166 972h14v8h-14zM1275 972h7v8h-7zM1056 980h7v7h-7zM1092 980h8v7h-8zM1246 980h7v7h-7zM1107 987h15v7h-15zM1144 987h7v7h-7zM1187 987h8v7h-8zM1202 987h22v7h-22zM1275 987h15v7h-15zM1312 987h7v7h-7zM1151 994h7v7h-7zM1173 994h7v7h-7zM1253 994h7v7h-7zM1268 994h14v7h-14zM1326 994h7v7h-7zM1092 1001h30v8h-30zM1180 1001h7v8h-7zM1275 1001h7v8h-7zM1005 1009h7v7h-7zM1085 1009h7v7h-7zM1107 1009h7v7h-7zM1122 1009h7v7h-7zM1166 1009h7v7h-7zM1180 1009h7v7h-7zM1209 1009h8v7h-8zM1231 1009h15v7h-15zM1260 1009h8v7h-8zM1326 1009h15v7h-15zM1144 1016h7v7h-7zM1209 1016h8v7h-8zM1253 1016h7v7h-7zM1027 1023h22v8h-22zM1078 1023h7v8h-7zM1129 1023h7v8h-7zM1187 1023h8v8h-8zM1202 1023h7v8h-7zM1217 1023h7v8h-7zM1231 1023h7v8h-7zM1312 1023h7v8h-7zM1078 1031h14v7h-14zM1173 1031h14v7h-14zM1195 1031h7v7h-7zM1209 1031h8v7h-8zM1231 1031h7v7h-7zM1246 1031h7v7h-7zM1341 1031h7v7h-7zM1151 1038h15v7h-15zM1202 1038h7v7h-7zM1224 1038h14v7h-14zM1253 1038h15v7h-15zM1078 1045h7v7h-7zM1173 1045h29v7h-29zM1238 1045h8v7h-8zM1260 1045h8v7h-8zM1166 1052h7v8h-7zM1187 1052h8v8h-8zM1238 1052h8v8h-8zM1151 1060h22v7h-22zM1180 1060h15v7h-15zM1202 1060h7v7h-7zM1217 1060h7v7h-7zM1202 1067h7v7h-7zM1224 1067h7v7h-7zM1151 1074h7v8h-7zM1173 1074h7v8h-7zM1202 1074h15v8h-15zM1246 1074h7v8h-7zM1246 1082h7v7h-7zM1202 1089h7v7h-7zM1224 1089h7v7h-7zM1202 1096h7v8h-7zM1217 1104h7v7h-7zM1246 1104h7v7h-7zM1275 1111h7v7h-7zM1268 1118h22v8h-22zM1268 1126h7v7h-7zM1202 1133h7v7h-7zM1275 1133h7v7h-7zM1209 1140h15v7h-15zM1209 1155h15v7h-15zM1224 1162h7v7h-7zM1202 1177h22v7h-22z"/>
<path fill="#E4264A" d="M1268 848h7v7h-7zM1253 855h15v8h-15zM1202 863h15v7h-15zM1224 863h7v7h-7zM1260 863h15v7h-15zM1187 870h8v7h-8zM1202 870h22v7h-22zM1173 877h7v8h-7zM1187 877h8v8h-8zM1202 877h7v8h-7zM1217 877h7v8h-7zM1180 885h7v7h-7zM1209 885h15v7h-15zM1290 885h7v7h-7zM1136 892h8v7h-8zM1173 892h7v7h-7zM1195 892h7v7h-7zM1209 892h8v7h-8zM1290 892h7v7h-7zM1202 899h15v7h-15zM1260 899h8v7h-8zM1304 899h8v7h-8zM1092 906h8v8h-8zM1275 906h7v8h-7zM1297 906h15v8h-15zM1100 914h7v7h-7zM1049 921h36v7h-36zM1136 921h8v7h-8zM1217 921h7v7h-7zM1253 921h7v7h-7zM1268 921h14v7h-14zM1290 921h7v7h-7zM1034 928h7v8h-7zM1049 928h36v8h-36zM1122 928h7v8h-7zM1209 928h8v8h-8zM1238 928h8v8h-8zM1268 928h14v8h-14zM998 936h43v7h-43zM1056 936h29v7h-29zM1107 936h29v7h-29zM983 943h58v7h-58zM1056 943h15v7h-15zM1078 943h14v7h-14zM1107 943h7v7h-7zM1209 943h22v7h-22zM1275 943h7v7h-7zM983 950h15v8h-15zM1005 950h15v8h-15zM1027 950h51v8h-51zM1092 950h15v8h-15zM1151 950h15v8h-15zM1005 958h36v7h-36zM1049 958h14v7h-14zM1078 958h7v7h-7zM1122 958h7v7h-7zM1158 958h8v7h-8zM1209 958h8v7h-8zM1231 958h7v7h-7zM1012 965h37v7h-37zM1078 965h14v7h-14zM1100 965h7v7h-7zM1209 965h8v7h-8zM1224 965h14v7h-14zM1275 965h15v7h-15zM998 972h51v8h-51zM1056 972h7v8h-7zM1071 972h14v8h-14zM1122 972h7v8h-7zM1187 972h8v8h-8zM1238 972h8v8h-8zM1290 972h7v8h-7zM1312 972h7v8h-7zM1326 972h7v8h-7zM998 980h58v7h-58zM1063 980h22v7h-22zM1151 980h7v7h-7zM1187 980h8v7h-8zM1282 980h15v7h-15zM1312 980h7v7h-7zM998 987h36v7h-36zM1041 987h8v7h-8zM1056 987h15v7h-15zM1085 987h7v7h-7zM1180 987h7v7h-7zM1319 987h7v7h-7zM1012 994h37v7h-37zM1063 994h8v7h-8zM1158 994h8v7h-8zM1217 994h14v7h-14zM1282 994h8v7h-8zM1005 1001h29v8h-29zM1041 1001h37v8h-37zM1282 1001h8v8h-8zM1020 1009h7v7h-7zM1034 1009h44v7h-44zM1268 1009h14v7h-14zM1319 1009h7v7h-7zM1012 1016h8v7h-8zM1027 1016h36v7h-36zM1071 1016h7v7h-7zM1268 1016h7v7h-7zM1282 1016h8v7h-8zM1326 1016h7v7h-7zM1275 1023h15v8h-15zM1297 1023h7v8h-7zM1275 1031h7v7h-7zM1290 1031h7v7h-7zM1326 1031h15v7h-15zM1282 1038h22v7h-22zM1319 1038h22v7h-22zM1268 1045h7v7h-7zM1290 1045h14v7h-14zM1326 1045h22v7h-22zM1268 1052h7v8h-7zM1290 1052h7v8h-7zM1304 1052h8v8h-8zM1333 1052h22v8h-22zM1260 1060h8v7h-8zM1275 1060h7v7h-7zM1290 1060h14v7h-14zM1312 1060h14v7h-14zM1333 1060h15v7h-15zM1355 1060h8v7h-8zM1275 1067h7v7h-7zM1304 1067h29v7h-29zM1348 1067h7v7h-7zM1268 1074h7v8h-7zM1282 1074h30v8h-30zM1326 1074h22v8h-22zM1260 1082h15v7h-15zM1282 1082h30v7h-30zM1319 1082h22v7h-22zM1268 1089h14v7h-14zM1290 1089h14v7h-14zM1312 1089h14v7h-14zM1260 1096h30v8h-30zM1304 1096h15v8h-15zM1326 1096h7v8h-7zM1268 1104h7v7h-7zM1290 1104h36v7h-36zM1202 1111h7v7h-7zM1217 1111h7v7h-7zM1231 1111h7v7h-7zM1268 1111h7v7h-7zM1282 1111h8v7h-8zM1297 1111h7v7h-7zM1217 1118h7v8h-7zM1238 1118h8v8h-8zM1253 1118h7v8h-7zM1297 1118h7v8h-7zM1209 1126h8v7h-8zM1246 1126h7v7h-7zM1260 1126h8v7h-8zM1275 1126h7v7h-7zM1195 1133h7v7h-7zM1231 1133h7v7h-7zM1253 1133h15v7h-15zM1224 1140h7v7h-7zM1238 1140h8v7h-8zM1253 1140h15v7h-15zM1202 1147h7v8h-7zM1238 1155h8v7h-8zM1202 1169h15v8h-15zM1224 1169h7v8h-7zM1195 1184h7v7h-7z"/>
<path fill="#FEBC68" d="M1275 848h7v7h-7zM1238 855h8v8h-8zM1290 855h7v8h-7zM1282 863h8v7h-8zM1246 870h7v7h-7zM1282 870h8v7h-8zM1231 885h7v7h-7zM1275 885h7v7h-7zM1297 892h7v7h-7zM1136 899h15v7h-15zM1180 899h15v7h-15zM1253 899h7v7h-7zM1144 906h22v8h-22zM1187 906h8v8h-8zM1260 906h15v8h-15zM1282 906h8v8h-8zM1114 914h8v7h-8zM1166 914h7v7h-7zM1173 921h7v7h-7zM1231 921h7v7h-7zM1129 928h7v8h-7zM1151 928h7v8h-7zM1187 928h8v8h-8zM990 936h8v7h-8zM1136 936h15v7h-15zM1224 936h14v7h-14zM1246 936h7v7h-7zM1275 936h7v7h-7zM1290 936h7v7h-7zM1122 943h7v7h-7zM1195 943h7v7h-7zM1231 943h7v7h-7zM1260 943h8v7h-8zM1187 950h8v8h-8zM1238 950h8v8h-8zM1092 958h8v7h-8zM1129 958h7v7h-7zM1151 958h7v7h-7zM1166 958h7v7h-7zM1195 958h7v7h-7zM1217 958h7v7h-7zM1275 958h7v7h-7zM1297 958h7v7h-7zM1092 965h8v7h-8zM1238 965h8v7h-8zM1136 972h8v8h-8zM1195 972h14v8h-14zM1224 972h7v8h-7zM1246 972h7v8h-7zM1268 972h7v8h-7zM1297 972h7v8h-7zM1173 980h14v7h-14zM1238 980h8v7h-8zM1253 980h7v7h-7zM1268 980h7v7h-7zM1297 987h7v7h-7zM1092 994h8v7h-8zM1209 994h8v7h-8zM1246 994h7v7h-7zM1304 994h8v7h-8zM1333 994h8v7h-8zM1085 1001h7v8h-7zM1136 1001h8v8h-8zM1166 1001h7v8h-7zM1268 1001h7v8h-7zM1312 1001h7v8h-7zM1114 1009h8v7h-8zM1173 1009h7v7h-7zM1297 1009h7v7h-7zM1312 1009h7v7h-7zM1114 1016h8v7h-8zM1173 1016h7v7h-7zM1217 1016h7v7h-7zM1290 1016h7v7h-7zM1304 1016h8v7h-8zM1100 1023h7v8h-7zM1136 1023h8v8h-8zM1158 1023h8v8h-8zM1326 1023h7v8h-7zM1107 1031h7v7h-7zM1224 1031h7v7h-7zM1260 1031h8v7h-8zM1173 1038h7v7h-7zM1187 1038h8v7h-8zM1217 1038h7v7h-7zM1238 1038h8v7h-8zM1151 1045h7v7h-7zM1202 1045h7v7h-7zM1231 1045h7v7h-7zM1246 1045h7v7h-7zM1078 1052h7v8h-7zM1158 1052h8v8h-8zM1173 1052h7v8h-7zM1217 1052h14v8h-14zM1144 1060h7v7h-7zM1246 1060h7v7h-7zM1151 1067h7v7h-7zM1173 1067h14v7h-14zM1217 1067h7v7h-7zM1238 1067h15v7h-15zM1260 1067h8v7h-8zM1224 1074h7v8h-7zM1151 1082h7v7h-7zM1173 1082h14v7h-14zM1231 1082h7v7h-7zM1238 1104h8v7h-8zM1260 1104h8v7h-8zM1195 1118h7v8h-7zM1195 1140h7v7h-7z"/>
<path fill="#FEDC80" d="M1217 855h7v8h-7zM1238 870h8v7h-8zM1260 870h8v7h-8zM1158 885h8v7h-8zM1253 892h7v7h-7zM1158 899h8v7h-8zM1180 906h7v8h-7zM1209 906h8v8h-8zM1231 906h7v8h-7zM1063 914h8v7h-8zM1136 914h8v7h-8zM1180 914h7v7h-7zM1260 914h8v7h-8zM1034 921h7v7h-7zM1151 921h7v7h-7zM1224 921h7v7h-7zM1202 928h7v8h-7zM1246 928h7v8h-7zM1092 936h8v7h-8zM1166 936h7v7h-7zM1312 936h7v7h-7zM1180 943h7v7h-7zM1253 943h7v7h-7zM1312 943h14v7h-14zM1122 950h7v8h-7zM1173 950h7v8h-7zM1275 950h7v8h-7zM1304 950h8v8h-8zM1319 950h7v8h-7zM1114 958h8v7h-8zM1282 958h8v7h-8zM1151 965h7v7h-7zM1312 965h7v7h-7zM1144 972h7v8h-7zM1224 980h14v7h-14zM1260 980h8v7h-8zM1100 987h7v7h-7zM1260 987h15v7h-15zM1114 994h8v7h-8zM1260 994h8v7h-8zM1319 994h7v7h-7zM1158 1001h8v8h-8zM1173 1001h7v8h-7zM1195 1001h7v8h-7zM1224 1001h22v8h-22zM1217 1009h7v7h-7zM1290 1009h7v7h-7zM1341 1009h7v7h-7zM1085 1016h7v7h-7zM1180 1016h7v7h-7zM1202 1016h7v7h-7zM1231 1016h15v7h-15zM1085 1023h7v8h-7zM1114 1023h8v8h-8zM1144 1023h7v8h-7zM1209 1023h8v8h-8zM1246 1023h7v8h-7zM1122 1031h7v7h-7zM1151 1031h7v7h-7zM1187 1031h8v7h-8zM1202 1031h7v7h-7zM1071 1038h7v7h-7zM1144 1038h7v7h-7zM1166 1038h7v7h-7zM1195 1038h7v7h-7zM1209 1045h8v7h-8zM1180 1052h7v8h-7zM1202 1052h7v8h-7zM1195 1060h7v7h-7zM1238 1060h8v7h-8zM1166 1067h7v7h-7zM1209 1067h8v7h-8zM1253 1067h7v7h-7zM1166 1074h7v8h-7zM1260 1074h8v8h-8zM1144 1082h7v7h-7zM1187 1082h8v7h-8zM1209 1082h15v7h-15zM1238 1082h8v7h-8zM1253 1082h7v7h-7zM1238 1089h8v7h-8zM1195 1096h7v8h-7zM1209 1096h8v8h-8zM1253 1096h7v8h-7zM1224 1104h14v7h-14zM1195 1111h7v7h-7z"/>
<path fill="#FEF0A0" d="M1253 877h7v8h-7zM1253 885h15v7h-15zM1151 892h7v7h-7zM1275 892h7v7h-7zM1122 899h7v7h-7zM1275 899h7v7h-7zM1238 906h8v8h-8zM1202 914h7v7h-7zM1180 921h15v7h-15zM1195 928h7v8h-7zM1187 936h8v7h-8zM1195 950h7v8h-7zM1180 958h15v7h-15zM1246 958h7v7h-7zM1136 965h15v7h-15zM1173 965h7v7h-7zM1195 965h7v7h-7zM1260 965h8v7h-8zM1166 987h7v7h-7zM1202 1001h7v8h-7zM1217 1001h7v8h-7zM1202 1009h7v7h-7zM1246 1009h7v7h-7zM1187 1016h15v7h-15zM1224 1016h7v7h-7zM1246 1016h7v7h-7zM1122 1023h7v8h-7zM1224 1023h7v8h-7zM1238 1023h8v8h-8zM1114 1031h8v7h-8zM1129 1031h15v7h-15zM1158 1031h8v7h-8zM1122 1038h7v7h-7zM1144 1045h7v7h-7zM1195 1052h7v8h-7zM1114 1060h8v7h-8zM1209 1060h8v7h-8zM1136 1067h8v7h-8zM1092 1074h8v8h-8zM1144 1074h7v8h-7zM1180 1074h15v8h-15zM1253 1074h7v8h-7zM1158 1082h8v7h-8zM1151 1089h36v7h-36zM1195 1089h7v7h-7zM1209 1089h15v7h-15zM1231 1089h7v7h-7zM1166 1096h7v8h-7zM1187 1096h8v8h-8zM1217 1096h29v8h-29zM1166 1104h7v7h-7zM1180 1104h7v7h-7zM1202 1104h15v7h-15zM1136 1111h8v7h-8zM1180 1111h15v7h-15zM1187 1118h8v8h-8zM1136 1126h8v7h-8zM1180 1126h7v7h-7zM1187 1133h8v7h-8zM1166 1140h7v7h-7zM1180 1140h7v7h-7zM1129 1155h7v7h-7zM1166 1162h7v7h-7zM1129 1169h7v8h-7zM1187 1169h8v8h-8zM1166 1184h7v7h-7zM1158 1198h8v8h-8zM1129 1206h7v7h-7zM1100 1220h7v8h-7z"/>
<path fill="#AEE49C" d="M1085 972h7v8h-7zM1100 980h14v7h-14zM1136 987h8v7h-8zM1151 987h7v7h-7zM1180 994h7v7h-7zM1202 994h7v7h-7zM1209 1001h8v8h-8zM1100 1045h7v7h-7zM1129 1060h7v7h-7zM1107 1067h7v7h-7zM1173 1096h14v8h-14zM1114 1104h8v7h-8zM1173 1104h7v7h-7zM1187 1104h8v7h-8zM1166 1111h7v7h-7zM1122 1126h7v7h-7zM1173 1140h7v7h-7zM1166 1147h7v8h-7zM1173 1155h7v7h-7zM1166 1169h7v8h-7zM1180 1169h7v8h-7zM1158 1184h8v7h-8z"/>
<path fill="#009BBC" d="M1100 972h7v8h-7zM1114 980h30v7h-30zM1107 1060h7v7h-7zM1107 1074h7v8h-7zM1114 1082h15v7h-15zM1144 1089h7v7h-7zM1158 1096h8v8h-8zM1151 1140h7v7h-7zM1144 1177h7v7h-7zM1173 1191h7v7h-7z"/>
<path fill="#00C2A8" d="M1195 994h7v7h-7zM1136 1060h8v7h-8zM1114 1074h8v8h-8zM1136 1074h8v8h-8zM1158 1104h8v7h-8zM1114 1111h8v7h-8zM1107 1126h7v7h-7zM1180 1155h15v7h-15zM1173 1162h14v7h-14zM1173 1169h7v8h-7z"/>
<path fill="#B80040" d="M1275 1016h7v7h-7zM1268 1023h7v8h-7zM1312 1045h14v7h-14zM1348 1045h7v7h-7zM1297 1052h7v8h-7zM1312 1052h21v8h-21zM1268 1060h7v7h-7zM1304 1060h8v7h-8z"/>
<path fill="#E0F290" d="M1173 1111h7v7h-7zM1173 1118h14v8h-14zM1173 1133h14v7h-14zM1173 1147h7v8h-7zM1166 1155h7v7h-7z"/>
<path fill="#0077BC" d="M1136 1155h8v7h-8zM1136 1162h8v7h-8z"/></g></g>
<g filter="url(#soft)"><g shape-rendering="crispEdges"><path fill="#00C2A8" d="M1684 855h15v8h-15zM1692 863h7v7h-7zM1706 863h8v7h-8zM1662 870h8v7h-8zM1699 877h7v8h-7zM1633 892h8v7h-8zM1677 892h7v7h-7zM1538 899h8v7h-8zM1626 906h7v8h-7zM1655 906h7v8h-7zM1495 914h7v7h-7zM1677 921h15v7h-15zM1611 928h8v8h-8zM1750 928h7v8h-7zM1597 943h7v7h-7zM1684 950h8v8h-8zM1736 950h7v8h-7zM1750 958h7v7h-7zM1495 965h7v7h-7zM1509 972h7v8h-7zM1560 980h15v7h-15zM1487 987h8v7h-8zM1590 994h7v7h-7zM1750 994h7v7h-7zM1765 994h14v7h-14zM1531 1001h7v8h-7zM1553 1001h7v8h-7zM1619 1001h7v8h-7zM1750 1001h7v8h-7zM1560 1009h8v7h-8zM1531 1016h7v7h-7zM1560 1016h8v7h-8zM1626 1016h7v7h-7zM1648 1016h7v7h-7zM1662 1016h8v7h-8zM1714 1016h7v7h-7zM1750 1016h7v7h-7zM1619 1023h7v8h-7zM1670 1023h7v8h-7zM1553 1031h7v7h-7zM1757 1031h8v7h-8zM1568 1045h7v7h-7zM1582 1067h8v7h-8zM1538 1074h15v8h-15zM1582 1074h8v8h-8zM1728 1074h8v8h-8zM1546 1082h7v7h-7zM1684 1104h15v7h-15zM1743 1104h7v7h-7zM1582 1118h8v8h-8zM1597 1126h14v7h-14zM1633 1126h8v7h-8zM1553 1133h7v7h-7zM1619 1133h14v7h-14zM1590 1140h7v7h-7z"/>
<path fill="#FEDC80" d="M1714 855h7v8h-7zM1728 870h8v7h-8zM1692 877h7v8h-7zM1641 885h7v7h-7zM1684 885h8v7h-8zM1684 906h8v8h-8zM1670 943h7v7h-7zM1604 1001h15v8h-15zM1604 1009h7v7h-7zM1604 1016h22v7h-22zM1633 1023h8v8h-8zM1611 1031h8v7h-8zM1626 1031h7v7h-7zM1582 1038h8v7h-8zM1538 1045h8v7h-8zM1619 1045h7v7h-7zM1575 1052h7v8h-7zM1611 1052h8v8h-8zM1633 1052h15v8h-15zM1648 1060h7v7h-7zM1611 1067h8v7h-8zM1633 1067h8v7h-8zM1553 1074h7v8h-7zM1619 1089h7v7h-7zM1611 1096h8v8h-8zM1626 1096h7v8h-7zM1560 1104h8v7h-8zM1568 1126h7v7h-7zM1590 1133h7v7h-7zM1582 1147h8v8h-8z"/>
<path fill="#009BBC" d="M1670 863h7v7h-7zM1684 863h8v7h-8zM1699 863h7v7h-7zM1648 870h7v7h-7zM1684 870h8v7h-8zM1706 877h8v8h-8zM1648 885h7v7h-7zM1677 899h7v7h-7zM1619 921h7v7h-7zM1619 928h7v8h-7zM1648 928h7v8h-7zM1619 936h7v7h-7zM1619 943h7v7h-7zM1641 943h7v7h-7zM1677 943h7v7h-7zM1590 950h7v8h-7zM1655 950h7v8h-7zM1670 950h14v8h-14zM1699 950h7v8h-7zM1575 958h7v7h-7zM1531 965h15v7h-15zM1538 987h8v7h-8zM1684 987h8v7h-8zM1538 994h8v7h-8zM1524 1001h7v8h-7zM1495 1009h7v7h-7zM1524 1009h14v7h-14zM1743 1009h7v7h-7zM1714 1023h7v8h-7zM1743 1023h7v8h-7zM1560 1031h8v7h-8zM1684 1031h8v7h-8zM1743 1031h7v7h-7zM1575 1038h7v7h-7zM1582 1045h8v7h-8zM1699 1052h7v8h-7zM1582 1060h8v7h-8zM1575 1067h7v7h-7zM1590 1067h7v7h-7zM1765 1074h7v8h-7zM1575 1082h7v7h-7zM1692 1089h7v7h-7zM1684 1096h8v8h-8zM1641 1126h7v7h-7zM1648 1155h7v7h-7zM1626 1184h7v7h-7zM1590 1206h7v7h-7z"/>
<path fill="#FE6C40" d="M1677 863h7v7h-7zM1692 870h7v7h-7zM1714 870h7v7h-7zM1684 877h8v8h-8zM1714 877h7v8h-7zM1662 885h8v7h-8zM1692 885h7v7h-7zM1721 892h15v7h-15zM1699 899h7v7h-7zM1721 899h7v7h-7zM1662 906h8v8h-8zM1706 906h8v8h-8zM1728 906h8v8h-8zM1655 914h7v7h-7zM1677 914h7v7h-7zM1721 921h7v7h-7zM1706 928h8v8h-8zM1721 928h7v8h-7zM1655 936h22v7h-22zM1706 936h8v7h-8zM1728 936h29v7h-29zM1662 943h8v7h-8zM1692 943h7v7h-7zM1721 943h7v7h-7zM1736 943h7v7h-7zM1692 950h7v8h-7zM1655 958h7v7h-7zM1714 958h7v7h-7zM1728 958h8v7h-8zM1757 958h8v7h-8zM1736 965h7v7h-7zM1648 972h22v8h-22zM1677 972h22v8h-22zM1721 972h7v8h-7zM1648 980h14v7h-14zM1677 980h7v7h-7zM1662 987h8v7h-8zM1677 987h7v7h-7zM1736 987h7v7h-7zM1750 987h7v7h-7zM1648 994h7v7h-7zM1677 994h7v7h-7zM1728 994h8v7h-8zM1633 1001h8v8h-8zM1677 1001h7v8h-7zM1736 1001h7v8h-7zM1772 1001h7v8h-7zM1662 1009h15v7h-15zM1684 1009h8v7h-8zM1728 1009h15v7h-15zM1765 1009h7v7h-7zM1641 1016h7v7h-7zM1765 1016h7v7h-7zM1604 1023h7v8h-7zM1655 1023h7v8h-7zM1728 1023h8v8h-8zM1779 1023h8v8h-8zM1648 1031h7v7h-7zM1692 1031h14v7h-14zM1714 1031h7v7h-7zM1750 1031h7v7h-7zM1779 1031h8v7h-8zM1604 1038h7v7h-7zM1626 1038h7v7h-7zM1699 1038h7v7h-7zM1721 1038h7v7h-7zM1670 1045h7v7h-7zM1692 1045h22v7h-22zM1772 1045h7v7h-7zM1604 1052h7v8h-7zM1619 1052h7v8h-7zM1677 1052h7v8h-7zM1706 1052h15v8h-15zM1736 1052h7v8h-7zM1604 1060h7v7h-7zM1626 1060h7v7h-7zM1641 1060h7v7h-7zM1714 1060h7v7h-7zM1736 1060h7v7h-7zM1750 1060h15v7h-15zM1619 1067h7v7h-7zM1648 1067h7v7h-7zM1699 1067h7v7h-7zM1728 1067h8v7h-8zM1750 1067h22v7h-22zM1633 1074h8v8h-8zM1670 1074h7v8h-7zM1736 1074h14v8h-14zM1757 1074h8v8h-8zM1779 1074h8v8h-8zM1633 1082h15v7h-15zM1765 1082h7v7h-7zM1611 1089h8v7h-8zM1728 1089h8v7h-8zM1743 1089h7v7h-7zM1757 1089h8v7h-8zM1648 1096h7v8h-7zM1692 1096h7v8h-7zM1721 1096h7v8h-7zM1677 1104h7v7h-7zM1714 1111h14v7h-14zM1670 1118h7v8h-7zM1684 1118h15v8h-15zM1721 1118h7v8h-7zM1655 1126h7v7h-7zM1670 1126h7v7h-7zM1684 1126h15v7h-15zM1655 1140h7v7h-7zM1662 1147h8v8h-8zM1692 1147h7v8h-7zM1655 1162h7v7h-7zM1670 1162h7v7h-7zM1662 1169h8v8h-8z"/>
<path fill="#0077BC" d="M1714 863h14v7h-14zM1641 870h7v7h-7zM1641 892h7v7h-7zM1662 928h8v8h-8zM1684 943h8v7h-8zM1641 950h7v8h-7zM1684 980h8v7h-8zM1692 1023h7v8h-7zM1670 1104h7v7h-7zM1546 1111h7v7h-7zM1604 1118h7v8h-7zM1641 1169h7v8h-7z"/>
<path fill="#AEE49C" d="M1728 863h8v7h-8zM1633 870h8v7h-8zM1670 870h7v7h-7zM1706 870h8v7h-8zM1721 870h7v7h-7zM1633 877h8v8h-8zM1655 877h15v8h-15zM1677 877h7v8h-7zM1568 892h7v7h-7zM1662 892h8v7h-8zM1633 899h8v7h-8zM1648 899h7v7h-7zM1662 899h8v7h-8zM1684 899h8v7h-8zM1553 906h7v8h-7zM1677 906h7v8h-7zM1611 914h8v7h-8zM1662 914h8v7h-8zM1684 914h8v7h-8zM1626 921h7v7h-7zM1655 921h7v7h-7zM1677 928h15v8h-15zM1648 936h7v7h-7zM1677 936h7v7h-7zM1487 943h8v7h-8zM1604 943h7v7h-7zM1648 943h14v7h-14zM1648 950h7v8h-7zM1721 950h7v8h-7zM1597 958h7v7h-7zM1487 965h8v7h-8zM1553 965h7v7h-7zM1648 965h7v7h-7zM1516 972h8v8h-8zM1560 972h8v8h-8zM1750 972h15v8h-15zM1765 980h7v7h-7zM1495 987h7v7h-7zM1531 987h7v7h-7zM1560 994h8v7h-8zM1692 994h7v7h-7zM1757 994h8v7h-8zM1575 1001h7v8h-7zM1684 1001h8v8h-8zM1757 1001h8v8h-8zM1641 1009h7v7h-7zM1692 1009h7v7h-7zM1714 1009h7v7h-7zM1757 1009h8v7h-8zM1677 1023h7v8h-7zM1531 1031h7v7h-7zM1582 1031h22v7h-22zM1619 1031h7v7h-7zM1531 1038h15v7h-15zM1575 1045h7v7h-7zM1590 1045h7v7h-7zM1633 1045h8v7h-8zM1684 1045h8v7h-8zM1568 1052h7v8h-7zM1582 1052h8v8h-8zM1670 1052h7v8h-7zM1597 1060h7v7h-7zM1538 1067h8v7h-8zM1568 1067h7v7h-7zM1772 1067h7v7h-7zM1590 1074h14v8h-14zM1648 1074h7v8h-7zM1706 1074h15v8h-15zM1568 1082h7v7h-7zM1619 1082h7v7h-7zM1684 1082h8v7h-8zM1728 1082h8v7h-8zM1619 1096h7v8h-7zM1546 1104h14v7h-14zM1568 1104h7v7h-7zM1619 1104h7v7h-7zM1553 1118h7v8h-7zM1568 1133h7v7h-7zM1575 1140h7v7h-7zM1590 1147h7v8h-7zM1575 1155h7v7h-7zM1611 1155h8v7h-8zM1575 1162h7v7h-7zM1597 1162h14v7h-14zM1597 1184h7v7h-7zM1604 1191h7v7h-7zM1619 1191h7v7h-7zM1611 1198h8v8h-8z"/>
<path fill="#FEBC68" d="M1626 870h7v7h-7zM1677 870h7v7h-7zM1699 870h7v7h-7zM1736 877h7v8h-7zM1670 885h7v7h-7zM1648 892h14v7h-14zM1670 892h7v7h-7zM1641 899h7v7h-7zM1648 906h7v8h-7zM1648 914h7v7h-7zM1670 928h7v8h-7zM1662 950h8v8h-8zM1714 950h7v8h-7zM1670 958h7v7h-7zM1714 965h7v7h-7zM1736 972h7v8h-7zM1721 980h7v7h-7zM1692 987h14v7h-14zM1655 1001h7v8h-7zM1721 1001h7v8h-7zM1633 1009h8v7h-8zM1611 1023h8v8h-8zM1626 1023h7v8h-7zM1684 1023h8v8h-8zM1575 1031h7v7h-7zM1706 1031h8v7h-8zM1590 1038h7v7h-7zM1633 1038h15v7h-15zM1670 1038h7v7h-7zM1714 1038h7v7h-7zM1757 1038h8v7h-8zM1553 1045h15v7h-15zM1604 1045h7v7h-7zM1641 1045h7v7h-7zM1765 1045h7v7h-7zM1787 1052h7v8h-7zM1611 1060h8v7h-8zM1699 1060h7v7h-7zM1560 1067h8v7h-8zM1597 1067h7v7h-7zM1626 1067h7v7h-7zM1568 1074h7v8h-7zM1619 1074h14v8h-14zM1714 1082h7v7h-7zM1772 1082h7v7h-7zM1633 1089h15v7h-15zM1684 1089h8v7h-8zM1721 1089h7v7h-7zM1633 1096h15v8h-15zM1677 1118h7v8h-7zM1706 1118h8v8h-8zM1677 1126h7v7h-7zM1597 1133h7v7h-7zM1655 1133h7v7h-7zM1692 1140h7v7h-7zM1590 1155h7v7h-7zM1677 1155h7v7h-7z"/>
<path fill="#FEF0A0" d="M1655 870h7v7h-7zM1633 885h8v7h-8zM1677 885h7v7h-7zM1655 899h7v7h-7zM1670 899h7v7h-7zM1538 914h8v7h-8zM1538 921h8v7h-8zM1633 921h15v7h-15zM1662 921h8v7h-8zM1604 936h15v7h-15zM1626 936h7v7h-7zM1684 936h8v7h-8zM1706 950h8v8h-8zM1728 950h8v8h-8zM1743 950h7v8h-7zM1480 958h7v7h-7zM1692 958h7v7h-7zM1655 965h7v7h-7zM1699 965h7v7h-7zM1699 972h7v8h-7zM1728 980h8v7h-8zM1524 987h7v7h-7zM1553 987h7v7h-7zM1765 987h7v7h-7zM1684 994h8v7h-8zM1743 1001h7v8h-7zM1516 1009h8v7h-8zM1546 1009h14v7h-14zM1568 1009h7v7h-7zM1611 1009h8v7h-8zM1706 1009h8v7h-8zM1633 1016h8v7h-8zM1706 1023h8v8h-8zM1538 1031h8v7h-8zM1662 1031h8v7h-8zM1546 1038h7v7h-7zM1619 1038h7v7h-7zM1728 1038h8v7h-8zM1743 1038h7v7h-7zM1611 1045h8v7h-8zM1648 1045h7v7h-7zM1714 1045h7v7h-7zM1553 1052h15v8h-15zM1597 1052h7v8h-7zM1538 1060h8v7h-8zM1553 1060h22v7h-22zM1641 1074h7v8h-7zM1677 1074h15v8h-15zM1772 1074h7v8h-7zM1721 1082h7v7h-7zM1779 1082h8v7h-8zM1553 1089h7v7h-7zM1604 1089h7v7h-7zM1699 1089h7v7h-7zM1546 1096h7v8h-7zM1604 1096h7v8h-7zM1641 1104h7v7h-7zM1662 1104h8v7h-8zM1699 1104h15v7h-15zM1655 1111h7v7h-7zM1677 1111h7v7h-7zM1575 1118h7v8h-7zM1590 1118h7v8h-7zM1611 1118h8v8h-8zM1560 1126h8v7h-8zM1560 1133h8v7h-8zM1575 1133h15v7h-15zM1597 1147h7v8h-7zM1655 1147h7v8h-7zM1597 1155h7v7h-7zM1626 1155h7v7h-7zM1590 1162h7v7h-7zM1626 1162h7v7h-7zM1655 1177h7v7h-7z"/>
<path fill="#FE9650" d="M1641 877h14v8h-14zM1684 892h8v7h-8zM1706 892h8v7h-8zM1633 906h15v8h-15zM1633 914h8v7h-8zM1670 914h7v7h-7zM1692 921h7v7h-7zM1633 928h8v8h-8zM1655 928h7v8h-7zM1692 928h7v8h-7zM1714 928h7v8h-7zM1692 936h7v7h-7zM1699 943h7v7h-7zM1757 950h8v8h-8zM1706 958h8v7h-8zM1743 958h7v7h-7zM1721 965h7v7h-7zM1743 965h7v7h-7zM1714 972h7v8h-7zM1553 980h7v7h-7zM1743 980h7v7h-7zM1662 994h8v7h-8zM1699 994h7v7h-7zM1560 1001h8v8h-8zM1626 1001h7v8h-7zM1641 1001h14v8h-14zM1619 1009h14v7h-14zM1648 1009h7v7h-7zM1677 1009h7v7h-7zM1721 1009h7v7h-7zM1655 1016h7v7h-7zM1670 1016h7v7h-7zM1692 1016h7v7h-7zM1728 1016h8v7h-8zM1641 1023h7v8h-7zM1757 1023h22v8h-22zM1604 1031h7v7h-7zM1633 1031h8v7h-8zM1677 1031h7v7h-7zM1611 1038h8v7h-8zM1736 1038h7v7h-7zM1779 1038h8v7h-8zM1662 1045h8v7h-8zM1728 1045h15v7h-15zM1757 1045h8v7h-8zM1779 1045h8v7h-8zM1648 1052h7v8h-7zM1772 1052h7v8h-7zM1619 1060h7v7h-7zM1662 1060h15v7h-15zM1706 1060h8v7h-8zM1743 1060h7v7h-7zM1604 1067h7v7h-7zM1641 1067h7v7h-7zM1662 1067h8v7h-8zM1677 1067h7v7h-7zM1706 1067h8v7h-8zM1721 1067h7v7h-7zM1736 1067h7v7h-7zM1779 1067h8v7h-8zM1604 1074h15v8h-15zM1692 1074h7v8h-7zM1604 1082h15v7h-15zM1626 1082h7v7h-7zM1648 1082h7v7h-7zM1662 1082h22v7h-22zM1692 1082h7v7h-7zM1706 1082h8v7h-8zM1546 1089h7v7h-7zM1626 1089h7v7h-7zM1648 1089h7v7h-7zM1714 1089h7v7h-7zM1765 1089h7v7h-7zM1553 1096h7v8h-7zM1743 1096h7v8h-7zM1662 1111h15v7h-15zM1736 1111h7v7h-7zM1662 1118h8v8h-8zM1714 1118h7v8h-7zM1670 1133h22v7h-22zM1670 1147h7v8h-7zM1662 1155h8v7h-8zM1684 1155h8v7h-8z"/>
<path fill="#FE4A48" d="M1670 877h7v8h-7zM1721 877h15v8h-15zM1706 885h15v7h-15zM1714 892h7v7h-7zM1736 892h7v7h-7zM1692 899h7v7h-7zM1706 899h15v7h-15zM1736 899h7v7h-7zM1699 914h15v7h-15zM1721 914h7v7h-7zM1736 914h14v7h-14zM1648 921h7v7h-7zM1670 921h7v7h-7zM1699 921h7v7h-7zM1714 921h7v7h-7zM1736 921h7v7h-7zM1750 921h7v7h-7zM1699 928h7v8h-7zM1633 936h15v7h-15zM1699 936h7v7h-7zM1721 936h7v7h-7zM1706 943h15v7h-15zM1750 943h7v7h-7zM1648 958h7v7h-7zM1662 958h8v7h-8zM1684 958h8v7h-8zM1721 958h7v7h-7zM1662 965h22v7h-22zM1706 965h8v7h-8zM1757 965h8v7h-8zM1670 972h7v8h-7zM1706 972h8v8h-8zM1728 972h8v8h-8zM1692 980h22v7h-22zM1736 980h7v7h-7zM1648 987h7v7h-7zM1670 987h7v7h-7zM1714 987h14v7h-14zM1743 987h7v7h-7zM1714 994h7v7h-7zM1743 994h7v7h-7zM1662 1001h15v8h-15zM1699 1001h7v8h-7zM1765 1001h7v8h-7zM1750 1009h7v7h-7zM1779 1009h8v7h-8zM1684 1016h8v7h-8zM1721 1016h7v7h-7zM1772 1016h7v7h-7zM1721 1023h7v8h-7zM1655 1031h7v7h-7zM1728 1031h8v7h-8zM1765 1031h14v7h-14zM1662 1038h8v7h-8zM1677 1038h22v7h-22zM1765 1038h14v7h-14zM1655 1045h7v7h-7zM1677 1045h7v7h-7zM1662 1052h8v8h-8zM1721 1052h15v8h-15zM1743 1052h7v8h-7zM1757 1052h15v8h-15zM1779 1052h8v8h-8zM1772 1060h15v7h-15zM1655 1067h7v7h-7zM1670 1067h7v7h-7zM1692 1067h7v7h-7zM1714 1067h7v7h-7zM1787 1067h7v7h-7zM1662 1074h8v8h-8zM1699 1074h7v8h-7zM1721 1074h7v8h-7zM1750 1074h7v8h-7zM1670 1089h7v7h-7zM1706 1089h8v7h-8zM1772 1089h7v7h-7zM1677 1096h7v8h-7zM1750 1096h22v8h-22zM1736 1104h7v7h-7zM1750 1104h7v7h-7zM1684 1111h15v7h-15zM1706 1111h8v7h-8zM1662 1126h8v7h-8zM1684 1140h8v7h-8zM1677 1147h15v8h-15zM1655 1155h7v7h-7z"/>
<path fill="#E4264A" d="M1699 885h7v7h-7zM1721 885h22v7h-22zM1692 892h14v7h-14zM1728 899h8v7h-8zM1743 899h7v7h-7zM1692 906h14v8h-14zM1714 906h14v8h-14zM1743 906h7v8h-7zM1692 914h7v7h-7zM1728 914h8v7h-8zM1706 921h8v7h-8zM1728 921h8v7h-8zM1743 921h7v7h-7zM1728 928h22v8h-22zM1714 936h7v7h-7zM1728 943h8v7h-8zM1743 943h7v7h-7zM1677 958h7v7h-7zM1699 958h7v7h-7zM1736 958h7v7h-7zM1684 965h15v7h-15zM1728 965h8v7h-8zM1743 972h7v8h-7zM1662 980h15v7h-15zM1714 980h7v7h-7zM1706 987h8v7h-8zM1728 987h8v7h-8zM1670 994h7v7h-7zM1706 994h8v7h-8zM1721 994h7v7h-7zM1736 994h7v7h-7zM1692 1001h7v8h-7zM1706 1001h15v8h-15zM1728 1001h8v8h-8zM1655 1009h7v7h-7zM1699 1009h7v7h-7zM1677 1016h7v7h-7zM1699 1016h15v7h-15zM1757 1016h8v7h-8zM1779 1016h8v7h-8zM1662 1023h8v8h-8zM1699 1023h7v8h-7zM1670 1031h7v7h-7zM1721 1031h7v7h-7zM1736 1031h7v7h-7zM1787 1031h7v7h-7zM1706 1038h8v7h-8zM1750 1038h7v7h-7zM1787 1038h7v7h-7zM1721 1045h7v7h-7zM1743 1045h14v7h-14zM1787 1045h7v7h-7zM1655 1052h7v8h-7zM1684 1052h15v8h-15zM1750 1052h7v8h-7zM1655 1060h7v7h-7zM1677 1060h22v7h-22zM1721 1060h15v7h-15zM1765 1060h7v7h-7zM1787 1060h7v7h-7zM1684 1067h8v7h-8zM1743 1067h7v7h-7zM1655 1074h7v8h-7zM1655 1082h7v7h-7zM1736 1082h29v7h-29zM1655 1089h15v7h-15zM1677 1089h7v7h-7zM1736 1089h7v7h-7zM1655 1096h22v8h-22zM1706 1096h15v8h-15zM1728 1096h15v8h-15zM1655 1104h7v7h-7zM1714 1104h22v7h-22zM1699 1111h7v7h-7zM1728 1111h8v7h-8zM1655 1118h7v8h-7zM1699 1118h7v8h-7zM1699 1126h22v7h-22zM1662 1133h8v7h-8zM1692 1133h22v7h-22zM1662 1140h22v7h-22zM1699 1140h7v7h-7zM1670 1155h7v7h-7zM1662 1162h8v7h-8zM1560 1213h8v7h-8z"/>
<path fill="#6CD4A0" d="M1626 899h7v7h-7zM1597 906h7v8h-7zM1619 914h7v7h-7zM1590 921h7v7h-7zM1611 943h8v7h-8zM1575 1060h7v7h-7zM1553 1067h7v7h-7zM1560 1089h15v7h-15zM1568 1096h7v8h-7zM1560 1118h8v8h-8zM1560 1147h8v8h-8z"/>
<path fill="#E0F290" d="M1568 1031h7v7h-7zM1553 1038h22v7h-22zM1546 1052h7v8h-7zM1575 1074h7v8h-7zM1538 1082h8v7h-8zM1568 1111h7v7h-7zM1546 1126h14v7h-14zM1575 1147h7v8h-7z"/></g></g>
<g filter="url(#soft)"><g shape-rendering="crispEdges"><path fill="#FEF0A0" d="M400 1555h7v7h-7zM421 1562h8v7h-8zM370 1569h30v8h-30zM348 1577h22v7h-22zM378 1577h14v7h-14zM400 1577h7v7h-7zM421 1577h8v7h-8zM326 1584h8v7h-8zM341 1584h7v7h-7zM370 1584h8v7h-8zM429 1584h7v7h-7zM319 1591h7v8h-7zM348 1591h15v8h-15zM378 1591h7v8h-7zM421 1591h22v8h-22zM283 1599h7v7h-7zM305 1599h7v7h-7zM334 1599h7v7h-7zM407 1599h7v7h-7zM421 1599h8v7h-8zM275 1606h8v7h-8zM312 1606h14v7h-14zM363 1606h7v7h-7zM305 1613h14v7h-14zM326 1613h22v7h-22zM378 1613h7v7h-7zM400 1613h14v7h-14zM429 1613h7v7h-7zM283 1620h29v8h-29zM334 1620h7v8h-7zM370 1620h8v8h-8zM414 1620h7v8h-7zM429 1620h7v8h-7zM275 1628h15v7h-15zM305 1628h7v7h-7zM370 1628h8v7h-8zM407 1628h7v7h-7zM436 1628h15v7h-15zM283 1635h14v7h-14zM312 1635h7v7h-7zM326 1635h8v7h-8zM356 1635h7v7h-7zM392 1635h8v7h-8zM407 1635h22v7h-22zM151 1642h8v8h-8zM290 1642h7v8h-7zM305 1642h14v8h-14zM341 1642h15v8h-15zM363 1642h7v8h-7zM385 1642h7v8h-7zM407 1642h7v8h-7zM429 1642h7v8h-7zM443 1642h8v8h-8zM319 1650h7v7h-7zM370 1650h8v7h-8zM400 1650h7v7h-7zM414 1650h7v7h-7zM254 1657h7v7h-7zM275 1657h8v7h-8zM290 1657h7v7h-7zM334 1657h7v7h-7zM429 1657h7v7h-7zM443 1657h8v7h-8zM283 1664h7v8h-7zM305 1664h14v8h-14zM341 1664h7v8h-7zM356 1664h7v8h-7zM378 1664h7v8h-7zM400 1664h7v8h-7zM429 1664h14v8h-14zM451 1664h7v8h-7zM224 1672h15v7h-15zM326 1672h8v7h-8zM356 1672h7v7h-7zM414 1672h7v7h-7zM436 1672h7v7h-7zM275 1679h8v7h-8zM290 1679h15v7h-15zM312 1679h7v7h-7zM348 1679h8v7h-8zM421 1679h8v7h-8zM436 1679h15v7h-15zM232 1686h7v8h-7zM254 1686h14v8h-14zM283 1686h22v8h-22zM312 1686h14v8h-14zM348 1686h15v8h-15zM400 1686h7v8h-7zM443 1686h8v8h-8zM458 1686h7v8h-7zM246 1694h8v7h-8zM312 1694h36v7h-36zM407 1694h7v7h-7zM436 1694h15v7h-15zM217 1701h7v7h-7zM254 1701h7v7h-7zM275 1701h8v7h-8zM348 1701h8v7h-8zM370 1701h8v7h-8zM392 1701h8v7h-8zM443 1701h8v7h-8zM465 1701h7v7h-7zM217 1708h15v7h-15zM275 1708h8v7h-8zM290 1708h7v7h-7zM319 1708h7v7h-7zM334 1708h7v7h-7zM348 1708h8v7h-8zM232 1715h14v8h-14zM254 1715h7v8h-7zM290 1715h7v8h-7zM363 1715h7v8h-7zM385 1715h7v8h-7zM400 1715h14v8h-14zM472 1715h8v8h-8zM254 1723h14v7h-14zM275 1723h8v7h-8zM297 1723h8v7h-8zM356 1723h7v7h-7zM370 1723h8v7h-8zM385 1723h7v7h-7zM400 1723h21v7h-21zM451 1723h7v7h-7zM232 1730h7v7h-7zM275 1730h8v7h-8zM326 1730h8v7h-8zM385 1730h15v7h-15zM458 1730h7v7h-7zM472 1730h8v7h-8zM217 1737h15v8h-15zM254 1737h7v8h-7zM297 1737h8v8h-8zM334 1737h7v8h-7zM400 1737h7v8h-7zM414 1737h15v8h-15zM224 1745h8v7h-8zM261 1745h7v7h-7zM290 1745h7v7h-7zM326 1745h8v7h-8zM363 1745h7v7h-7zM400 1745h7v7h-7zM414 1745h7v7h-7zM429 1745h7v7h-7zM246 1752h8v7h-8zM261 1752h7v7h-7zM283 1752h14v7h-14zM341 1752h7v7h-7zM480 1752h7v7h-7zM246 1759h8v7h-8zM290 1759h7v7h-7zM414 1759h22v7h-22zM261 1766h7v8h-7zM275 1766h15v8h-15zM341 1766h15v8h-15zM385 1766h7v8h-7zM421 1766h15v8h-15zM297 1774h8v7h-8zM312 1774h7v7h-7zM326 1774h8v7h-8zM348 1774h22v7h-22zM385 1774h7v7h-7zM414 1774h29v7h-29zM261 1781h7v7h-7zM275 1781h8v7h-8zM305 1781h7v7h-7zM348 1781h8v7h-8zM378 1781h7v7h-7zM421 1781h8v7h-8zM443 1781h8v7h-8zM246 1788h15v8h-15zM334 1788h7v8h-7zM356 1788h7v8h-7zM385 1788h7v8h-7zM429 1788h7v8h-7zM451 1788h14v8h-14zM232 1796h14v7h-14zM275 1796h8v7h-8zM297 1796h8v7h-8zM326 1796h8v7h-8zM356 1796h7v7h-7zM370 1796h8v7h-8zM392 1796h15v7h-15zM429 1796h14v7h-14zM465 1796h7v7h-7zM232 1803h7v7h-7zM246 1803h15v7h-15zM268 1803h15v7h-15zM312 1803h7v7h-7zM363 1803h7v7h-7zM429 1803h7v7h-7zM246 1810h8v8h-8zM268 1810h15v8h-15zM326 1810h8v8h-8zM356 1810h7v8h-7zM370 1810h15v8h-15zM465 1810h15v8h-15zM254 1818h7v7h-7zM275 1818h8v7h-8zM290 1818h7v7h-7zM290 1825h7v7h-7zM348 1825h8v7h-8zM363 1825h7v7h-7zM385 1825h7v7h-7zM436 1825h7v7h-7zM305 1832h7v8h-7zM341 1832h7v8h-7zM356 1832h14v8h-14zM407 1832h7v8h-7zM254 1840h14v7h-14zM275 1840h8v7h-8zM312 1840h7v7h-7zM334 1840h14v7h-14zM356 1840h7v7h-7zM378 1840h14v7h-14zM407 1840h7v7h-7zM421 1840h8v7h-8zM283 1847h14v7h-14zM283 1854h7v7h-7zM326 1854h22v7h-22zM356 1854h7v7h-7zM370 1854h22v7h-22zM326 1861h15v8h-15zM363 1861h7v8h-7zM392 1861h8v8h-8zM290 1869h15v7h-15zM326 1869h8v7h-8zM356 1869h29v7h-29zM312 1876h7v7h-7zM326 1876h15v7h-15zM283 1883h7v8h-7zM297 1883h8v8h-8zM283 1891h7v7h-7zM297 1891h8v7h-8zM326 1891h8v7h-8zM348 1891h8v7h-8zM275 1898h15v7h-15zM334 1898h14v7h-14zM275 1905h8v7h-8zM305 1905h7v7h-7zM326 1905h8v7h-8zM297 1912h22v8h-22zM254 1920h7v7h-7zM268 1920h7v7h-7zM290 1920h7v7h-7zM246 1927h8v7h-8zM268 1927h7v7h-7z"/>
<path fill="#F4F8A8" d="M407 1555h7v7h-7zM385 1562h15v7h-15zM400 1569h7v8h-7zM429 1577h7v7h-7zM348 1584h8v7h-8zM400 1584h7v7h-7zM297 1591h8v8h-8zM312 1591h7v8h-7zM363 1591h15v8h-15zM319 1599h15v7h-15zM370 1599h8v7h-8zM400 1599h7v7h-7zM429 1599h7v7h-7zM283 1606h7v7h-7zM326 1606h15v7h-15zM378 1606h22v7h-22zM414 1606h7v7h-7zM275 1613h8v7h-8zM370 1613h8v7h-8zM392 1613h8v7h-8zM443 1613h8v7h-8zM326 1620h8v8h-8zM341 1620h7v8h-7zM421 1620h8v8h-8zM443 1620h8v8h-8zM297 1628h8v7h-8zM334 1628h7v7h-7zM348 1628h15v7h-15zM378 1628h29v7h-29zM414 1628h7v7h-7zM429 1628h7v7h-7zM268 1635h7v7h-7zM297 1635h8v7h-8zM370 1635h8v7h-8zM385 1635h7v7h-7zM400 1635h7v7h-7zM443 1635h8v7h-8zM326 1642h8v8h-8zM356 1642h7v8h-7zM414 1642h7v8h-7zM129 1650h8v7h-8zM268 1650h15v7h-15zM290 1650h7v7h-7zM421 1650h8v7h-8zM246 1657h8v7h-8zM268 1657h7v7h-7zM305 1657h14v7h-14zM392 1657h15v7h-15zM458 1657h7v7h-7zM363 1664h7v8h-7zM385 1664h7v8h-7zM407 1664h14v8h-14zM458 1664h7v8h-7zM268 1672h7v7h-7zM283 1672h22v7h-22zM312 1672h14v7h-14zM363 1672h15v7h-15zM400 1672h14v7h-14zM232 1679h22v7h-22zM268 1679h7v7h-7zM326 1679h8v7h-8zM385 1679h22v7h-22zM217 1686h15v8h-15zM246 1686h8v8h-8zM275 1686h8v8h-8zM363 1686h7v8h-7zM385 1686h7v8h-7zM407 1686h7v8h-7zM429 1686h14v8h-14zM275 1694h8v7h-8zM305 1694h7v7h-7zM363 1694h7v7h-7zM385 1694h22v7h-22zM458 1694h7v7h-7zM210 1701h7v7h-7zM261 1701h14v7h-14zM297 1701h8v7h-8zM326 1701h22v7h-22zM421 1701h8v7h-8zM458 1701h7v7h-7zM246 1708h29v7h-29zM283 1708h7v7h-7zM297 1708h8v7h-8zM363 1708h22v7h-22zM400 1708h36v7h-36zM341 1715h7v8h-7zM392 1715h8v8h-8zM414 1715h7v8h-7zM210 1723h7v7h-7zM239 1723h7v7h-7zM458 1723h7v7h-7zM472 1723h8v7h-8zM239 1730h36v7h-36zM363 1730h7v7h-7zM407 1730h14v7h-14zM465 1730h7v7h-7zM239 1737h15v8h-15zM261 1737h14v8h-14zM326 1737h8v8h-8zM363 1737h7v8h-7zM210 1745h14v7h-14zM232 1745h14v7h-14zM297 1745h8v7h-8zM370 1745h8v7h-8zM421 1745h8v7h-8zM480 1745h7v7h-7zM232 1752h7v7h-7zM319 1752h7v7h-7zM334 1752h7v7h-7zM385 1752h7v7h-7zM407 1752h7v7h-7zM421 1752h8v7h-8zM487 1752h7v7h-7zM217 1759h7v7h-7zM283 1759h7v7h-7zM334 1759h14v7h-14zM385 1759h7v7h-7zM407 1759h7v7h-7zM217 1766h7v8h-7zM232 1766h7v8h-7zM246 1766h15v8h-15zM268 1766h7v8h-7zM319 1766h7v8h-7zM392 1766h8v8h-8zM414 1766h7v8h-7zM436 1766h7v8h-7zM239 1774h7v7h-7zM254 1774h14v7h-14zM275 1774h8v7h-8zM290 1774h7v7h-7zM319 1774h7v7h-7zM341 1774h7v7h-7zM400 1774h7v7h-7zM443 1774h8v7h-8zM239 1781h7v7h-7zM268 1781h7v7h-7zM283 1781h14v7h-14zM312 1781h14v7h-14zM370 1781h8v7h-8zM385 1781h22v7h-22zM451 1781h14v7h-14zM472 1781h8v7h-8zM275 1788h8v8h-8zM297 1788h8v8h-8zM319 1788h7v8h-7zM378 1788h7v8h-7zM392 1788h8v8h-8zM414 1788h7v8h-7zM436 1788h15v8h-15zM465 1788h7v8h-7zM283 1796h14v7h-14zM305 1796h14v7h-14zM341 1796h7v7h-7zM407 1796h7v7h-7zM472 1796h8v7h-8zM283 1803h7v7h-7zM297 1803h8v7h-8zM326 1803h15v7h-15zM348 1803h8v7h-8zM407 1803h7v7h-7zM436 1803h7v7h-7zM239 1810h7v8h-7zM297 1810h8v8h-8zM312 1810h7v8h-7zM334 1810h22v8h-22zM385 1810h15v8h-15zM458 1810h7v8h-7zM261 1818h7v7h-7zM283 1818h7v7h-7zM305 1818h7v7h-7zM341 1818h7v7h-7zM363 1818h7v7h-7zM443 1818h8v7h-8zM458 1818h7v7h-7zM268 1825h7v7h-7zM305 1825h7v7h-7zM326 1825h8v7h-8zM254 1832h7v8h-7zM334 1832h7v8h-7zM348 1832h8v8h-8zM370 1832h8v8h-8zM421 1832h15v8h-15zM246 1840h8v7h-8zM283 1840h7v7h-7zM305 1840h7v7h-7zM348 1840h8v7h-8zM363 1840h7v7h-7zM392 1840h8v7h-8zM429 1840h7v7h-7zM268 1847h15v7h-15zM297 1847h15v7h-15zM334 1847h7v7h-7zM392 1847h15v7h-15zM275 1854h8v7h-8zM297 1854h8v7h-8zM312 1854h7v7h-7zM363 1854h7v7h-7zM400 1854h7v7h-7zM297 1861h8v8h-8zM356 1861h7v8h-7zM370 1861h8v8h-8zM283 1869h7v7h-7zM305 1869h7v7h-7zM319 1869h7v7h-7zM268 1876h7v7h-7zM297 1876h8v7h-8zM319 1876h7v7h-7zM348 1876h8v7h-8zM363 1876h15v7h-15zM275 1883h8v8h-8zM305 1883h7v8h-7zM275 1891h8v7h-8zM305 1891h7v7h-7zM319 1891h7v7h-7zM356 1891h7v7h-7zM305 1898h7v7h-7zM261 1920h7v7h-7zM239 1934h7v8h-7z"/>
<path fill="#FE6C40" d="M414 1555h7v7h-7zM414 1562h7v7h-7zM414 1569h7v8h-7zM407 1577h14v7h-14zM407 1584h7v7h-7zM414 1591h7v8h-7zM261 1606h7v7h-7zM224 1620h8v8h-8zM246 1620h8v8h-8zM195 1628h7v7h-7zM254 1628h14v7h-14zM254 1635h14v7h-14zM166 1642h7v8h-7zM254 1642h14v8h-14zM144 1650h15v7h-15zM166 1650h7v7h-7zM195 1650h15v7h-15zM246 1650h8v7h-8zM137 1657h7v7h-7zM151 1657h8v7h-8zM166 1657h7v7h-7zM195 1657h15v7h-15zM217 1657h7v7h-7zM239 1657h7v7h-7zM122 1664h15v8h-15zM151 1664h8v8h-8zM173 1664h15v8h-15zM195 1664h7v8h-7zM129 1672h8v7h-8zM144 1672h15v7h-15zM166 1672h7v7h-7zM180 1672h8v7h-8zM137 1679h14v7h-14zM159 1679h7v7h-7zM173 1679h15v7h-15zM370 1679h8v7h-8zM144 1686h22v8h-22zM173 1686h7v8h-7zM188 1686h22v8h-22zM151 1694h8v7h-8zM166 1694h22v7h-22zM195 1694h7v7h-7zM210 1694h7v7h-7zM370 1694h8v7h-8zM137 1701h7v7h-7zM159 1701h7v7h-7zM195 1701h15v7h-15zM137 1708h14v7h-14zM166 1708h22v7h-22zM144 1715h7v8h-7zM188 1715h22v8h-22zM173 1723h7v7h-7zM195 1723h7v7h-7zM421 1723h15v7h-15zM443 1723h8v7h-8zM173 1730h7v7h-7zM188 1730h7v7h-7zM202 1730h8v7h-8zM159 1737h7v8h-7zM173 1737h15v8h-15zM436 1737h7v8h-7zM436 1745h7v7h-7zM458 1745h7v7h-7zM451 1752h7v7h-7zM472 1759h8v7h-8zM472 1766h30v8h-30zM465 1774h7v7h-7zM487 1774h7v7h-7zM487 1781h7v7h-7zM414 1803h7v7h-7zM400 1810h7v8h-7zM414 1810h7v8h-7zM400 1818h7v7h-7zM429 1818h7v7h-7zM414 1825h7v7h-7z"/>
<path fill="#FEDC80" d="M421 1555h8v7h-8zM378 1562h7v7h-7zM363 1569h7v8h-7zM341 1577h7v7h-7zM356 1584h7v7h-7zM392 1584h8v7h-8zM421 1584h8v7h-8zM305 1591h7v8h-7zM326 1591h22v8h-22zM392 1591h8v8h-8zM407 1591h7v8h-7zM312 1599h7v7h-7zM341 1599h7v7h-7zM356 1599h7v7h-7zM378 1599h22v7h-22zM436 1599h7v7h-7zM268 1606h7v7h-7zM290 1606h7v7h-7zM305 1606h7v7h-7zM370 1606h8v7h-8zM407 1606h7v7h-7zM421 1606h8v7h-8zM436 1606h7v7h-7zM268 1613h7v7h-7zM283 1613h7v7h-7zM297 1613h8v7h-8zM319 1613h7v7h-7zM356 1613h14v7h-14zM421 1613h8v7h-8zM436 1613h7v7h-7zM239 1620h7v8h-7zM312 1620h14v8h-14zM348 1620h22v8h-22zM407 1620h7v8h-7zM436 1620h7v8h-7zM224 1628h8v7h-8zM239 1628h7v7h-7zM268 1628h7v7h-7zM312 1628h22v7h-22zM341 1628h7v7h-7zM363 1628h7v7h-7zM210 1635h14v7h-14zM232 1635h7v7h-7zM334 1635h7v7h-7zM363 1635h7v7h-7zM378 1635h7v7h-7zM429 1635h14v7h-14zM159 1642h7v8h-7zM173 1642h22v8h-22zM217 1642h15v8h-15zM239 1642h7v8h-7zM275 1642h8v8h-8zM297 1642h8v8h-8zM319 1642h7v8h-7zM334 1642h7v8h-7zM370 1642h8v8h-8zM421 1642h8v8h-8zM436 1642h7v8h-7zM261 1650h7v7h-7zM305 1650h14v7h-14zM348 1650h8v7h-8zM378 1650h7v7h-7zM407 1650h7v7h-7zM429 1650h22v7h-22zM261 1657h7v7h-7zM283 1657h7v7h-7zM297 1657h8v7h-8zM326 1657h8v7h-8zM363 1657h29v7h-29zM407 1657h7v7h-7zM421 1657h8v7h-8zM436 1657h7v7h-7zM232 1664h22v8h-22zM275 1664h8v8h-8zM297 1664h8v8h-8zM392 1664h8v8h-8zM443 1664h8v8h-8zM239 1672h22v7h-22zM275 1672h8v7h-8zM334 1672h14v7h-14zM385 1672h7v7h-7zM421 1672h8v7h-8zM443 1672h8v7h-8zM224 1679h8v7h-8zM254 1679h14v7h-14zM356 1679h14v7h-14zM414 1679h7v7h-7zM458 1679h7v7h-7zM268 1686h7v8h-7zM326 1686h22v8h-22zM414 1686h7v8h-7zM217 1694h7v7h-7zM239 1694h7v7h-7zM297 1694h8v7h-8zM348 1694h8v7h-8zM224 1701h8v7h-8zM239 1701h7v7h-7zM283 1701h14v7h-14zM312 1701h14v7h-14zM363 1701h7v7h-7zM385 1701h7v7h-7zM400 1701h21v7h-21zM451 1701h7v7h-7zM210 1708h7v7h-7zM232 1708h7v7h-7zM356 1708h7v7h-7zM436 1708h22v7h-22zM465 1708h7v7h-7zM210 1715h14v8h-14zM283 1715h7v8h-7zM356 1715h7v8h-7zM370 1715h15v8h-15zM458 1715h7v8h-7zM283 1723h7v7h-7zM378 1723h7v7h-7zM392 1723h8v7h-8zM480 1723h7v7h-7zM210 1730h7v7h-7zM356 1730h7v7h-7zM370 1730h8v7h-8zM312 1737h14v8h-14zM472 1737h15v8h-15zM254 1745h7v7h-7zM268 1745h22v7h-22zM305 1745h14v7h-14zM341 1745h7v7h-7zM378 1745h22v7h-22zM407 1745h7v7h-7zM472 1745h8v7h-8zM210 1752h22v7h-22zM268 1752h15v7h-15zM297 1752h8v7h-8zM348 1752h8v7h-8zM370 1752h8v7h-8zM392 1752h15v7h-15zM224 1759h8v7h-8zM261 1759h14v7h-14zM356 1759h7v7h-7zM378 1759h7v7h-7zM392 1759h8v7h-8zM487 1759h7v7h-7zM334 1766h7v8h-7zM356 1766h7v8h-7zM400 1766h7v8h-7zM443 1766h15v8h-15zM268 1774h7v7h-7zM283 1774h7v7h-7zM305 1774h7v7h-7zM407 1774h7v7h-7zM451 1774h7v7h-7zM334 1781h7v7h-7zM363 1781h7v7h-7zM429 1781h7v7h-7zM465 1781h7v7h-7zM268 1788h7v8h-7zM283 1788h14v8h-14zM305 1788h7v8h-7zM326 1788h8v8h-8zM370 1788h8v8h-8zM407 1788h7v8h-7zM421 1788h8v8h-8zM472 1788h8v8h-8zM268 1796h7v7h-7zM319 1796h7v7h-7zM348 1796h8v7h-8zM385 1796h7v7h-7zM414 1796h15v7h-15zM261 1803h7v7h-7zM356 1803h7v7h-7zM385 1803h7v7h-7zM400 1803h7v7h-7zM443 1803h8v7h-8zM465 1803h7v7h-7zM283 1810h7v8h-7zM363 1810h7v8h-7zM436 1810h15v8h-15zM297 1818h8v7h-8zM334 1818h7v7h-7zM348 1818h8v7h-8zM378 1818h14v7h-14zM436 1818h7v7h-7zM275 1825h8v7h-8zM297 1825h8v7h-8zM312 1825h7v7h-7zM378 1825h7v7h-7zM392 1825h8v7h-8zM261 1832h14v8h-14zM283 1832h7v8h-7zM312 1832h7v8h-7zM392 1832h8v8h-8zM414 1832h7v8h-7zM436 1832h7v8h-7zM268 1840h7v7h-7zM290 1840h15v7h-15zM370 1840h8v7h-8zM414 1840h7v7h-7zM356 1847h36v7h-36zM319 1854h7v7h-7zM407 1854h7v7h-7zM305 1861h14v8h-14zM385 1861h7v8h-7zM312 1869h7v7h-7zM341 1869h7v7h-7zM283 1876h14v7h-14zM305 1876h7v7h-7zM356 1876h7v7h-7zM319 1883h37v8h-37zM312 1891h7v7h-7zM334 1891h7v7h-7zM297 1898h8v7h-8zM312 1905h7v7h-7z"/>
<path fill="#FEBC68" d="M400 1562h7v7h-7zM356 1569h7v8h-7zM421 1569h8v8h-8zM370 1577h8v7h-8zM392 1577h8v7h-8zM334 1584h7v7h-7zM378 1584h14v7h-14zM275 1599h8v7h-8zM290 1599h15v7h-15zM348 1599h8v7h-8zM363 1599h7v7h-7zM414 1599h7v7h-7zM254 1606h7v7h-7zM297 1606h8v7h-8zM341 1606h22v7h-22zM400 1606h7v7h-7zM429 1606h7v7h-7zM239 1613h15v7h-15zM348 1613h8v7h-8zM385 1613h7v7h-7zM217 1620h7v8h-7zM254 1620h14v8h-14zM378 1620h29v8h-29zM202 1628h22v7h-22zM246 1628h8v7h-8zM180 1635h15v7h-15zM224 1635h8v7h-8zM246 1635h8v7h-8zM275 1635h8v7h-8zM305 1635h7v7h-7zM341 1635h15v7h-15zM451 1635h7v7h-7zM202 1642h15v8h-15zM232 1642h7v8h-7zM246 1642h8v8h-8zM268 1642h7v8h-7zM378 1642h7v8h-7zM451 1642h7v8h-7zM173 1650h15v7h-15zM217 1650h22v7h-22zM326 1650h22v7h-22zM356 1650h14v7h-14zM451 1650h7v7h-7zM159 1657h7v7h-7zM173 1657h15v7h-15zM224 1657h8v7h-8zM319 1657h7v7h-7zM341 1657h22v7h-22zM414 1657h7v7h-7zM451 1657h7v7h-7zM159 1664h7v8h-7zM217 1664h15v8h-15zM254 1664h7v8h-7zM268 1664h7v8h-7zM326 1664h15v8h-15zM348 1664h8v8h-8zM370 1664h8v8h-8zM159 1672h7v7h-7zM217 1672h7v7h-7zM261 1672h7v7h-7zM305 1672h7v7h-7zM348 1672h8v7h-8zM392 1672h8v7h-8zM451 1672h7v7h-7zM151 1679h8v7h-8zM210 1679h7v7h-7zM305 1679h7v7h-7zM334 1679h14v7h-14zM137 1686h7v8h-7zM180 1686h8v8h-8zM210 1686h7v8h-7zM305 1686h7v8h-7zM465 1686h7v8h-7zM144 1694h7v7h-7zM159 1694h7v7h-7zM268 1694h7v7h-7zM465 1694h7v7h-7zM305 1701h7v7h-7zM305 1708h14v7h-14zM458 1708h7v7h-7zM472 1708h8v7h-8zM297 1715h22v8h-22zM421 1715h22v8h-22zM465 1715h7v8h-7zM144 1723h7v7h-7zM166 1723h7v7h-7zM290 1723h7v7h-7zM348 1723h8v7h-8zM363 1723h7v7h-7zM436 1723h7v7h-7zM465 1723h7v7h-7zM166 1730h7v7h-7zM283 1730h7v7h-7zM312 1730h7v7h-7zM378 1730h7v7h-7zM421 1730h8v7h-8zM443 1730h15v7h-15zM480 1730h7v7h-7zM202 1737h15v8h-15zM275 1737h8v8h-8zM370 1737h22v8h-22zM429 1737h7v8h-7zM378 1752h7v7h-7zM443 1752h8v7h-8zM451 1759h7v7h-7zM407 1766h7v8h-7zM458 1774h7v7h-7zM297 1781h8v7h-8zM407 1781h14v7h-14zM436 1781h7v7h-7zM239 1788h7v8h-7zM261 1788h7v8h-7zM312 1788h7v8h-7zM400 1788h7v8h-7zM246 1796h22v7h-22zM378 1796h7v7h-7zM458 1796h7v7h-7zM370 1803h15v7h-15zM392 1803h8v7h-8zM451 1803h14v7h-14zM472 1803h8v7h-8zM254 1810h14v8h-14zM290 1810h7v8h-7zM451 1810h7v8h-7zM414 1818h7v7h-7zM451 1818h7v7h-7zM254 1825h7v7h-7zM283 1825h7v7h-7zM319 1825h7v7h-7zM334 1825h7v7h-7zM407 1825h7v7h-7zM421 1825h8v7h-8zM443 1825h8v7h-8zM275 1832h8v8h-8zM290 1832h15v8h-15zM319 1832h15v8h-15zM319 1840h15v7h-15zM312 1847h22v7h-22zM407 1847h14v7h-14zM275 1876h8v7h-8zM341 1876h7v7h-7zM290 1883h7v8h-7zM290 1891h7v7h-7zM341 1891h7v7h-7z"/>
<path fill="#FE9650" d="M407 1562h7v7h-7zM407 1569h7v8h-7zM414 1584h7v7h-7zM254 1613h14v7h-14zM232 1620h7v8h-7zM232 1628h7v7h-7zM173 1635h7v7h-7zM195 1635h15v7h-15zM239 1635h7v7h-7zM195 1642h7v8h-7zM159 1650h7v7h-7zM188 1650h7v7h-7zM210 1650h7v7h-7zM239 1650h7v7h-7zM254 1650h7v7h-7zM122 1657h15v7h-15zM188 1657h7v7h-7zM210 1657h7v7h-7zM232 1657h7v7h-7zM137 1664h14v8h-14zM166 1664h7v8h-7zM202 1664h8v8h-8zM173 1672h7v7h-7zM188 1672h7v7h-7zM210 1672h7v7h-7zM378 1672h7v7h-7zM129 1679h8v7h-8zM188 1679h22v7h-22zM378 1679h7v7h-7zM166 1686h7v8h-7zM370 1686h15v8h-15zM137 1694h7v7h-7zM378 1694h7v7h-7zM144 1701h15v7h-15zM180 1701h8v7h-8zM378 1701h7v7h-7zM159 1708h7v7h-7zM151 1715h8v8h-8zM173 1715h7v8h-7zM151 1723h15v7h-15zM151 1730h15v7h-15zM429 1730h14v7h-14zM166 1737h7v8h-7zM451 1737h14v8h-14zM465 1745h7v7h-7zM458 1752h22v7h-22zM443 1759h8v7h-8zM480 1759h7v7h-7zM465 1766h7v8h-7zM472 1774h8v7h-8zM494 1781h8v7h-8zM421 1810h15v8h-15zM407 1818h7v7h-7zM429 1825h7v7h-7z"/>
<path fill="#E0F290" d="M429 1569h7v8h-7zM319 1584h7v7h-7zM363 1584h7v7h-7zM385 1591h7v8h-7zM400 1591h7v8h-7zM290 1613h7v7h-7zM414 1613h7v7h-7zM268 1620h15v8h-15zM290 1628h7v7h-7zM421 1628h8v7h-8zM319 1635h7v7h-7zM283 1642h7v8h-7zM392 1642h15v8h-15zM137 1650h7v7h-7zM283 1650h7v7h-7zM297 1650h8v7h-8zM385 1650h15v7h-15zM261 1664h7v8h-7zM290 1664h7v8h-7zM319 1664h7v8h-7zM421 1664h8v8h-8zM429 1672h7v7h-7zM458 1672h7v7h-7zM217 1679h7v7h-7zM283 1679h7v7h-7zM319 1679h7v7h-7zM407 1679h7v7h-7zM429 1679h7v7h-7zM451 1679h7v7h-7zM239 1686h7v8h-7zM392 1686h8v8h-8zM421 1686h8v8h-8zM451 1686h7v8h-7zM224 1694h15v7h-15zM254 1694h14v7h-14zM290 1694h7v7h-7zM356 1694h7v7h-7zM414 1694h22v7h-22zM451 1694h7v7h-7zM232 1701h7v7h-7zM246 1701h8v7h-8zM356 1701h7v7h-7zM429 1701h14v7h-14zM239 1708h7v7h-7zM341 1708h7v7h-7zM385 1708h15v7h-15zM224 1715h8v8h-8zM246 1715h8v8h-8zM261 1715h22v8h-22zM348 1715h8v8h-8zM443 1715h15v8h-15zM217 1723h22v7h-22zM246 1723h8v7h-8zM268 1723h7v7h-7zM341 1723h7v7h-7zM217 1730h15v7h-15zM319 1730h7v7h-7zM348 1730h8v7h-8zM400 1730h7v7h-7zM232 1737h7v8h-7zM305 1737h7v8h-7zM356 1737h7v8h-7zM392 1737h8v8h-8zM407 1737h7v8h-7zM465 1737h7v8h-7zM246 1745h8v7h-8zM319 1745h7v7h-7zM334 1745h7v7h-7zM487 1745h7v7h-7zM239 1752h7v7h-7zM254 1752h7v7h-7zM305 1752h14v7h-14zM326 1752h8v7h-8zM414 1752h7v7h-7zM429 1752h14v7h-14zM232 1759h14v7h-14zM254 1759h7v7h-7zM275 1759h8v7h-8zM312 1759h22v7h-22zM348 1759h8v7h-8zM400 1759h7v7h-7zM436 1759h7v7h-7zM239 1766h7v8h-7zM290 1766h7v8h-7zM305 1766h7v8h-7zM326 1766h8v8h-8zM363 1766h7v8h-7zM232 1774h7v7h-7zM246 1774h8v7h-8zM334 1774h7v7h-7zM370 1774h8v7h-8zM392 1774h8v7h-8zM224 1781h8v7h-8zM246 1781h15v7h-15zM326 1781h8v7h-8zM341 1781h7v7h-7zM356 1781h7v7h-7zM341 1788h15v8h-15zM363 1788h7v8h-7zM480 1788h14v8h-14zM334 1796h7v7h-7zM363 1796h7v7h-7zM443 1796h15v7h-15zM480 1796h7v7h-7zM290 1803h7v7h-7zM305 1803h7v7h-7zM319 1803h7v7h-7zM341 1803h7v7h-7zM305 1810h7v8h-7zM319 1810h7v8h-7zM246 1818h8v7h-8zM268 1818h7v7h-7zM312 1818h22v7h-22zM356 1818h7v7h-7zM370 1818h8v7h-8zM392 1818h8v7h-8zM261 1825h7v7h-7zM341 1825h7v7h-7zM356 1825h7v7h-7zM370 1825h8v7h-8zM400 1825h7v7h-7zM378 1832h14v8h-14zM400 1832h7v8h-7zM400 1840h7v7h-7zM261 1847h7v7h-7zM341 1847h15v7h-15zM261 1854h14v7h-14zM290 1854h7v7h-7zM305 1854h7v7h-7zM348 1854h8v7h-8zM392 1854h8v7h-8zM268 1861h29v8h-29zM319 1861h7v8h-7zM341 1861h15v8h-15zM378 1861h7v8h-7zM400 1861h7v8h-7zM275 1869h8v7h-8zM334 1869h7v7h-7zM348 1869h8v7h-8zM268 1883h7v8h-7zM312 1883h7v8h-7zM356 1883h14v8h-14zM312 1898h22v7h-22zM290 1905h15v7h-15zM319 1905h7v7h-7zM261 1912h7v8h-7zM275 1912h8v8h-8zM246 1920h8v7h-8zM275 1927h8v7h-8zM246 1934h8v8h-8zM261 1934h7v8h-7zM246 1942h8v7h-8z"/>
<path fill="#FE4A48" d="M144 1657h7v7h-7zM188 1664h7v8h-7zM210 1664h7v8h-7zM137 1672h7v7h-7zM195 1672h15v7h-15zM166 1679h7v7h-7zM188 1694h7v7h-7zM202 1694h8v7h-8zM166 1701h14v7h-14zM188 1701h7v7h-7zM151 1708h8v7h-8zM188 1708h22v7h-22zM159 1715h14v8h-14zM180 1715h8v8h-8zM180 1723h15v7h-15zM202 1723h8v7h-8zM180 1730h8v7h-8zM195 1730h7v7h-7zM443 1737h8v8h-8zM451 1745h7v7h-7zM458 1759h14v7h-14zM458 1766h7v8h-7zM480 1774h7v7h-7zM494 1774h8v7h-8zM480 1781h7v7h-7zM421 1803h8v7h-8zM407 1810h7v8h-7zM421 1818h8v7h-8z"/>
<path fill="#AEE49C" d="M283 1694h7v7h-7zM326 1708h8v7h-8zM319 1715h7v8h-7zM290 1730h15v7h-15zM297 1759h15v7h-15zM370 1759h8v7h-8zM224 1766h8v8h-8zM297 1766h8v8h-8zM224 1774h8v7h-8zM239 1803h7v7h-7zM239 1818h7v7h-7zM246 1825h8v7h-8zM290 1898h7v7h-7zM283 1905h7v7h-7zM283 1912h14v8h-14zM275 1920h15v7h-15zM239 1927h7v7h-7z"/>
<path fill="#00C2A8" d="M326 1715h15v8h-15zM326 1723h15v7h-15zM334 1730h7v7h-7zM348 1745h8v7h-8zM356 1752h14v7h-14zM363 1759h7v7h-7zM378 1766h7v8h-7zM261 1861h7v8h-7zM385 1869h7v7h-7zM268 1912h7v8h-7zM239 1942h7v7h-7z"/>
<path fill="#6CD4A0" d="M305 1723h21v7h-21zM305 1730h7v7h-7zM341 1730h7v7h-7zM283 1737h14v8h-14zM341 1737h15v8h-15zM356 1745h7v7h-7zM312 1766h7v8h-7zM378 1774h7v7h-7zM232 1781h7v7h-7zM232 1788h7v8h-7zM246 1832h8v8h-8zM254 1847h7v7h-7zM268 1869h7v7h-7zM254 1927h7v7h-7z"/>
<path fill="#E4264A" d="M443 1745h8v7h-8z"/>
<path fill="#009BBC" d="M370 1766h8v8h-8zM261 1927h7v7h-7zM254 1934h7v8h-7z"/></g></g>
<g filter="url(#soft)"><g shape-rendering="crispEdges"><path fill="#FEBC68" d="M838 1555h8v7h-8zM846 1562h14v7h-14zM809 1569h7v8h-7zM853 1577h7v7h-7zM867 1584h8v7h-8zM692 1606h8v7h-8zM867 1606h15v7h-15zM700 1613h14v7h-14zM780 1613h7v7h-7zM867 1620h22v8h-22zM634 1628h7v7h-7zM648 1628h15v7h-15zM678 1628h7v7h-7zM802 1628h7v7h-7zM612 1635h7v7h-7zM634 1635h7v7h-7zM670 1635h15v7h-15zM707 1635h14v7h-14zM597 1642h8v8h-8zM656 1642h14v8h-14zM721 1642h8v8h-8zM743 1642h8v8h-8zM794 1642h8v8h-8zM568 1650h7v7h-7zM824 1650h7v7h-7zM838 1650h22v7h-22zM875 1650h7v7h-7zM692 1657h8v7h-8zM729 1657h14v7h-14zM751 1657h7v7h-7zM831 1657h7v7h-7zM875 1657h7v7h-7zM597 1664h8v8h-8zM692 1664h8v8h-8zM787 1664h7v8h-7zM846 1664h7v8h-7zM700 1672h7v7h-7zM721 1672h8v7h-8zM846 1672h7v7h-7zM575 1679h8v7h-8zM685 1679h7v7h-7zM743 1679h8v7h-8zM758 1679h7v7h-7zM853 1679h7v7h-7zM590 1686h15v8h-15zM751 1686h7v8h-7zM765 1686h15v8h-15zM816 1686h8v8h-8zM583 1694h7v7h-7zM685 1694h7v7h-7zM707 1694h7v7h-7zM751 1694h7v7h-7zM765 1694h15v7h-15zM787 1694h15v7h-15zM816 1694h8v7h-8zM882 1694h15v7h-15zM867 1701h8v7h-8zM882 1701h7v7h-7zM583 1708h7v7h-7zM597 1708h8v7h-8zM736 1708h7v7h-7zM751 1708h7v7h-7zM875 1708h14v7h-14zM897 1708h7v7h-7zM583 1715h7v8h-7zM597 1715h8v8h-8zM794 1715h15v8h-15zM904 1715h7v8h-7zM583 1723h7v7h-7zM736 1723h7v7h-7zM787 1723h15v7h-15zM882 1723h7v7h-7zM911 1723h7v7h-7zM678 1730h7v7h-7zM787 1730h7v7h-7zM831 1730h7v7h-7zM853 1730h7v7h-7zM772 1737h8v8h-8zM794 1737h8v8h-8zM853 1737h7v8h-7zM670 1745h8v7h-8zM780 1745h7v7h-7zM838 1745h15v7h-15zM860 1745h7v7h-7zM772 1752h15v7h-15zM911 1752h7v7h-7zM678 1759h7v7h-7zM787 1759h7v7h-7zM918 1759h8v7h-8zM780 1766h7v8h-7zM794 1766h8v8h-8zM860 1766h7v8h-7zM875 1766h7v8h-7zM904 1766h7v8h-7zM685 1774h7v7h-7zM721 1774h22v7h-22zM751 1774h7v7h-7zM765 1774h15v7h-15zM853 1774h22v7h-22zM911 1774h7v7h-7zM926 1774h7v7h-7zM678 1781h7v7h-7zM729 1781h7v7h-7zM751 1781h7v7h-7zM765 1781h7v7h-7zM787 1781h7v7h-7zM860 1781h7v7h-7zM926 1781h7v7h-7zM678 1788h7v8h-7zM729 1788h7v8h-7zM809 1788h7v8h-7zM867 1788h8v8h-8zM729 1796h14v7h-14zM831 1803h7v7h-7zM729 1810h7v8h-7zM765 1810h7v8h-7zM831 1810h7v8h-7zM889 1810h8v8h-8zM729 1818h7v7h-7zM721 1825h15v7h-15zM882 1825h7v7h-7zM714 1832h7v8h-7zM867 1832h8v8h-8zM729 1840h14v7h-14zM867 1840h8v7h-8zM780 1847h7v7h-7zM802 1847h7v7h-7zM816 1861h8v8h-8zM772 1869h8v7h-8zM751 1876h7v7h-7zM772 1876h8v7h-8zM758 1883h14v8h-14zM736 1891h7v7h-7zM758 1891h14v7h-14zM736 1898h15v7h-15zM765 1898h7v7h-7zM729 1905h7v7h-7zM714 1912h15v8h-15zM707 1920h14v7h-14zM729 1920h7v7h-7zM692 1934h8v8h-8z"/>
<path fill="#FEDC80" d="M846 1555h7v7h-7zM831 1562h7v7h-7zM802 1569h7v8h-7zM816 1569h15v8h-15zM809 1577h7v7h-7zM838 1577h8v7h-8zM860 1577h15v7h-15zM758 1584h14v7h-14zM816 1584h8v7h-8zM743 1591h8v8h-8zM838 1591h8v8h-8zM875 1591h7v8h-7zM714 1599h7v7h-7zM772 1599h8v7h-8zM794 1599h8v7h-8zM853 1599h7v7h-7zM772 1606h8v7h-8zM787 1606h7v7h-7zM802 1606h7v7h-7zM831 1606h7v7h-7zM860 1606h7v7h-7zM794 1613h8v7h-8zM846 1613h7v7h-7zM707 1620h7v8h-7zM809 1620h7v8h-7zM641 1628h7v7h-7zM714 1628h15v7h-15zM794 1628h8v7h-8zM860 1628h15v7h-15zM882 1628h7v7h-7zM692 1635h8v7h-8zM721 1635h8v7h-8zM743 1635h22v7h-22zM780 1635h7v7h-7zM794 1635h22v7h-22zM867 1635h30v7h-30zM641 1642h7v8h-7zM692 1642h8v8h-8zM736 1642h7v8h-7zM809 1642h7v8h-7zM838 1642h8v8h-8zM867 1642h8v8h-8zM575 1650h8v7h-8zM707 1650h7v7h-7zM751 1650h7v7h-7zM860 1650h7v7h-7zM882 1650h15v7h-15zM743 1657h8v7h-8zM846 1657h7v7h-7zM860 1657h7v7h-7zM670 1664h15v8h-15zM707 1664h7v8h-7zM751 1664h7v8h-7zM802 1664h7v8h-7zM816 1664h8v8h-8zM853 1664h7v8h-7zM875 1664h7v8h-7zM729 1672h7v7h-7zM743 1672h8v7h-8zM780 1672h7v7h-7zM809 1672h7v7h-7zM831 1672h7v7h-7zM751 1679h7v7h-7zM831 1679h7v7h-7zM860 1679h15v7h-15zM670 1686h8v8h-8zM692 1686h8v8h-8zM714 1686h15v8h-15zM758 1686h7v8h-7zM787 1686h15v8h-15zM838 1686h8v8h-8zM860 1686h7v8h-7zM656 1694h14v7h-14zM743 1694h8v7h-8zM780 1694h7v7h-7zM867 1694h8v7h-8zM648 1701h8v7h-8zM743 1701h8v7h-8zM780 1701h7v7h-7zM802 1701h7v7h-7zM875 1701h7v7h-7zM904 1701h7v7h-7zM707 1708h22v7h-22zM758 1708h7v7h-7zM802 1708h7v7h-7zM889 1708h8v7h-8zM904 1708h7v7h-7zM663 1715h7v8h-7zM700 1715h7v8h-7zM721 1715h8v8h-8zM736 1715h15v8h-15zM816 1715h15v8h-15zM838 1715h8v8h-8zM663 1723h7v7h-7zM692 1723h8v7h-8zM729 1723h7v7h-7zM780 1723h7v7h-7zM838 1723h8v7h-8zM853 1723h7v7h-7zM897 1723h7v7h-7zM670 1730h8v7h-8zM838 1730h8v7h-8zM897 1730h7v7h-7zM678 1737h7v8h-7zM700 1737h7v8h-7zM751 1737h7v8h-7zM816 1737h30v8h-30zM721 1745h8v7h-8zM743 1745h8v7h-8zM648 1752h8v7h-8zM663 1752h7v7h-7zM685 1752h7v7h-7zM751 1752h7v7h-7zM765 1752h7v7h-7zM787 1752h7v7h-7zM846 1752h7v7h-7zM867 1752h15v7h-15zM926 1752h7v7h-7zM721 1759h8v7h-8zM758 1759h22v7h-22zM794 1759h8v7h-8zM853 1759h14v7h-14zM875 1759h7v7h-7zM700 1766h7v8h-7zM758 1766h14v8h-14zM853 1766h7v8h-7zM867 1766h8v8h-8zM889 1766h8v8h-8zM707 1774h7v7h-7zM743 1774h8v7h-8zM780 1774h14v7h-14zM809 1774h7v7h-7zM875 1774h7v7h-7zM897 1774h7v7h-7zM685 1781h7v7h-7zM714 1781h7v7h-7zM736 1781h7v7h-7zM831 1781h7v7h-7zM846 1781h7v7h-7zM867 1781h8v7h-8zM736 1788h7v8h-7zM751 1788h7v8h-7zM816 1788h8v8h-8zM882 1788h7v8h-7zM918 1788h8v8h-8zM678 1796h7v7h-7zM707 1796h7v7h-7zM758 1796h7v7h-7zM794 1796h15v7h-15zM882 1796h7v7h-7zM918 1796h8v7h-8zM692 1803h8v7h-8zM729 1803h14v7h-14zM758 1803h7v7h-7zM780 1803h14v7h-14zM809 1803h7v7h-7zM838 1803h8v7h-8zM875 1803h14v7h-14zM692 1810h8v8h-8zM875 1810h7v8h-7zM897 1810h7v8h-7zM714 1818h7v7h-7zM765 1818h7v7h-7zM787 1818h7v7h-7zM816 1818h8v7h-8zM889 1818h8v7h-8zM714 1825h7v7h-7zM736 1825h7v7h-7zM751 1825h14v7h-14zM824 1825h7v7h-7zM838 1825h8v7h-8zM700 1832h14v8h-14zM743 1832h8v8h-8zM772 1832h15v8h-15zM802 1832h7v8h-7zM816 1832h8v8h-8zM846 1832h21v8h-21zM721 1840h8v7h-8zM743 1840h8v7h-8zM765 1840h15v7h-15zM794 1840h8v7h-8zM831 1840h7v7h-7zM846 1840h7v7h-7zM751 1847h7v7h-7zM787 1847h7v7h-7zM853 1847h7v7h-7zM743 1854h8v7h-8zM758 1854h7v7h-7zM772 1854h8v7h-8zM802 1854h14v7h-14zM824 1854h14v7h-14zM758 1861h14v8h-14zM787 1861h7v8h-7zM809 1861h7v8h-7zM824 1861h7v8h-7zM714 1869h7v7h-7zM758 1869h14v7h-14zM787 1869h7v7h-7zM765 1876h7v7h-7zM780 1876h7v7h-7zM802 1876h7v7h-7zM772 1883h15v8h-15zM780 1891h7v7h-7zM758 1898h7v7h-7zM743 1905h15v7h-15zM692 1920h8v7h-8zM700 1927h7v7h-7z"/>
<path fill="#FE9650" d="M853 1555h7v7h-7zM846 1569h14v8h-14zM846 1577h7v7h-7zM846 1584h14v7h-14zM700 1606h7v7h-7zM685 1613h7v7h-7zM663 1620h15v8h-15zM685 1628h22v7h-22zM626 1635h8v7h-8zM641 1635h7v7h-7zM656 1635h14v7h-14zM685 1635h7v7h-7zM700 1635h7v7h-7zM612 1642h14v8h-14zM634 1642h7v8h-7zM670 1642h8v8h-8zM685 1642h7v8h-7zM597 1650h8v7h-8zM612 1650h14v7h-14zM663 1650h7v7h-7zM685 1650h7v7h-7zM583 1657h7v7h-7zM634 1657h7v7h-7zM656 1657h7v7h-7zM678 1657h7v7h-7zM575 1664h8v8h-8zM590 1664h7v8h-7zM605 1664h7v8h-7zM626 1664h15v8h-15zM656 1664h7v8h-7zM568 1672h15v7h-15zM605 1672h14v7h-14zM648 1672h8v7h-8zM583 1679h7v7h-7zM597 1679h15v7h-15zM626 1679h8v7h-8zM648 1679h8v7h-8zM575 1686h8v8h-8zM626 1686h8v8h-8zM648 1686h8v8h-8zM809 1686h7v8h-7zM590 1694h22v7h-22zM619 1694h15v7h-15zM590 1701h7v7h-7zM605 1701h7v7h-7zM626 1701h8v7h-8zM816 1701h8v7h-8zM575 1708h8v7h-8zM605 1708h21v7h-21zM590 1715h7v8h-7zM612 1715h7v8h-7zM634 1715h14v8h-14zM860 1715h7v8h-7zM641 1723h7v7h-7zM875 1723h7v7h-7zM597 1730h15v7h-15zM882 1730h15v7h-15zM605 1737h7v8h-7zM867 1737h8v8h-8zM889 1737h8v8h-8zM904 1745h7v7h-7zM904 1759h14v7h-14zM918 1781h8v7h-8zM933 1781h7v7h-7zM853 1803h7v7h-7zM867 1818h8v7h-8zM846 1825h7v7h-7zM867 1825h8v7h-8z"/>
<path fill="#FEF0A0" d="M860 1555h7v7h-7zM838 1562h8v7h-8zM860 1562h7v7h-7zM831 1569h15v8h-15zM867 1569h8v8h-8zM787 1577h7v7h-7zM816 1577h8v7h-8zM824 1584h22v7h-22zM758 1591h14v8h-14zM802 1591h7v8h-7zM824 1591h7v8h-7zM846 1591h7v8h-7zM867 1591h8v8h-8zM729 1599h7v7h-7zM831 1599h7v7h-7zM846 1599h7v7h-7zM860 1599h22v7h-22zM714 1606h7v7h-7zM743 1606h8v7h-8zM758 1606h7v7h-7zM809 1606h7v7h-7zM736 1613h7v7h-7zM802 1613h7v7h-7zM831 1613h7v7h-7zM860 1613h29v7h-29zM721 1620h8v8h-8zM758 1620h7v8h-7zM794 1620h8v8h-8zM831 1620h15v8h-15zM729 1628h7v7h-7zM751 1628h7v7h-7zM780 1628h7v7h-7zM809 1628h7v7h-7zM824 1628h7v7h-7zM853 1628h7v7h-7zM875 1628h7v7h-7zM729 1635h14v7h-14zM765 1635h7v7h-7zM853 1635h7v7h-7zM751 1642h14v8h-14zM780 1642h7v8h-7zM831 1642h7v8h-7zM875 1642h7v8h-7zM889 1642h8v8h-8zM721 1650h8v7h-8zM743 1650h8v7h-8zM758 1650h7v7h-7zM772 1650h15v7h-15zM809 1650h15v7h-15zM831 1650h7v7h-7zM867 1650h8v7h-8zM685 1657h7v7h-7zM700 1657h7v7h-7zM765 1657h7v7h-7zM802 1657h7v7h-7zM824 1657h7v7h-7zM838 1657h8v7h-8zM867 1657h8v7h-8zM897 1657h7v7h-7zM685 1664h7v8h-7zM729 1664h14v8h-14zM794 1664h8v8h-8zM867 1664h8v8h-8zM897 1664h7v8h-7zM678 1672h22v7h-22zM707 1672h7v7h-7zM838 1672h8v7h-8zM853 1672h7v7h-7zM882 1672h7v7h-7zM692 1679h8v7h-8zM736 1679h7v7h-7zM794 1679h15v7h-15zM824 1679h7v7h-7zM838 1679h15v7h-15zM875 1679h7v7h-7zM889 1679h8v7h-8zM656 1686h7v8h-7zM685 1686h7v8h-7zM700 1686h7v8h-7zM729 1686h7v8h-7zM780 1686h7v8h-7zM824 1686h14v8h-14zM853 1686h7v8h-7zM882 1686h7v8h-7zM904 1686h7v8h-7zM678 1694h7v7h-7zM758 1694h7v7h-7zM838 1694h8v7h-8zM853 1694h14v7h-14zM897 1694h14v7h-14zM656 1701h7v7h-7zM670 1701h8v7h-8zM685 1701h7v7h-7zM714 1701h22v7h-22zM772 1701h8v7h-8zM787 1701h15v7h-15zM809 1701h7v7h-7zM824 1701h7v7h-7zM860 1701h7v7h-7zM897 1701h7v7h-7zM648 1708h8v7h-8zM670 1708h8v7h-8zM743 1708h8v7h-8zM772 1708h8v7h-8zM787 1708h15v7h-15zM824 1708h14v7h-14zM867 1708h8v7h-8zM670 1715h22v8h-22zM751 1715h7v8h-7zM809 1715h7v8h-7zM831 1715h7v8h-7zM853 1715h7v8h-7zM882 1715h7v8h-7zM911 1715h7v8h-7zM648 1723h8v7h-8zM678 1723h7v7h-7zM707 1723h7v7h-7zM824 1723h7v7h-7zM846 1723h7v7h-7zM904 1723h7v7h-7zM656 1730h14v7h-14zM685 1730h7v7h-7zM714 1730h7v7h-7zM758 1730h7v7h-7zM794 1730h37v7h-37zM846 1730h7v7h-7zM911 1730h15v7h-15zM641 1737h7v8h-7zM663 1737h15v8h-15zM685 1737h7v8h-7zM714 1737h7v8h-7zM743 1737h8v8h-8zM758 1737h7v8h-7zM802 1737h14v8h-14zM846 1737h7v8h-7zM860 1737h7v8h-7zM904 1737h14v8h-14zM648 1745h8v7h-8zM663 1745h7v7h-7zM678 1745h7v7h-7zM765 1745h15v7h-15zM809 1745h7v7h-7zM853 1745h7v7h-7zM867 1745h8v7h-8zM926 1745h7v7h-7zM656 1752h7v7h-7zM670 1752h15v7h-15zM692 1752h8v7h-8zM809 1752h15v7h-15zM831 1752h15v7h-15zM853 1752h7v7h-7zM918 1752h8v7h-8zM685 1759h7v7h-7zM816 1759h8v7h-8zM831 1759h15v7h-15zM670 1766h30v8h-30zM772 1766h8v8h-8zM787 1766h7v8h-7zM846 1766h7v8h-7zM882 1766h7v8h-7zM663 1774h22v7h-22zM714 1774h7v7h-7zM758 1774h7v7h-7zM794 1774h8v7h-8zM838 1774h15v7h-15zM882 1774h15v7h-15zM663 1781h15v7h-15zM743 1781h8v7h-8zM758 1781h7v7h-7zM772 1781h15v7h-15zM802 1781h14v7h-14zM824 1781h7v7h-7zM838 1781h8v7h-8zM897 1781h21v7h-21zM685 1788h7v8h-7zM758 1788h7v8h-7zM772 1788h30v8h-30zM824 1788h7v8h-7zM846 1788h14v8h-14zM926 1788h7v8h-7zM714 1796h15v7h-15zM816 1796h37v7h-37zM860 1796h22v7h-22zM889 1796h22v7h-22zM700 1803h7v7h-7zM714 1803h15v7h-15zM743 1803h15v7h-15zM772 1803h8v7h-8zM867 1803h8v7h-8zM707 1810h7v8h-7zM721 1810h8v8h-8zM743 1810h8v8h-8zM824 1810h7v8h-7zM882 1810h7v8h-7zM911 1810h7v8h-7zM707 1818h7v7h-7zM772 1818h8v7h-8zM794 1818h8v7h-8zM809 1818h7v7h-7zM824 1818h14v7h-14zM882 1818h7v7h-7zM897 1818h7v7h-7zM692 1825h8v7h-8zM765 1825h7v7h-7zM794 1825h8v7h-8zM816 1825h8v7h-8zM721 1832h22v8h-22zM758 1832h14v8h-14zM794 1832h8v8h-8zM809 1832h7v8h-7zM824 1832h7v8h-7zM875 1832h7v8h-7zM700 1840h7v7h-7zM751 1840h7v7h-7zM780 1840h7v7h-7zM802 1840h7v7h-7zM816 1840h8v7h-8zM692 1847h8v7h-8zM743 1847h8v7h-8zM700 1854h21v7h-21zM736 1854h7v7h-7zM765 1854h7v7h-7zM787 1854h7v7h-7zM816 1854h8v7h-8zM714 1861h7v8h-7zM751 1861h7v8h-7zM794 1861h15v8h-15zM721 1869h8v7h-8zM794 1869h8v7h-8zM809 1869h22v7h-22zM707 1876h22v7h-22zM736 1876h7v7h-7zM787 1876h15v7h-15zM809 1876h7v7h-7zM707 1883h7v8h-7zM743 1883h15v8h-15zM787 1883h15v8h-15zM714 1891h22v7h-22zM772 1891h8v7h-8zM751 1898h7v7h-7zM714 1905h15v7h-15zM736 1912h7v8h-7zM685 1927h7v7h-7zM707 1927h14v7h-14zM678 1934h7v8h-7z"/>
<path fill="#F4F8A8" d="M816 1562h15v7h-15zM794 1569h8v8h-8zM780 1577h7v7h-7zM802 1577h7v7h-7zM824 1577h14v7h-14zM780 1584h7v7h-7zM802 1584h14v7h-14zM860 1584h7v7h-7zM736 1591h7v8h-7zM751 1591h7v8h-7zM772 1591h22v8h-22zM809 1591h15v8h-15zM860 1591h7v8h-7zM721 1599h8v7h-8zM736 1599h7v7h-7zM751 1599h14v7h-14zM780 1599h14v7h-14zM824 1599h7v7h-7zM707 1606h7v7h-7zM721 1606h8v7h-8zM765 1606h7v7h-7zM780 1606h7v7h-7zM794 1606h8v7h-8zM838 1606h15v7h-15zM714 1613h22v7h-22zM758 1613h7v7h-7zM772 1613h8v7h-8zM787 1613h7v7h-7zM853 1613h7v7h-7zM714 1620h7v8h-7zM729 1620h7v8h-7zM743 1620h8v8h-8zM765 1620h29v8h-29zM802 1620h7v8h-7zM824 1620h7v8h-7zM860 1620h7v8h-7zM707 1628h7v7h-7zM765 1628h15v7h-15zM787 1628h7v7h-7zM838 1628h15v7h-15zM787 1635h7v7h-7zM816 1635h8v7h-8zM831 1635h15v7h-15zM860 1635h7v7h-7zM590 1642h7v8h-7zM707 1642h14v8h-14zM729 1642h7v8h-7zM772 1642h8v8h-8zM802 1642h7v8h-7zM824 1642h7v8h-7zM860 1642h7v8h-7zM882 1642h7v8h-7zM729 1650h14v7h-14zM772 1657h8v7h-8zM787 1657h7v7h-7zM809 1657h7v7h-7zM853 1657h7v7h-7zM882 1657h7v7h-7zM700 1664h7v8h-7zM721 1664h8v8h-8zM743 1664h8v8h-8zM765 1664h22v8h-22zM809 1664h7v8h-7zM824 1664h22v8h-22zM860 1664h7v8h-7zM663 1672h7v7h-7zM714 1672h7v7h-7zM736 1672h7v7h-7zM751 1672h21v7h-21zM787 1672h22v7h-22zM860 1672h7v7h-7zM897 1672h7v7h-7zM663 1679h7v7h-7zM678 1679h7v7h-7zM700 1679h21v7h-21zM729 1679h7v7h-7zM772 1679h22v7h-22zM897 1679h7v7h-7zM663 1686h7v8h-7zM678 1686h7v8h-7zM707 1686h7v8h-7zM736 1686h15v8h-15zM802 1686h7v8h-7zM867 1686h8v8h-8zM889 1686h15v8h-15zM670 1694h8v7h-8zM714 1694h7v7h-7zM736 1694h7v7h-7zM875 1694h7v7h-7zM692 1701h8v7h-8zM707 1701h7v7h-7zM736 1701h7v7h-7zM751 1701h14v7h-14zM831 1701h7v7h-7zM853 1701h7v7h-7zM889 1701h8v7h-8zM678 1708h14v7h-14zM700 1708h7v7h-7zM729 1708h7v7h-7zM780 1708h7v7h-7zM911 1708h7v7h-7zM648 1715h15v8h-15zM714 1715h7v8h-7zM729 1715h7v8h-7zM780 1715h14v8h-14zM846 1715h7v8h-7zM889 1715h15v8h-15zM670 1723h8v7h-8zM685 1723h7v7h-7zM714 1723h7v7h-7zM802 1723h7v7h-7zM831 1723h7v7h-7zM889 1723h8v7h-8zM918 1723h8v7h-8zM648 1730h8v7h-8zM692 1730h8v7h-8zM751 1730h7v7h-7zM904 1730h7v7h-7zM648 1737h8v8h-8zM736 1737h7v8h-7zM765 1737h7v8h-7zM918 1737h8v8h-8zM685 1745h7v7h-7zM714 1745h7v7h-7zM736 1745h7v7h-7zM751 1745h14v7h-14zM802 1745h7v7h-7zM816 1745h22v7h-22zM911 1745h15v7h-15zM700 1752h7v7h-7zM729 1752h7v7h-7zM743 1752h8v7h-8zM758 1752h7v7h-7zM824 1752h7v7h-7zM860 1752h7v7h-7zM663 1759h15v7h-15zM692 1759h15v7h-15zM714 1759h7v7h-7zM729 1759h7v7h-7zM867 1759h8v7h-8zM926 1759h7v7h-7zM656 1766h14v8h-14zM707 1766h7v8h-7zM721 1766h15v8h-15zM802 1766h7v8h-7zM831 1766h15v8h-15zM692 1774h8v7h-8zM802 1774h7v7h-7zM721 1781h8v7h-8zM794 1781h8v7h-8zM816 1781h8v7h-8zM853 1781h7v7h-7zM875 1781h22v7h-22zM700 1788h29v8h-29zM802 1788h7v8h-7zM875 1788h7v8h-7zM889 1788h8v8h-8zM911 1788h7v8h-7zM685 1796h7v7h-7zM700 1796h7v7h-7zM780 1796h7v7h-7zM809 1796h7v7h-7zM678 1803h14v7h-14zM707 1803h7v7h-7zM765 1803h7v7h-7zM802 1803h7v7h-7zM816 1803h8v7h-8zM846 1803h7v7h-7zM889 1803h22v7h-22zM685 1810h7v8h-7zM736 1810h7v8h-7zM751 1810h7v8h-7zM772 1810h8v8h-8zM809 1810h15v8h-15zM904 1810h7v8h-7zM721 1818h8v7h-8zM736 1818h15v7h-15zM758 1818h7v7h-7zM780 1818h7v7h-7zM875 1818h7v7h-7zM743 1825h8v7h-8zM772 1825h8v7h-8zM787 1825h7v7h-7zM802 1825h14v7h-14zM875 1825h7v7h-7zM685 1832h7v8h-7zM751 1832h7v8h-7zM787 1832h7v8h-7zM838 1832h8v8h-8zM685 1840h15v7h-15zM707 1840h14v7h-14zM758 1840h7v7h-7zM787 1840h7v7h-7zM809 1840h7v7h-7zM824 1840h7v7h-7zM853 1840h14v7h-14zM700 1847h43v7h-43zM794 1847h8v7h-8zM809 1847h15v7h-15zM831 1847h7v7h-7zM846 1847h7v7h-7zM721 1854h8v7h-8zM780 1854h7v7h-7zM794 1854h8v7h-8zM846 1854h7v7h-7zM721 1861h30v8h-30zM772 1861h15v8h-15zM838 1861h8v8h-8zM729 1869h14v7h-14zM751 1869h7v7h-7zM780 1869h7v7h-7zM802 1869h7v7h-7zM758 1876h7v7h-7zM721 1883h15v8h-15zM802 1883h7v8h-7zM743 1891h15v7h-15zM729 1898h7v7h-7zM707 1912h7v8h-7zM700 1920h7v7h-7zM721 1920h8v7h-8zM685 1934h7v8h-7zM678 1942h7v7h-7z"/>
<path fill="#E0F290" d="M860 1569h7v8h-7zM794 1577h8v7h-8zM772 1584h8v7h-8zM787 1584h15v7h-15zM794 1591h8v8h-8zM831 1591h7v8h-7zM743 1599h8v7h-8zM765 1599h7v7h-7zM802 1599h22v7h-22zM838 1599h8v7h-8zM729 1606h14v7h-14zM751 1606h7v7h-7zM816 1606h15v7h-15zM853 1606h7v7h-7zM743 1613h15v7h-15zM765 1613h7v7h-7zM809 1613h22v7h-22zM838 1613h8v7h-8zM736 1620h7v8h-7zM751 1620h7v8h-7zM816 1620h8v8h-8zM846 1620h14v8h-14zM736 1628h15v7h-15zM758 1628h7v7h-7zM816 1628h8v7h-8zM831 1628h7v7h-7zM772 1635h8v7h-8zM824 1635h7v7h-7zM846 1635h7v7h-7zM765 1642h7v8h-7zM787 1642h7v8h-7zM816 1642h8v8h-8zM846 1642h14v8h-14zM700 1650h7v7h-7zM714 1650h7v7h-7zM765 1650h7v7h-7zM787 1650h22v7h-22zM707 1657h22v7h-22zM758 1657h7v7h-7zM780 1657h7v7h-7zM794 1657h8v7h-8zM816 1657h8v7h-8zM889 1657h8v7h-8zM714 1664h7v8h-7zM758 1664h7v8h-7zM882 1664h15v8h-15zM656 1672h7v7h-7zM670 1672h8v7h-8zM772 1672h8v7h-8zM824 1672h7v7h-7zM867 1672h15v7h-15zM889 1672h8v7h-8zM656 1679h7v7h-7zM670 1679h8v7h-8zM721 1679h8v7h-8zM765 1679h7v7h-7zM882 1679h7v7h-7zM846 1686h7v8h-7zM875 1686h7v8h-7zM700 1694h7v7h-7zM802 1694h7v7h-7zM824 1694h14v7h-14zM846 1694h7v7h-7zM663 1701h7v7h-7zM678 1701h7v7h-7zM700 1701h7v7h-7zM765 1701h7v7h-7zM838 1701h15v7h-15zM656 1708h14v7h-14zM692 1708h8v7h-8zM809 1708h15v7h-15zM838 1708h29v7h-29zM692 1715h8v8h-8zM707 1715h7v8h-7zM656 1723h7v7h-7zM700 1723h7v7h-7zM721 1723h8v7h-8zM809 1723h15v7h-15zM700 1730h14v7h-14zM721 1730h8v7h-8zM765 1730h7v7h-7zM656 1737h7v8h-7zM692 1737h8v8h-8zM707 1737h7v8h-7zM656 1745h7v7h-7zM692 1745h22v7h-22zM729 1745h7v7h-7zM707 1752h22v7h-22zM736 1752h7v7h-7zM707 1759h7v7h-7zM736 1759h7v7h-7zM780 1759h7v7h-7zM824 1759h7v7h-7zM846 1759h7v7h-7zM714 1766h7v8h-7zM824 1766h7v8h-7zM700 1774h7v7h-7zM824 1774h14v7h-14zM692 1781h22v7h-22zM692 1788h8v8h-8zM743 1788h8v8h-8zM765 1788h7v8h-7zM831 1788h15v8h-15zM860 1788h7v8h-7zM897 1788h14v8h-14zM692 1796h8v7h-8zM743 1796h15v7h-15zM765 1796h15v7h-15zM787 1796h7v7h-7zM853 1796h7v7h-7zM911 1796h7v7h-7zM794 1803h8v7h-8zM824 1803h7v7h-7zM911 1803h7v7h-7zM678 1810h7v8h-7zM700 1810h7v8h-7zM714 1810h7v8h-7zM758 1810h7v8h-7zM780 1810h29v8h-29zM692 1818h15v7h-15zM751 1818h7v7h-7zM802 1818h7v7h-7zM700 1825h14v7h-14zM780 1825h7v7h-7zM831 1825h7v7h-7zM692 1832h8v8h-8zM831 1832h7v8h-7zM838 1840h8v7h-8zM758 1847h22v7h-22zM824 1847h7v7h-7zM838 1847h8v7h-8zM729 1854h7v7h-7zM751 1854h7v7h-7zM838 1854h8v7h-8zM700 1861h14v8h-14zM831 1861h7v8h-7zM707 1869h7v7h-7zM743 1869h8v7h-8zM729 1876h7v7h-7zM743 1876h8v7h-8zM736 1883h7v8h-7zM721 1898h8v7h-8zM772 1898h15v7h-15zM736 1905h7v7h-7zM700 1912h7v8h-7zM729 1912h7v8h-7zM678 1927h7v7h-7z"/>
<path fill="#FE6C40" d="M853 1591h7v8h-7zM678 1613h7v7h-7zM692 1613h8v7h-8zM656 1620h7v8h-7zM678 1620h29v8h-29zM663 1628h15v7h-15zM619 1635h7v7h-7zM648 1635h8v7h-8zM605 1642h7v8h-7zM626 1642h8v8h-8zM648 1642h8v8h-8zM678 1642h7v8h-7zM700 1642h7v8h-7zM590 1650h7v7h-7zM626 1650h8v7h-8zM648 1650h15v7h-15zM575 1657h8v7h-8zM590 1657h7v7h-7zM605 1657h7v7h-7zM648 1657h8v7h-8zM670 1657h8v7h-8zM568 1664h7v8h-7zM583 1664h7v8h-7zM583 1672h22v7h-22zM641 1672h7v7h-7zM816 1672h8v7h-8zM568 1679h7v7h-7zM590 1679h7v7h-7zM612 1679h7v7h-7zM634 1679h7v7h-7zM809 1679h15v7h-15zM583 1686h7v8h-7zM605 1686h7v8h-7zM619 1686h7v8h-7zM575 1694h8v7h-8zM612 1694h7v7h-7zM634 1694h7v7h-7zM648 1694h8v7h-8zM809 1694h7v7h-7zM575 1701h15v7h-15zM597 1701h8v7h-8zM619 1701h7v7h-7zM634 1701h14v7h-14zM590 1708h7v7h-7zM634 1708h14v7h-14zM605 1715h7v8h-7zM619 1715h7v8h-7zM867 1715h8v8h-8zM590 1723h22v7h-22zM860 1723h7v7h-7zM590 1730h7v7h-7zM626 1730h8v7h-8zM641 1730h7v7h-7zM860 1730h22v7h-22zM597 1737h8v8h-8zM612 1737h7v8h-7zM875 1745h7v7h-7zM897 1745h7v7h-7zM882 1752h7v7h-7zM897 1752h14v7h-14zM897 1759h7v7h-7zM897 1766h7v8h-7zM911 1766h29v8h-29zM904 1774h7v7h-7zM933 1774h7v7h-7zM867 1810h8v8h-8zM846 1818h7v7h-7zM853 1825h7v7h-7z"/>
<path fill="#FE4A48" d="M583 1650h7v7h-7zM605 1650h7v7h-7zM634 1650h14v7h-14zM670 1650h15v7h-15zM692 1650h8v7h-8zM561 1657h14v7h-14zM597 1657h8v7h-8zM612 1657h22v7h-22zM663 1657h7v7h-7zM561 1664h7v8h-7zM612 1664h14v8h-14zM641 1664h15v8h-15zM663 1664h7v8h-7zM619 1672h22v7h-22zM619 1679h7v7h-7zM641 1679h7v7h-7zM612 1686h7v8h-7zM634 1686h14v8h-14zM641 1694h7v7h-7zM612 1701h7v7h-7zM626 1708h8v7h-8zM626 1715h8v8h-8zM875 1715h7v8h-7zM612 1723h7v7h-7zM634 1723h7v7h-7zM867 1723h8v7h-8zM612 1730h14v7h-14zM634 1730h7v7h-7zM619 1737h7v8h-7zM875 1737h7v8h-7zM897 1737h7v8h-7zM882 1745h15v7h-15zM889 1752h8v7h-8zM882 1759h15v7h-15zM918 1774h8v7h-8zM860 1803h7v7h-7zM838 1810h29v8h-29zM838 1818h8v7h-8zM853 1818h14v7h-14zM860 1825h7v7h-7z"/>
<path fill="#E4264A" d="M641 1657h7v7h-7zM619 1723h15v7h-15zM882 1737h7v8h-7z"/>
<path fill="#AEE49C" d="M692 1694h8v7h-8zM721 1694h8v7h-8zM751 1723h7v7h-7zM772 1730h15v7h-15zM780 1737h7v8h-7zM787 1745h7v7h-7zM656 1759h7v7h-7zM802 1759h7v7h-7zM736 1766h7v8h-7zM670 1788h8v8h-8zM670 1796h8v7h-8zM670 1803h8v7h-8zM714 1883h7v8h-7zM794 1891h8v7h-8zM714 1898h7v7h-7zM758 1905h14v7h-14zM743 1912h8v8h-8zM685 1920h7v7h-7zM692 1927h8v7h-8zM700 1934h7v8h-7zM685 1942h7v7h-7z"/>
<path fill="#6CD4A0" d="M729 1694h7v7h-7zM772 1715h8v8h-8zM743 1723h8v7h-8zM758 1723h7v7h-7zM772 1723h8v7h-8zM736 1730h15v7h-15zM721 1737h15v8h-15zM787 1737h7v8h-7zM794 1745h8v7h-8zM794 1752h15v7h-15zM743 1759h15v7h-15zM809 1759h7v7h-7zM743 1766h15v8h-15zM816 1774h8v7h-8zM685 1818h7v7h-7zM751 1912h7v8h-7z"/>
<path fill="#009BBC" d="M765 1708h7v7h-7zM765 1715h7v8h-7zM816 1766h8v8h-8z"/>
<path fill="#00C2A8" d="M758 1715h7v8h-7zM765 1723h7v7h-7zM729 1730h7v7h-7zM809 1766h7v8h-7zM678 1818h7v7h-7zM685 1825h7v7h-7zM787 1891h7v7h-7z"/></g></g>
<g filter="url(#soft)"><g shape-rendering="crispEdges"><path fill="#E0F290" d="M1274 1555h8v7h-8zM1303 1569h8v8h-8zM1223 1577h7v7h-7zM1296 1577h7v7h-7zM1223 1584h15v7h-15zM1245 1591h15v8h-15zM1296 1591h7v8h-7zM1150 1599h7v7h-7zM1187 1599h7v7h-7zM1252 1599h30v7h-30zM1179 1606h8v7h-8zM1238 1606h7v7h-7zM1296 1606h7v7h-7zM1223 1635h7v7h-7zM1260 1635h14v7h-14zM1216 1642h7v8h-7zM1311 1642h7v8h-7zM1004 1650h7v7h-7zM1216 1650h7v7h-7zM1216 1657h14v7h-14zM1245 1657h7v7h-7zM1282 1657h29v7h-29zM1114 1664h7v8h-7zM1238 1664h7v8h-7zM1282 1664h7v8h-7zM1296 1664h15v8h-15zM1238 1672h7v7h-7zM1296 1672h7v7h-7zM1333 1672h7v7h-7zM1223 1679h7v7h-7zM1238 1679h7v7h-7zM1099 1686h15v8h-15zM1179 1686h8v8h-8zM1194 1686h14v8h-14zM1136 1694h14v7h-14zM1194 1694h7v7h-7zM1238 1694h7v7h-7zM1172 1701h7v7h-7zM1187 1701h7v7h-7zM1179 1708h8v7h-8zM1230 1708h8v7h-8zM1340 1715h7v8h-7zM1216 1723h7v7h-7zM1333 1723h7v7h-7zM1165 1730h7v7h-7zM1201 1730h7v7h-7zM1340 1730h7v7h-7zM1274 1737h8v8h-8zM1136 1745h7v7h-7zM1201 1745h7v7h-7zM1216 1745h7v7h-7zM1274 1745h15v7h-15zM1194 1752h14v7h-14zM1252 1752h8v7h-8zM1194 1774h7v7h-7zM1252 1774h8v7h-8zM1216 1781h7v7h-7zM1201 1788h15v8h-15zM1260 1788h7v8h-7zM1274 1788h8v8h-8zM1289 1788h7v8h-7zM1362 1788h7v8h-7zM1274 1796h8v7h-8zM1230 1803h8v7h-8zM1252 1803h22v7h-22zM1311 1803h14v7h-14zM1230 1810h15v8h-15zM1318 1810h15v8h-15zM1267 1818h7v7h-7zM1260 1825h7v7h-7zM1252 1832h22v8h-22zM1282 1832h7v8h-7zM1282 1847h7v7h-7zM1216 1898h7v7h-7z"/>
<path fill="#F4F8A8" d="M1282 1555h7v7h-7zM1230 1569h8v8h-8zM1260 1569h7v8h-7zM1274 1577h8v7h-8zM1303 1577h8v7h-8zM1201 1584h7v7h-7zM1238 1584h7v7h-7zM1252 1584h8v7h-8zM1172 1591h22v8h-22zM1223 1591h7v8h-7zM1238 1591h7v8h-7zM1267 1591h7v8h-7zM1311 1591h7v8h-7zM1296 1599h22v7h-22zM1143 1606h36v7h-36zM1208 1606h8v7h-8zM1252 1606h8v7h-8zM1274 1606h8v7h-8zM1143 1613h7v7h-7zM1216 1613h14v7h-14zM1238 1613h7v7h-7zM1267 1613h7v7h-7zM1303 1613h8v7h-8zM1143 1620h14v8h-14zM1208 1620h8v8h-8zM1238 1620h14v8h-14zM1143 1628h7v7h-7zM1303 1628h8v7h-8zM1143 1635h7v7h-7zM1245 1635h7v7h-7zM1311 1635h7v7h-7zM1325 1635h8v7h-8zM1208 1642h8v8h-8zM1223 1642h7v8h-7zM1289 1642h7v8h-7zM1136 1650h7v7h-7zM1187 1650h7v7h-7zM1223 1650h7v7h-7zM1238 1650h14v7h-14zM1260 1650h7v7h-7zM1282 1650h14v7h-14zM1179 1657h8v7h-8zM1208 1657h8v7h-8zM1238 1657h7v7h-7zM1136 1664h7v8h-7zM1245 1664h7v8h-7zM1274 1664h8v8h-8zM1318 1664h7v8h-7zM1333 1664h7v8h-7zM1106 1672h8v7h-8zM1121 1672h7v7h-7zM1230 1672h8v7h-8zM1267 1672h7v7h-7zM1282 1672h7v7h-7zM1303 1672h8v7h-8zM1325 1672h8v7h-8zM1114 1679h7v7h-7zM1143 1679h7v7h-7zM1179 1679h8v7h-8zM1194 1679h29v7h-29zM1230 1679h8v7h-8zM1274 1679h15v7h-15zM1296 1679h15v7h-15zM1150 1686h7v8h-7zM1172 1686h7v8h-7zM1216 1686h7v8h-7zM1230 1686h8v8h-8zM1179 1694h8v7h-8zM1267 1694h15v7h-15zM1165 1701h7v7h-7zM1179 1701h8v7h-8zM1201 1701h7v7h-7zM1238 1701h7v7h-7zM1267 1701h7v7h-7zM1143 1708h7v7h-7zM1172 1708h7v7h-7zM1187 1708h14v7h-14zM1165 1715h7v8h-7zM1223 1715h7v8h-7zM1238 1715h14v8h-14zM1318 1715h7v8h-7zM1333 1715h7v8h-7zM1136 1730h14v7h-14zM1157 1730h8v7h-8zM1245 1730h7v7h-7zM1136 1737h7v8h-7zM1194 1737h7v8h-7zM1208 1737h8v8h-8zM1230 1737h15v8h-15zM1260 1737h7v8h-7zM1282 1737h7v8h-7zM1340 1737h7v8h-7zM1187 1745h7v7h-7zM1245 1745h15v7h-15zM1267 1745h7v7h-7zM1289 1745h7v7h-7zM1260 1752h7v7h-7zM1311 1752h7v7h-7zM1201 1759h7v7h-7zM1260 1766h7v8h-7zM1274 1766h8v8h-8zM1325 1766h8v8h-8zM1230 1781h8v7h-8zM1260 1781h22v7h-22zM1340 1781h7v7h-7zM1238 1788h7v8h-7zM1318 1788h7v8h-7zM1347 1788h7v8h-7zM1223 1796h7v7h-7zM1238 1796h7v7h-7zM1252 1796h8v7h-8zM1282 1796h7v7h-7zM1303 1796h8v7h-8zM1325 1796h8v7h-8zM1223 1803h7v7h-7zM1238 1803h14v7h-14zM1252 1810h8v8h-8zM1267 1810h7v8h-7zM1311 1810h7v8h-7zM1333 1810h7v8h-7zM1311 1818h7v7h-7zM1325 1818h8v7h-8zM1223 1825h7v7h-7zM1238 1825h7v7h-7zM1267 1825h7v7h-7zM1274 1832h8v8h-8zM1303 1832h8v8h-8zM1274 1840h8v7h-8zM1208 1854h8v7h-8zM1274 1854h8v7h-8zM1245 1861h15v8h-15zM1267 1861h15v8h-15zM1208 1883h8v8h-8zM1208 1891h8v7h-8z"/>
<path fill="#FE6C40" d="M1289 1555h7v7h-7zM1282 1562h14v7h-14zM1282 1569h7v8h-7zM1282 1577h7v7h-7zM1282 1584h7v7h-7zM1128 1620h8v8h-8zM1114 1628h7v7h-7zM1136 1628h7v7h-7zM1055 1635h7v7h-7zM1048 1642h7v8h-7zM1062 1642h15v8h-15zM1026 1650h36v7h-36zM1070 1650h7v7h-7zM1084 1650h15v7h-15zM1041 1657h7v7h-7zM1062 1657h15v7h-15zM1084 1657h30v7h-30zM1004 1664h7v8h-7zM1019 1664h14v8h-14zM1041 1664h29v8h-29zM1077 1664h15v8h-15zM1099 1664h7v8h-7zM1011 1672h8v7h-8zM1062 1672h8v7h-8zM1077 1672h7v7h-7zM1252 1672h8v7h-8zM1004 1679h22v7h-22zM1070 1679h7v7h-7zM1084 1679h8v7h-8zM1252 1679h8v7h-8zM1062 1686h8v8h-8zM1077 1686h15v8h-15zM1011 1694h8v7h-8zM1011 1701h30v7h-30zM1048 1701h14v7h-14zM1252 1701h8v7h-8zM1011 1708h8v7h-8zM1026 1708h7v7h-7zM1048 1708h22v7h-22zM1026 1715h22v8h-22zM1055 1715h22v8h-22zM1296 1715h7v8h-7zM1019 1723h29v7h-29zM1062 1723h15v7h-15zM1033 1730h8v7h-8zM1048 1730h7v7h-7zM1062 1730h22v7h-22zM1325 1730h8v7h-8zM1033 1737h8v8h-8zM1303 1737h8v8h-8zM1333 1737h7v8h-7zM1340 1745h7v7h-7zM1179 1752h8v7h-8zM1340 1752h7v7h-7zM1106 1759h8v7h-8zM1150 1759h15v7h-15zM1333 1759h7v7h-7zM1354 1759h8v7h-8zM1114 1766h7v8h-7zM1340 1766h14v8h-14zM1369 1766h7v8h-7zM1099 1774h22v7h-22zM1136 1774h14v7h-14zM1187 1774h7v7h-7zM1099 1781h29v7h-29zM1143 1781h7v7h-7zM1354 1781h8v7h-8zM1121 1796h7v7h-7zM1114 1803h7v7h-7zM1187 1803h7v7h-7zM1289 1803h7v7h-7zM1114 1810h7v8h-7zM1157 1810h15v8h-15zM1187 1810h7v8h-7zM1282 1810h7v8h-7zM1303 1810h8v8h-8zM1165 1818h7v7h-7zM1194 1818h7v7h-7zM1274 1818h8v7h-8zM1282 1825h7v7h-7zM1303 1825h8v7h-8zM1187 1832h14v8h-14zM1150 1847h7v7h-7zM1179 1854h8v7h-8zM1165 1876h7v7h-7zM1157 1883h8v8h-8zM1179 1883h8v8h-8zM1157 1898h8v7h-8zM1150 1905h7v7h-7zM1136 1912h14v8h-14zM1165 1912h7v8h-7zM1179 1912h8v8h-8zM1136 1920h7v7h-7zM1165 1920h7v7h-7zM1114 1927h7v7h-7z"/>
<path fill="#FEF0A0" d="M1296 1555h7v7h-7zM1252 1562h8v7h-8zM1274 1562h8v7h-8zM1238 1569h14v8h-14zM1274 1569h8v8h-8zM1245 1577h7v7h-7zM1260 1577h7v7h-7zM1260 1584h7v7h-7zM1274 1584h8v7h-8zM1303 1584h8v7h-8zM1230 1591h8v8h-8zM1274 1591h8v8h-8zM1303 1591h8v8h-8zM1157 1599h30v7h-30zM1194 1599h7v7h-7zM1223 1599h7v7h-7zM1245 1599h7v7h-7zM1201 1606h7v7h-7zM1223 1606h7v7h-7zM1260 1606h7v7h-7zM1303 1606h8v7h-8zM1165 1613h7v7h-7zM1282 1613h14v7h-14zM1216 1620h22v8h-22zM1274 1620h8v8h-8zM1296 1620h7v8h-7zM1150 1628h7v7h-7zM1187 1628h7v7h-7zM1201 1628h7v7h-7zM1223 1628h7v7h-7zM1245 1628h15v7h-15zM1311 1628h7v7h-7zM1179 1635h8v7h-8zM1194 1635h7v7h-7zM1208 1635h8v7h-8zM1303 1635h8v7h-8zM1318 1635h7v7h-7zM1026 1642h7v8h-7zM1143 1642h7v8h-7zM1179 1642h8v8h-8zM1201 1642h7v8h-7zM1238 1642h14v8h-14zM1267 1642h7v8h-7zM1282 1642h7v8h-7zM1157 1650h8v7h-8zM1179 1650h8v7h-8zM1208 1650h8v7h-8zM1230 1650h8v7h-8zM1267 1650h15v7h-15zM1165 1657h7v7h-7zM1201 1657h7v7h-7zM1230 1657h8v7h-8zM1318 1657h15v7h-15zM1216 1664h14v8h-14zM1289 1664h7v8h-7zM1099 1672h7v7h-7zM1136 1672h7v7h-7zM1179 1672h22v7h-22zM1223 1672h7v7h-7zM1106 1679h8v7h-8zM1128 1679h15v7h-15zM1150 1679h7v7h-7zM1165 1679h7v7h-7zM1318 1679h7v7h-7zM1143 1686h7v8h-7zM1208 1686h8v8h-8zM1274 1686h8v8h-8zM1289 1686h7v8h-7zM1303 1686h8v8h-8zM1325 1686h8v8h-8zM1077 1694h15v7h-15zM1099 1694h7v7h-7zM1121 1694h7v7h-7zM1172 1694h7v7h-7zM1187 1694h7v7h-7zM1230 1694h8v7h-8zM1260 1694h7v7h-7zM1318 1694h7v7h-7zM1114 1701h14v7h-14zM1136 1701h14v7h-14zM1208 1701h8v7h-8zM1121 1708h7v7h-7zM1136 1708h7v7h-7zM1150 1708h22v7h-22zM1311 1708h14v7h-14zM1333 1708h14v7h-14zM1187 1715h7v8h-7zM1216 1715h7v8h-7zM1252 1715h15v8h-15zM1106 1723h8v7h-8zM1230 1723h8v7h-8zM1340 1723h7v7h-7zM1092 1730h7v7h-7zM1114 1730h7v7h-7zM1187 1730h14v7h-14zM1252 1730h15v7h-15zM1333 1730h7v7h-7zM1077 1737h22v8h-22zM1179 1737h15v8h-15zM1245 1737h7v8h-7zM1289 1737h7v8h-7zM1150 1745h7v7h-7zM1165 1745h7v7h-7zM1208 1745h8v7h-8zM1238 1745h7v7h-7zM1260 1745h7v7h-7zM1296 1745h15v7h-15zM1208 1752h8v7h-8zM1362 1752h7v7h-7zM1194 1759h7v7h-7zM1260 1759h7v7h-7zM1311 1759h7v7h-7zM1194 1766h22v8h-22zM1230 1766h8v8h-8zM1267 1766h7v8h-7zM1216 1774h7v7h-7zM1267 1774h22v7h-22zM1303 1774h8v7h-8zM1179 1781h8v7h-8zM1201 1781h15v7h-15zM1245 1781h15v7h-15zM1318 1781h7v7h-7zM1157 1788h8v8h-8zM1172 1788h29v8h-29zM1230 1788h8v8h-8zM1303 1788h8v8h-8zM1333 1788h7v8h-7zM1194 1796h14v7h-14zM1216 1796h7v7h-7zM1230 1796h8v7h-8zM1245 1796h7v7h-7zM1260 1796h14v7h-14zM1289 1796h7v7h-7zM1311 1796h7v7h-7zM1143 1803h7v7h-7zM1165 1803h7v7h-7zM1274 1803h8v7h-8zM1303 1803h8v7h-8zM1333 1803h7v7h-7zM1347 1803h7v7h-7zM1128 1810h8v8h-8zM1143 1810h7v8h-7zM1216 1810h7v8h-7zM1245 1810h7v8h-7zM1201 1818h7v7h-7zM1245 1818h15v7h-15zM1318 1818h7v7h-7zM1128 1825h8v7h-8zM1165 1825h7v7h-7zM1208 1825h8v7h-8zM1245 1825h15v7h-15zM1121 1832h7v8h-7zM1165 1832h7v8h-7zM1201 1832h7v8h-7zM1311 1832h7v8h-7zM1208 1840h8v7h-8zM1230 1840h8v7h-8zM1282 1840h7v7h-7zM1296 1840h15v7h-15zM1194 1847h7v7h-7zM1252 1847h8v7h-8zM1238 1854h7v7h-7zM1267 1854h7v7h-7zM1282 1854h7v7h-7zM1150 1861h7v8h-7zM1187 1861h7v8h-7zM1208 1861h8v8h-8zM1223 1861h15v8h-15zM1143 1869h14v7h-14zM1230 1869h8v7h-8zM1252 1869h8v7h-8zM1201 1876h7v7h-7zM1223 1876h7v7h-7zM1238 1876h14v7h-14zM1194 1883h7v8h-7zM1238 1883h7v8h-7zM1201 1891h7v7h-7zM1216 1891h7v7h-7zM1230 1891h8v7h-8zM1150 1898h7v7h-7zM1179 1898h15v7h-15zM1208 1898h8v7h-8zM1172 1905h22v7h-22zM1150 1912h7v8h-7zM1121 1920h15v7h-15zM1143 1920h7v7h-7zM1143 1927h14v7h-14z"/>
<path fill="#FEDC80" d="M1260 1562h7v7h-7zM1252 1569h8v8h-8zM1296 1569h7v8h-7zM1216 1577h7v7h-7zM1238 1577h7v7h-7zM1267 1577h7v7h-7zM1194 1584h7v7h-7zM1208 1584h15v7h-15zM1245 1584h7v7h-7zM1201 1591h22v8h-22zM1282 1591h7v8h-7zM1208 1599h15v7h-15zM1230 1599h15v7h-15zM1289 1599h7v7h-7zM1187 1606h7v7h-7zM1230 1606h8v7h-8zM1267 1606h7v7h-7zM1150 1613h7v7h-7zM1187 1613h21v7h-21zM1245 1613h7v7h-7zM1260 1613h7v7h-7zM1157 1620h15v8h-15zM1179 1620h8v8h-8zM1201 1620h7v8h-7zM1282 1620h7v8h-7zM1303 1620h8v8h-8zM1077 1628h15v7h-15zM1179 1628h8v7h-8zM1216 1628h7v7h-7zM1296 1628h7v7h-7zM1099 1635h7v7h-7zM1172 1635h7v7h-7zM1216 1635h7v7h-7zM1252 1635h8v7h-8zM1033 1642h8v8h-8zM1106 1642h22v8h-22zM1157 1642h8v8h-8zM1230 1642h8v8h-8zM1252 1642h15v8h-15zM1274 1642h8v8h-8zM1011 1650h8v7h-8zM1172 1650h7v7h-7zM1201 1650h7v7h-7zM1128 1657h15v7h-15zM1157 1657h8v7h-8zM1172 1657h7v7h-7zM1194 1657h7v7h-7zM1252 1657h15v7h-15zM1311 1657h7v7h-7zM1333 1657h7v7h-7zM1106 1664h8v8h-8zM1121 1664h7v8h-7zM1157 1664h15v8h-15zM1201 1664h15v8h-15zM1230 1664h8v8h-8zM1252 1664h15v8h-15zM1114 1672h7v7h-7zM1150 1672h7v7h-7zM1208 1672h8v7h-8zM1260 1672h7v7h-7zM1289 1672h7v7h-7zM1318 1672h7v7h-7zM1099 1679h7v7h-7zM1187 1679h7v7h-7zM1267 1679h7v7h-7zM1289 1679h7v7h-7zM1311 1679h7v7h-7zM1333 1679h7v7h-7zM1136 1686h7v8h-7zM1187 1686h7v8h-7zM1223 1686h7v8h-7zM1238 1686h7v8h-7zM1260 1686h14v8h-14zM1296 1686h7v8h-7zM1333 1686h7v8h-7zM1201 1694h7v7h-7zM1216 1694h14v7h-14zM1289 1694h14v7h-14zM1092 1701h14v7h-14zM1150 1701h7v7h-7zM1194 1701h7v7h-7zM1245 1701h7v7h-7zM1260 1701h7v7h-7zM1274 1701h15v7h-15zM1311 1701h22v7h-22zM1077 1708h7v7h-7zM1106 1708h15v7h-15zM1128 1708h8v7h-8zM1208 1708h8v7h-8zM1223 1708h7v7h-7zM1238 1708h7v7h-7zM1296 1708h7v7h-7zM1092 1715h7v8h-7zM1114 1715h7v8h-7zM1128 1715h8v8h-8zM1143 1715h7v8h-7zM1157 1715h8v8h-8zM1179 1715h8v8h-8zM1282 1715h7v8h-7zM1077 1723h7v7h-7zM1092 1723h7v7h-7zM1121 1723h22v7h-22zM1150 1723h15v7h-15zM1252 1723h8v7h-8zM1289 1723h7v7h-7zM1099 1730h7v7h-7zM1150 1730h7v7h-7zM1223 1730h7v7h-7zM1238 1730h7v7h-7zM1274 1730h8v7h-8zM1354 1730h8v7h-8zM1099 1737h22v8h-22zM1128 1737h8v8h-8zM1143 1737h7v8h-7zM1201 1737h7v8h-7zM1267 1737h7v8h-7zM1296 1737h7v8h-7zM1354 1737h8v8h-8zM1084 1745h15v7h-15zM1128 1745h8v7h-8zM1179 1745h8v7h-8zM1194 1745h7v7h-7zM1347 1745h7v7h-7zM1084 1752h8v7h-8zM1187 1752h7v7h-7zM1245 1752h7v7h-7zM1267 1752h7v7h-7zM1289 1752h7v7h-7zM1121 1759h7v7h-7zM1252 1759h8v7h-8zM1282 1759h7v7h-7zM1128 1766h8v8h-8zM1157 1766h15v8h-15zM1223 1766h7v8h-7zM1121 1774h7v7h-7zM1179 1774h8v7h-8zM1201 1774h15v7h-15zM1223 1774h7v7h-7zM1245 1774h7v7h-7zM1325 1774h15v7h-15zM1157 1781h15v7h-15zM1194 1781h7v7h-7zM1238 1781h7v7h-7zM1282 1781h7v7h-7zM1296 1781h7v7h-7zM1333 1781h7v7h-7zM1347 1781h7v7h-7zM1143 1788h7v8h-7zM1216 1788h7v8h-7zM1245 1788h7v8h-7zM1267 1788h7v8h-7zM1282 1788h7v8h-7zM1296 1788h7v8h-7zM1325 1788h8v8h-8zM1354 1788h8v8h-8zM1143 1796h7v7h-7zM1157 1796h8v7h-8zM1208 1796h8v7h-8zM1347 1796h15v7h-15zM1106 1803h8v7h-8zM1201 1803h15v7h-15zM1260 1810h7v8h-7zM1340 1810h14v8h-14zM1128 1818h8v7h-8zM1150 1818h7v7h-7zM1238 1818h7v7h-7zM1260 1818h7v7h-7zM1333 1818h7v7h-7zM1274 1825h8v7h-8zM1311 1825h14v7h-14zM1179 1832h8v8h-8zM1208 1832h8v8h-8zM1223 1832h7v8h-7zM1128 1840h8v7h-8zM1150 1840h7v7h-7zM1201 1840h7v7h-7zM1245 1840h22v7h-22zM1289 1840h7v7h-7zM1165 1847h7v7h-7zM1179 1847h8v7h-8zM1208 1847h15v7h-15zM1267 1847h15v7h-15zM1289 1847h7v7h-7zM1136 1854h14v7h-14zM1172 1854h7v7h-7zM1201 1854h7v7h-7zM1216 1854h14v7h-14zM1260 1854h7v7h-7zM1157 1861h8v8h-8zM1172 1861h7v8h-7zM1216 1861h7v8h-7zM1157 1869h8v7h-8zM1179 1869h15v7h-15zM1179 1876h15v7h-15zM1230 1876h8v7h-8zM1150 1883h7v8h-7zM1150 1891h7v7h-7zM1187 1891h14v7h-14zM1187 1912h7v8h-7z"/>
<path fill="#FEBC68" d="M1267 1562h7v7h-7zM1296 1562h7v7h-7zM1267 1569h7v8h-7zM1230 1577h8v7h-8zM1267 1584h7v7h-7zM1296 1584h7v7h-7zM1194 1591h7v8h-7zM1260 1591h7v8h-7zM1201 1599h7v7h-7zM1282 1599h7v7h-7zM1194 1606h7v7h-7zM1216 1606h7v7h-7zM1245 1606h7v7h-7zM1289 1606h7v7h-7zM1311 1606h7v7h-7zM1114 1613h7v7h-7zM1128 1613h15v7h-15zM1157 1613h8v7h-8zM1230 1613h8v7h-8zM1252 1613h8v7h-8zM1318 1613h7v7h-7zM1092 1620h36v8h-36zM1136 1620h7v8h-7zM1172 1620h7v8h-7zM1194 1620h7v8h-7zM1260 1620h14v8h-14zM1311 1620h7v8h-7zM1092 1628h7v7h-7zM1128 1628h8v7h-8zM1157 1628h15v7h-15zM1208 1628h8v7h-8zM1230 1628h15v7h-15zM1260 1628h14v7h-14zM1318 1628h7v7h-7zM1062 1635h37v7h-37zM1106 1635h30v7h-30zM1201 1635h7v7h-7zM1230 1635h15v7h-15zM1274 1635h8v7h-8zM1055 1642h7v8h-7zM1077 1642h29v8h-29zM1128 1642h8v8h-8zM1150 1642h7v8h-7zM1296 1642h15v8h-15zM1318 1642h15v8h-15zM1019 1650h7v7h-7zM1062 1650h8v7h-8zM1106 1650h15v7h-15zM1128 1650h8v7h-8zM1150 1650h7v7h-7zM1165 1650h7v7h-7zM1252 1650h8v7h-8zM1296 1650h15v7h-15zM1318 1650h7v7h-7zM997 1657h29v7h-29zM1055 1657h7v7h-7zM1121 1657h7v7h-7zM1143 1657h14v7h-14zM1187 1657h7v7h-7zM1267 1657h15v7h-15zM1011 1664h8v8h-8zM1070 1664h7v8h-7zM1128 1664h8v8h-8zM1143 1664h14v8h-14zM1172 1664h7v8h-7zM1267 1664h7v8h-7zM1311 1664h7v8h-7zM1004 1672h7v7h-7zM1143 1672h7v7h-7zM1157 1672h8v7h-8zM1172 1672h7v7h-7zM1201 1672h7v7h-7zM1216 1672h7v7h-7zM1245 1672h7v7h-7zM1274 1672h8v7h-8zM1311 1672h7v7h-7zM1121 1679h7v7h-7zM1172 1679h7v7h-7zM1260 1679h7v7h-7zM1325 1679h8v7h-8zM1114 1686h22v8h-22zM1157 1686h15v8h-15zM1245 1686h7v8h-7zM1282 1686h7v8h-7zM1340 1686h7v8h-7zM1092 1694h7v7h-7zM1106 1694h15v7h-15zM1208 1694h8v7h-8zM1252 1694h8v7h-8zM1282 1694h7v7h-7zM1077 1701h15v7h-15zM1128 1701h8v7h-8zM1157 1701h8v7h-8zM1216 1701h22v7h-22zM1289 1701h14v7h-14zM1333 1701h14v7h-14zM1216 1708h7v7h-7zM1245 1708h22v7h-22zM1274 1708h22v7h-22zM1325 1708h8v7h-8zM1019 1715h7v8h-7zM1077 1715h15v8h-15zM1099 1715h15v8h-15zM1121 1715h7v8h-7zM1150 1715h7v8h-7zM1172 1715h7v8h-7zM1230 1715h8v8h-8zM1289 1715h7v8h-7zM1325 1715h8v8h-8zM1084 1723h8v7h-8zM1099 1723h7v7h-7zM1114 1723h7v7h-7zM1143 1723h7v7h-7zM1172 1723h7v7h-7zM1223 1723h7v7h-7zM1238 1723h14v7h-14zM1260 1723h7v7h-7zM1318 1723h15v7h-15zM1347 1723h15v7h-15zM1084 1730h8v7h-8zM1106 1730h8v7h-8zM1128 1730h8v7h-8zM1230 1730h8v7h-8zM1282 1730h7v7h-7zM1347 1730h7v7h-7zM1150 1737h7v8h-7zM1347 1737h7v8h-7zM1099 1745h7v7h-7zM1114 1745h14v7h-14zM1143 1745h7v7h-7zM1157 1745h8v7h-8zM1333 1745h7v7h-7zM1354 1745h15v7h-15zM1099 1752h7v7h-7zM1114 1752h7v7h-7zM1128 1752h8v7h-8zM1143 1752h14v7h-14zM1223 1752h7v7h-7zM1274 1752h15v7h-15zM1296 1752h7v7h-7zM1354 1752h8v7h-8zM1099 1759h7v7h-7zM1128 1759h8v7h-8zM1165 1759h7v7h-7zM1187 1759h7v7h-7zM1223 1759h15v7h-15zM1267 1759h15v7h-15zM1289 1759h7v7h-7zM1318 1759h7v7h-7zM1362 1759h7v7h-7zM1092 1766h7v8h-7zM1121 1766h7v8h-7zM1143 1766h14v8h-14zM1172 1766h7v8h-7zM1187 1766h7v8h-7zM1238 1766h7v8h-7zM1303 1766h8v8h-8zM1318 1766h7v8h-7zM1128 1774h8v7h-8zM1150 1774h15v7h-15zM1172 1774h7v7h-7zM1260 1774h7v7h-7zM1289 1774h14v7h-14zM1311 1774h14v7h-14zM1340 1774h7v7h-7zM1369 1774h7v7h-7zM1136 1781h7v7h-7zM1223 1781h7v7h-7zM1289 1781h7v7h-7zM1325 1781h8v7h-8zM1362 1781h7v7h-7zM1114 1788h7v8h-7zM1136 1788h7v8h-7zM1150 1788h7v8h-7zM1165 1788h7v8h-7zM1223 1788h7v8h-7zM1252 1788h8v8h-8zM1311 1788h7v8h-7zM1114 1796h7v7h-7zM1165 1796h7v7h-7zM1179 1796h8v7h-8zM1296 1796h7v7h-7zM1318 1796h7v7h-7zM1340 1796h7v7h-7zM1128 1803h15v7h-15zM1150 1803h7v7h-7zM1179 1803h8v7h-8zM1282 1803h7v7h-7zM1325 1803h8v7h-8zM1340 1803h7v7h-7zM1208 1810h8v8h-8zM1274 1810h8v8h-8zM1121 1818h7v7h-7zM1136 1818h14v7h-14zM1187 1818h7v7h-7zM1216 1818h22v7h-22zM1136 1825h14v7h-14zM1157 1825h8v7h-8zM1179 1825h8v7h-8zM1194 1825h14v7h-14zM1230 1825h8v7h-8zM1136 1832h7v8h-7zM1150 1832h7v8h-7zM1172 1832h7v8h-7zM1216 1832h7v8h-7zM1238 1832h14v8h-14zM1289 1832h14v8h-14zM1121 1840h7v7h-7zM1136 1840h7v7h-7zM1157 1840h15v7h-15zM1194 1840h7v7h-7zM1267 1840h7v7h-7zM1136 1847h7v7h-7zM1157 1847h8v7h-8zM1172 1847h7v7h-7zM1187 1847h7v7h-7zM1245 1847h7v7h-7zM1260 1847h7v7h-7zM1165 1854h7v7h-7zM1194 1854h7v7h-7zM1230 1854h8v7h-8zM1245 1854h15v7h-15zM1136 1861h14v8h-14zM1194 1861h7v8h-7zM1165 1869h14v7h-14zM1201 1869h7v7h-7zM1216 1869h14v7h-14zM1238 1869h14v7h-14zM1150 1876h7v7h-7zM1172 1876h7v7h-7zM1194 1876h7v7h-7zM1208 1876h8v7h-8zM1143 1883h7v8h-7zM1172 1883h7v8h-7zM1201 1883h7v8h-7zM1216 1883h7v8h-7zM1179 1891h8v7h-8zM1172 1898h7v7h-7zM1157 1905h15v7h-15zM1201 1905h7v7h-7zM1157 1912h8v8h-8zM1121 1927h7v7h-7zM1136 1927h7v7h-7zM1136 1934h7v8h-7zM1121 1942h7v7h-7z"/>
<path fill="#FE9650" d="M1289 1569h7v8h-7zM1252 1577h8v7h-8zM1289 1577h7v7h-7zM1289 1584h7v7h-7zM1289 1591h7v8h-7zM1128 1606h15v7h-15zM1282 1606h7v7h-7zM1121 1613h7v7h-7zM1172 1613h15v7h-15zM1208 1613h8v7h-8zM1274 1613h8v7h-8zM1296 1613h7v7h-7zM1311 1613h7v7h-7zM1187 1620h7v8h-7zM1252 1620h8v8h-8zM1289 1620h7v8h-7zM1318 1620h7v8h-7zM1070 1628h7v7h-7zM1099 1628h15v7h-15zM1121 1628h7v7h-7zM1172 1628h7v7h-7zM1194 1628h7v7h-7zM1274 1628h22v7h-22zM1048 1635h7v7h-7zM1136 1635h7v7h-7zM1150 1635h22v7h-22zM1187 1635h7v7h-7zM1282 1635h21v7h-21zM1136 1642h7v8h-7zM1165 1642h14v8h-14zM1187 1642h14v8h-14zM1099 1650h7v7h-7zM1121 1650h7v7h-7zM1143 1650h7v7h-7zM1194 1650h7v7h-7zM1311 1650h7v7h-7zM1325 1650h8v7h-8zM1026 1657h15v7h-15zM1048 1657h7v7h-7zM1077 1657h7v7h-7zM1114 1657h7v7h-7zM997 1664h7v8h-7zM1033 1664h8v8h-8zM1092 1664h7v8h-7zM1179 1664h22v8h-22zM1325 1664h8v8h-8zM1128 1672h8v7h-8zM1165 1672h7v7h-7zM1157 1679h8v7h-8zM1245 1679h7v7h-7zM1252 1686h8v8h-8zM1311 1686h14v8h-14zM1245 1694h7v7h-7zM1303 1694h15v7h-15zM1325 1694h22v7h-22zM1062 1701h15v7h-15zM1106 1701h8v7h-8zM1303 1701h8v7h-8zM1070 1708h7v7h-7zM1084 1708h22v7h-22zM1267 1708h7v7h-7zM1303 1708h8v7h-8zM1347 1708h7v7h-7zM1048 1715h7v8h-7zM1136 1715h7v8h-7zM1267 1715h15v8h-15zM1311 1715h7v8h-7zM1347 1715h7v8h-7zM1055 1723h7v7h-7zM1165 1723h7v7h-7zM1267 1723h22v7h-22zM1296 1723h22v7h-22zM1026 1730h7v7h-7zM1121 1730h7v7h-7zM1267 1730h7v7h-7zM1289 1730h7v7h-7zM1303 1730h8v7h-8zM1318 1730h7v7h-7zM1041 1737h7v8h-7zM1121 1737h7v8h-7zM1172 1737h7v8h-7zM1252 1737h8v8h-8zM1325 1737h8v8h-8zM1106 1745h8v7h-8zM1172 1745h7v7h-7zM1311 1745h7v7h-7zM1092 1752h7v7h-7zM1106 1752h8v7h-8zM1121 1752h7v7h-7zM1136 1752h7v7h-7zM1157 1752h22v7h-22zM1216 1752h7v7h-7zM1303 1752h8v7h-8zM1318 1752h15v7h-15zM1347 1752h7v7h-7zM1092 1759h7v7h-7zM1114 1759h7v7h-7zM1136 1759h14v7h-14zM1172 1759h15v7h-15zM1208 1759h15v7h-15zM1296 1759h15v7h-15zM1325 1759h8v7h-8zM1099 1766h15v8h-15zM1136 1766h7v8h-7zM1179 1766h8v8h-8zM1216 1766h7v8h-7zM1282 1766h21v8h-21zM1311 1766h7v8h-7zM1333 1766h7v8h-7zM1362 1766h7v8h-7zM1165 1774h7v7h-7zM1230 1774h15v7h-15zM1347 1774h22v7h-22zM1128 1781h8v7h-8zM1150 1781h7v7h-7zM1172 1781h7v7h-7zM1187 1781h7v7h-7zM1303 1781h15v7h-15zM1369 1781h7v7h-7zM1106 1788h8v8h-8zM1121 1788h15v8h-15zM1340 1788h7v8h-7zM1106 1796h8v7h-8zM1128 1796h15v7h-15zM1150 1796h7v7h-7zM1172 1796h7v7h-7zM1187 1796h7v7h-7zM1333 1796h7v7h-7zM1121 1803h7v7h-7zM1157 1803h8v7h-8zM1172 1803h7v7h-7zM1194 1803h7v7h-7zM1216 1803h7v7h-7zM1121 1810h7v8h-7zM1136 1810h7v8h-7zM1150 1810h7v8h-7zM1172 1810h15v8h-15zM1194 1810h14v8h-14zM1223 1810h7v8h-7zM1114 1818h7v7h-7zM1157 1818h8v7h-8zM1172 1818h15v7h-15zM1208 1818h8v7h-8zM1282 1818h7v7h-7zM1121 1825h7v7h-7zM1150 1825h7v7h-7zM1172 1825h7v7h-7zM1187 1825h7v7h-7zM1216 1825h7v7h-7zM1296 1825h7v7h-7zM1128 1832h8v8h-8zM1143 1832h7v8h-7zM1157 1832h8v8h-8zM1230 1832h8v8h-8zM1143 1840h7v7h-7zM1172 1840h22v7h-22zM1216 1840h14v7h-14zM1238 1840h7v7h-7zM1128 1847h8v7h-8zM1143 1847h7v7h-7zM1201 1847h7v7h-7zM1223 1847h22v7h-22zM1150 1854h15v7h-15zM1187 1854h7v7h-7zM1165 1861h7v8h-7zM1179 1861h8v8h-8zM1201 1861h7v8h-7zM1238 1861h7v8h-7zM1260 1861h7v8h-7zM1194 1869h7v7h-7zM1208 1869h8v7h-8zM1143 1876h7v7h-7zM1157 1876h8v7h-8zM1216 1876h7v7h-7zM1165 1883h7v8h-7zM1187 1883h7v8h-7zM1223 1883h15v8h-15zM1157 1891h22v7h-22zM1165 1898h7v7h-7zM1194 1898h14v7h-14zM1194 1905h7v7h-7zM1172 1912h7v8h-7zM1150 1920h15v7h-15zM1128 1927h8v7h-8zM1114 1934h22v8h-22zM1114 1942h7v7h-7z"/>
<path fill="#FE4A48" d="M1041 1642h7v8h-7zM1077 1650h7v7h-7zM1019 1672h7v7h-7zM1041 1672h21v7h-21zM1070 1672h7v7h-7zM1062 1679h8v7h-8zM1077 1679h7v7h-7zM1092 1679h7v7h-7zM1011 1686h22v8h-22zM1041 1686h21v8h-21zM1070 1686h7v8h-7zM1092 1686h7v8h-7zM1019 1694h7v7h-7zM1033 1694h15v7h-15zM1055 1694h22v7h-22zM1041 1701h7v7h-7zM1019 1708h7v7h-7zM1033 1708h15v7h-15zM1303 1715h8v8h-8zM1048 1723h7v7h-7zM1041 1730h7v7h-7zM1055 1730h7v7h-7zM1296 1730h7v7h-7zM1048 1737h14v8h-14zM1311 1737h14v8h-14zM1318 1745h15v7h-15zM1333 1752h7v7h-7zM1340 1759h14v7h-14zM1354 1766h8v8h-8zM1296 1803h7v7h-7zM1289 1810h14v8h-14zM1289 1818h22v7h-22zM1289 1825h7v7h-7z"/>
<path fill="#E4264A" d="M1026 1672h15v7h-15zM1084 1672h15v7h-15zM1026 1679h15v7h-15zM1048 1679h14v7h-14zM1033 1686h8v8h-8zM1026 1694h7v7h-7zM1311 1730h7v7h-7z"/>
<path fill="#B80040" d="M1041 1679h7v7h-7zM1048 1694h7v7h-7z"/>
<path fill="#AEE49C" d="M1128 1694h8v7h-8zM1150 1694h7v7h-7zM1165 1694h7v7h-7zM1201 1708h7v7h-7zM1201 1715h15v8h-15zM1179 1723h8v7h-8zM1172 1730h15v7h-15zM1216 1730h7v7h-7zM1165 1737h7v8h-7zM1223 1745h7v7h-7zM1230 1752h8v7h-8zM1260 1869h7v7h-7zM1223 1891h7v7h-7z"/>
<path fill="#6CD4A0" d="M1157 1694h8v7h-8zM1194 1715h7v8h-7zM1187 1723h7v7h-7zM1208 1723h8v7h-8zM1208 1730h8v7h-8zM1157 1737h8v8h-8zM1216 1737h7v8h-7zM1238 1752h7v7h-7z"/>
<path fill="#00C2A8" d="M1194 1723h14v7h-14zM1223 1737h7v8h-7zM1230 1745h8v7h-8zM1238 1759h14v7h-14zM1245 1766h15v8h-15z"/></g></g>
<g filter="url(#soft)"><g shape-rendering="crispEdges"><path fill="#AEE49C" d="M1713 1555h7v7h-7zM1698 1569h7v8h-7zM1647 1584h7v7h-7zM1662 1584h7v7h-7zM1691 1584h7v7h-7zM1684 1599h7v7h-7zM1705 1599h8v7h-8zM1596 1606h7v7h-7zM1691 1606h7v7h-7zM1603 1613h7v7h-7zM1625 1613h7v7h-7zM1654 1613h15v7h-15zM1610 1620h8v8h-8zM1698 1620h7v8h-7zM1713 1620h7v8h-7zM1603 1628h7v7h-7zM1618 1628h7v7h-7zM1647 1628h7v7h-7zM1669 1628h15v7h-15zM1705 1628h8v7h-8zM1756 1628h8v7h-8zM1603 1635h7v7h-7zM1669 1635h7v7h-7zM1684 1635h14v7h-14zM1662 1642h7v8h-7zM1632 1650h8v7h-8zM1771 1657h7v7h-7zM1771 1664h7v8h-7zM1640 1672h7v7h-7zM1771 1672h7v7h-7zM1778 1686h8v8h-8zM1786 1715h7v8h-7zM1523 1745h7v7h-7zM1538 1766h7v8h-7zM1538 1774h7v7h-7zM1800 1788h8v8h-8zM1552 1803h7v7h-7zM1771 1818h7v7h-7zM1749 1832h7v8h-7zM1567 1840h7v7h-7zM1713 1861h7v8h-7zM1691 1869h7v7h-7zM1581 1883h8v8h-8zM1647 1898h7v7h-7z"/>
<path fill="#F4F8A8" d="M1720 1555h15v7h-15zM1713 1562h7v7h-7zM1676 1569h8v8h-8zM1669 1577h7v7h-7zM1684 1577h7v7h-7zM1698 1577h7v7h-7zM1676 1584h8v7h-8zM1698 1584h7v7h-7zM1713 1584h7v7h-7zM1742 1584h7v7h-7zM1647 1591h7v8h-7zM1691 1591h7v8h-7zM1705 1591h15v8h-15zM1742 1591h7v8h-7zM1625 1599h7v7h-7zM1647 1599h7v7h-7zM1691 1599h14v7h-14zM1749 1599h7v7h-7zM1589 1606h7v7h-7zM1610 1606h8v7h-8zM1713 1606h14v7h-14zM1735 1606h7v7h-7zM1552 1613h15v7h-15zM1610 1613h15v7h-15zM1640 1613h14v7h-14zM1669 1613h15v7h-15zM1691 1613h7v7h-7zM1574 1620h7v8h-7zM1589 1620h7v8h-7zM1625 1620h7v8h-7zM1654 1620h8v8h-8zM1676 1620h8v8h-8zM1720 1620h7v8h-7zM1567 1628h7v7h-7zM1589 1628h14v7h-14zM1654 1628h8v7h-8zM1691 1628h7v7h-7zM1713 1628h14v7h-14zM1486 1635h8v7h-8zM1501 1635h7v7h-7zM1545 1635h7v7h-7zM1559 1635h8v7h-8zM1632 1635h8v7h-8zM1647 1635h22v7h-22zM1705 1635h8v7h-8zM1720 1635h22v7h-22zM1749 1635h7v7h-7zM1464 1642h8v8h-8zM1479 1642h7v8h-7zM1501 1642h7v8h-7zM1538 1642h7v8h-7zM1574 1642h7v8h-7zM1589 1642h7v8h-7zM1610 1642h8v8h-8zM1625 1642h15v8h-15zM1654 1642h8v8h-8zM1669 1642h22v8h-22zM1735 1642h7v8h-7zM1450 1650h14v7h-14zM1479 1650h7v7h-7zM1494 1650h7v7h-7zM1508 1650h8v7h-8zM1545 1650h7v7h-7zM1574 1650h15v7h-15zM1618 1650h7v7h-7zM1647 1650h22v7h-22zM1756 1650h8v7h-8zM1435 1657h8v7h-8zM1501 1657h7v7h-7zM1516 1657h7v7h-7zM1545 1657h7v7h-7zM1559 1657h22v7h-22zM1625 1657h7v7h-7zM1662 1657h14v7h-14zM1698 1657h15v7h-15zM1756 1657h8v7h-8zM1450 1664h7v8h-7zM1501 1664h7v8h-7zM1516 1664h7v8h-7zM1574 1664h15v8h-15zM1596 1664h7v8h-7zM1450 1672h7v7h-7zM1508 1672h8v7h-8zM1530 1672h8v7h-8zM1603 1672h7v7h-7zM1632 1672h8v7h-8zM1472 1679h7v7h-7zM1486 1679h8v7h-8zM1508 1679h8v7h-8zM1545 1679h7v7h-7zM1581 1679h8v7h-8zM1596 1679h7v7h-7zM1610 1679h8v7h-8zM1479 1686h22v8h-22zM1589 1686h14v8h-14zM1618 1686h7v8h-7zM1464 1694h8v7h-8zM1486 1694h8v7h-8zM1501 1694h15v7h-15zM1530 1694h8v7h-8zM1581 1694h8v7h-8zM1596 1694h22v7h-22zM1632 1694h15v7h-15zM1457 1701h7v7h-7zM1479 1701h7v7h-7zM1501 1701h7v7h-7zM1545 1701h7v7h-7zM1567 1701h14v7h-14zM1632 1701h8v7h-8zM1450 1708h14v7h-14zM1486 1708h8v7h-8zM1559 1708h8v7h-8zM1581 1708h8v7h-8zM1603 1708h7v7h-7zM1457 1715h7v8h-7zM1479 1715h7v8h-7zM1559 1715h8v8h-8zM1589 1715h7v8h-7zM1625 1715h7v8h-7zM1640 1715h7v8h-7zM1472 1723h7v7h-7zM1494 1723h7v7h-7zM1538 1723h7v7h-7zM1559 1723h15v7h-15zM1581 1723h15v7h-15zM1610 1723h8v7h-8zM1793 1723h7v7h-7zM1516 1730h7v7h-7zM1552 1730h7v7h-7zM1581 1730h8v7h-8zM1618 1730h7v7h-7zM1486 1737h8v8h-8zM1610 1737h8v8h-8zM1625 1737h7v8h-7zM1640 1737h7v8h-7zM1530 1745h8v7h-8zM1559 1745h8v7h-8zM1581 1745h8v7h-8zM1596 1745h7v7h-7zM1618 1745h7v7h-7zM1538 1752h21v7h-21zM1567 1752h7v7h-7zM1596 1752h14v7h-14zM1632 1752h15v7h-15zM1552 1759h7v7h-7zM1567 1759h7v7h-7zM1800 1759h8v7h-8zM1574 1766h29v8h-29zM1610 1766h8v8h-8zM1625 1766h15v8h-15zM1545 1774h14v7h-14zM1603 1774h7v7h-7zM1632 1774h8v7h-8zM1647 1774h7v7h-7zM1596 1781h7v7h-7zM1618 1781h14v7h-14zM1640 1781h7v7h-7zM1545 1788h7v8h-7zM1559 1788h15v8h-15zM1618 1788h14v8h-14zM1545 1796h7v7h-7zM1567 1796h7v7h-7zM1603 1796h7v7h-7zM1625 1796h7v7h-7zM1625 1803h7v7h-7zM1647 1803h7v7h-7zM1596 1810h7v8h-7zM1640 1810h7v8h-7zM1786 1810h7v8h-7zM1567 1818h7v7h-7zM1559 1825h8v7h-8zM1603 1825h7v7h-7zM1618 1825h22v7h-22zM1647 1825h7v7h-7zM1567 1832h7v8h-7zM1603 1832h7v8h-7zM1640 1832h7v8h-7zM1618 1840h14v7h-14zM1581 1847h15v7h-15zM1603 1847h15v7h-15zM1640 1847h7v7h-7zM1596 1854h14v7h-14zM1632 1854h15v7h-15zM1574 1861h7v8h-7zM1618 1861h7v8h-7zM1640 1861h7v8h-7zM1705 1861h8v8h-8zM1632 1869h15v7h-15zM1662 1869h7v7h-7zM1596 1876h7v7h-7zM1610 1876h8v7h-8zM1625 1876h7v7h-7zM1647 1876h15v7h-15zM1669 1876h7v7h-7zM1684 1876h7v7h-7zM1596 1883h7v8h-7zM1618 1883h14v8h-14zM1640 1883h7v8h-7zM1662 1883h22v8h-22zM1603 1891h7v7h-7zM1625 1891h7v7h-7zM1654 1891h8v7h-8zM1632 1905h8v7h-8zM1625 1912h7v8h-7z"/>
<path fill="#E0F290" d="M1735 1555h7v7h-7zM1705 1562h8v7h-8zM1669 1569h7v8h-7zM1705 1569h8v8h-8zM1742 1569h7v8h-7zM1654 1577h8v7h-8zM1676 1577h8v7h-8zM1691 1577h7v7h-7zM1705 1577h8v7h-8zM1640 1584h7v7h-7zM1684 1584h7v7h-7zM1632 1591h8v8h-8zM1654 1591h30v8h-30zM1698 1591h7v8h-7zM1589 1599h36v7h-36zM1654 1599h15v7h-15zM1713 1599h7v7h-7zM1581 1606h8v7h-8zM1603 1606h7v7h-7zM1618 1606h14v7h-14zM1654 1606h8v7h-8zM1669 1606h7v7h-7zM1684 1606h7v7h-7zM1698 1606h7v7h-7zM1742 1606h7v7h-7zM1574 1613h7v7h-7zM1596 1613h7v7h-7zM1684 1613h7v7h-7zM1713 1613h14v7h-14zM1552 1620h7v8h-7zM1581 1620h8v8h-8zM1596 1620h7v8h-7zM1662 1620h14v8h-14zM1684 1620h14v8h-14zM1749 1620h15v8h-15zM1574 1628h7v7h-7zM1610 1628h8v7h-8zM1625 1628h7v7h-7zM1662 1628h7v7h-7zM1684 1628h7v7h-7zM1698 1628h7v7h-7zM1742 1628h14v7h-14zM1494 1635h7v7h-7zM1523 1635h15v7h-15zM1567 1635h7v7h-7zM1610 1635h15v7h-15zM1713 1635h7v7h-7zM1486 1642h8v8h-8zM1618 1642h7v8h-7zM1640 1642h14v8h-14zM1691 1642h7v8h-7zM1742 1642h7v8h-7zM1443 1650h7v7h-7zM1538 1650h7v7h-7zM1552 1650h15v7h-15zM1610 1650h8v7h-8zM1625 1650h7v7h-7zM1669 1650h15v7h-15zM1443 1657h7v7h-7zM1523 1657h7v7h-7zM1618 1657h7v7h-7zM1632 1657h8v7h-8zM1654 1657h8v7h-8zM1764 1657h7v7h-7zM1530 1664h15v8h-15zM1618 1664h7v8h-7zM1632 1664h15v8h-15zM1443 1672h7v7h-7zM1516 1672h14v7h-14zM1574 1672h7v7h-7zM1450 1679h7v7h-7zM1479 1679h7v7h-7zM1516 1679h14v7h-14zM1559 1679h15v7h-15zM1603 1679h7v7h-7zM1625 1679h7v7h-7zM1450 1686h7v8h-7zM1501 1686h7v8h-7zM1610 1686h8v8h-8zM1457 1694h7v7h-7zM1479 1694h7v7h-7zM1472 1701h7v7h-7zM1494 1701h7v7h-7zM1552 1701h15v7h-15zM1610 1701h8v7h-8zM1625 1701h7v7h-7zM1640 1701h7v7h-7zM1464 1708h8v7h-8zM1479 1708h7v7h-7zM1494 1708h7v7h-7zM1530 1708h8v7h-8zM1545 1708h14v7h-14zM1567 1708h7v7h-7zM1610 1708h8v7h-8zM1640 1708h7v7h-7zM1464 1715h8v8h-8zM1486 1715h30v8h-30zM1567 1715h7v8h-7zM1581 1715h8v8h-8zM1603 1715h7v8h-7zM1457 1723h15v7h-15zM1486 1723h8v7h-8zM1501 1723h15v7h-15zM1530 1723h8v7h-8zM1574 1723h7v7h-7zM1596 1723h14v7h-14zM1786 1723h7v7h-7zM1486 1730h15v7h-15zM1508 1730h8v7h-8zM1589 1730h7v7h-7zM1603 1730h15v7h-15zM1472 1737h7v8h-7zM1574 1737h7v8h-7zM1603 1737h7v8h-7zM1632 1737h8v8h-8zM1625 1745h7v7h-7zM1523 1752h15v7h-15zM1559 1752h8v7h-8zM1530 1759h8v7h-8zM1545 1759h7v7h-7zM1559 1759h8v7h-8zM1574 1759h7v7h-7zM1552 1766h7v8h-7zM1618 1766h7v8h-7zM1589 1774h7v7h-7zM1618 1774h7v7h-7zM1581 1781h15v7h-15zM1808 1781h7v7h-7zM1589 1788h7v8h-7zM1559 1796h8v7h-8zM1589 1796h7v7h-7zM1632 1796h22v7h-22zM1596 1803h7v7h-7zM1552 1810h7v8h-7zM1589 1810h7v8h-7zM1603 1810h15v8h-15zM1589 1818h7v7h-7zM1603 1818h7v7h-7zM1756 1825h8v7h-8zM1574 1832h7v8h-7zM1559 1840h8v7h-8zM1574 1840h29v7h-29zM1742 1840h7v7h-7zM1596 1847h7v7h-7zM1589 1854h7v7h-7zM1589 1861h7v8h-7zM1676 1869h8v7h-8zM1589 1876h7v7h-7zM1647 1883h7v8h-7zM1589 1891h14v7h-14zM1618 1891h7v7h-7zM1610 1898h30v7h-30zM1596 1905h14v7h-14zM1618 1905h14v7h-14zM1640 1905h7v7h-7zM1581 1912h15v8h-15zM1610 1912h8v8h-8zM1574 1920h7v7h-7zM1596 1920h7v7h-7zM1552 1934h7v8h-7z"/>
<path fill="#6CD4A0" d="M1691 1562h14v7h-14zM1662 1577h7v7h-7zM1654 1584h8v7h-8zM1610 1591h15v8h-15zM1705 1606h8v7h-8zM1749 1606h7v7h-7zM1705 1613h8v7h-8zM1756 1613h8v7h-8zM1618 1620h7v8h-7zM1705 1620h8v8h-8zM1698 1635h7v7h-7zM1764 1650h7v7h-7zM1771 1679h7v7h-7zM1778 1694h8v7h-8zM1778 1701h8v7h-8zM1545 1803h7v7h-7zM1742 1832h7v8h-7zM1735 1840h7v7h-7zM1727 1847h8v7h-8zM1581 1869h8v7h-8zM1589 1883h7v8h-7z"/>
<path fill="#FEF0A0" d="M1720 1562h7v7h-7zM1735 1562h7v7h-7zM1727 1569h15v8h-15zM1713 1577h7v7h-7zM1742 1577h7v7h-7zM1669 1584h7v7h-7zM1705 1584h8v7h-8zM1720 1584h22v7h-22zM1640 1591h7v8h-7zM1684 1591h7v8h-7zM1720 1591h15v8h-15zM1749 1591h7v8h-7zM1632 1599h15v7h-15zM1669 1599h15v7h-15zM1720 1599h7v7h-7zM1742 1599h7v7h-7zM1567 1606h14v7h-14zM1632 1606h22v7h-22zM1662 1606h7v7h-7zM1676 1606h8v7h-8zM1727 1606h8v7h-8zM1567 1613h7v7h-7zM1581 1613h15v7h-15zM1632 1613h8v7h-8zM1698 1613h7v7h-7zM1727 1613h8v7h-8zM1742 1613h14v7h-14zM1530 1620h15v8h-15zM1559 1620h15v8h-15zM1603 1620h7v8h-7zM1632 1620h22v8h-22zM1735 1620h14v8h-14zM1508 1628h8v7h-8zM1530 1628h8v7h-8zM1581 1628h8v7h-8zM1632 1628h15v7h-15zM1735 1628h7v7h-7zM1508 1635h8v7h-8zM1552 1635h7v7h-7zM1574 1635h7v7h-7zM1625 1635h7v7h-7zM1640 1635h7v7h-7zM1676 1635h8v7h-8zM1742 1635h7v7h-7zM1756 1635h15v7h-15zM1530 1642h8v8h-8zM1545 1642h14v8h-14zM1567 1642h7v8h-7zM1698 1642h15v8h-15zM1749 1642h7v8h-7zM1764 1642h7v8h-7zM1486 1650h8v7h-8zM1501 1650h7v7h-7zM1567 1650h7v7h-7zM1589 1650h21v7h-21zM1640 1650h7v7h-7zM1691 1650h7v7h-7zM1720 1650h7v7h-7zM1735 1650h7v7h-7zM1749 1650h7v7h-7zM1450 1657h7v7h-7zM1472 1657h7v7h-7zM1494 1657h7v7h-7zM1589 1657h21v7h-21zM1640 1657h14v7h-14zM1676 1657h15v7h-15zM1735 1657h7v7h-7zM1749 1657h7v7h-7zM1435 1664h15v8h-15zM1508 1664h8v8h-8zM1523 1664h7v8h-7zM1552 1664h22v8h-22zM1603 1664h7v8h-7zM1625 1664h7v8h-7zM1647 1664h15v8h-15zM1669 1664h7v8h-7zM1545 1672h7v7h-7zM1559 1672h15v7h-15zM1625 1672h7v7h-7zM1684 1672h7v7h-7zM1713 1672h14v7h-14zM1764 1672h7v7h-7zM1443 1679h7v7h-7zM1464 1679h8v7h-8zM1501 1679h7v7h-7zM1538 1679h7v7h-7zM1574 1679h7v7h-7zM1632 1679h15v7h-15zM1676 1679h8v7h-8zM1764 1679h7v7h-7zM1457 1686h22v8h-22zM1574 1686h7v8h-7zM1625 1686h7v8h-7zM1538 1694h7v7h-7zM1450 1701h7v7h-7zM1486 1701h8v7h-8zM1530 1701h8v7h-8zM1618 1701h7v7h-7zM1647 1701h7v7h-7zM1472 1708h7v7h-7zM1501 1708h29v7h-29zM1574 1708h7v7h-7zM1596 1708h7v7h-7zM1618 1708h22v7h-22zM1786 1708h7v7h-7zM1472 1715h7v8h-7zM1545 1715h14v8h-14zM1596 1715h7v8h-7zM1610 1715h8v8h-8zM1479 1723h7v7h-7zM1618 1723h14v7h-14zM1778 1723h8v7h-8zM1479 1730h7v7h-7zM1501 1730h7v7h-7zM1530 1730h8v7h-8zM1545 1730h7v7h-7zM1596 1730h7v7h-7zM1676 1730h8v7h-8zM1494 1737h7v8h-7zM1552 1737h22v8h-22zM1589 1737h14v8h-14zM1618 1737h7v8h-7zM1552 1745h7v7h-7zM1567 1745h7v7h-7zM1589 1745h7v7h-7zM1603 1745h15v7h-15zM1632 1745h8v7h-8zM1647 1745h15v7h-15zM1742 1745h7v7h-7zM1574 1752h7v7h-7zM1589 1752h7v7h-7zM1610 1752h15v7h-15zM1742 1752h7v7h-7zM1538 1759h7v7h-7zM1603 1759h44v7h-44zM1749 1759h7v7h-7zM1530 1766h8v8h-8zM1559 1766h15v8h-15zM1603 1766h7v8h-7zM1647 1766h7v8h-7zM1808 1766h7v8h-7zM1559 1774h15v7h-15zM1596 1774h7v7h-7zM1625 1774h7v7h-7zM1654 1774h8v7h-8zM1720 1774h7v7h-7zM1742 1774h7v7h-7zM1808 1774h7v7h-7zM1538 1781h14v7h-14zM1574 1781h7v7h-7zM1610 1781h8v7h-8zM1632 1781h8v7h-8zM1647 1781h15v7h-15zM1720 1781h7v7h-7zM1574 1788h15v8h-15zM1632 1788h22v8h-22zM1662 1788h7v8h-7zM1574 1796h15v7h-15zM1596 1796h7v7h-7zM1610 1796h8v7h-8zM1654 1796h15v7h-15zM1786 1796h7v7h-7zM1559 1803h8v7h-8zM1581 1803h15v7h-15zM1603 1803h15v7h-15zM1786 1803h7v7h-7zM1559 1810h22v8h-22zM1618 1810h14v8h-14zM1691 1810h7v8h-7zM1778 1810h8v8h-8zM1552 1818h7v7h-7zM1581 1818h8v7h-8zM1596 1818h7v7h-7zM1610 1818h22v7h-22zM1647 1818h7v7h-7zM1764 1818h7v7h-7zM1567 1825h7v7h-7zM1589 1825h7v7h-7zM1610 1825h8v7h-8zM1581 1832h8v8h-8zM1596 1832h7v8h-7zM1610 1832h22v8h-22zM1669 1832h7v8h-7zM1676 1840h8v7h-8zM1698 1840h7v7h-7zM1574 1847h7v7h-7zM1618 1847h7v7h-7zM1662 1847h7v7h-7zM1676 1847h15v7h-15zM1698 1847h7v7h-7zM1720 1847h7v7h-7zM1581 1854h8v7h-8zM1610 1854h8v7h-8zM1625 1854h7v7h-7zM1669 1854h7v7h-7zM1720 1854h7v7h-7zM1596 1861h7v8h-7zM1610 1861h8v8h-8zM1625 1861h15v8h-15zM1647 1861h7v8h-7zM1669 1861h7v8h-7zM1684 1861h7v8h-7zM1589 1869h7v7h-7zM1610 1869h8v7h-8zM1625 1869h7v7h-7zM1647 1869h7v7h-7zM1669 1869h7v7h-7zM1698 1869h7v7h-7zM1618 1876h7v7h-7zM1632 1876h8v7h-8zM1662 1876h7v7h-7zM1632 1883h8v8h-8zM1654 1883h8v8h-8zM1610 1891h8v7h-8zM1647 1891h7v7h-7zM1589 1898h7v7h-7zM1603 1898h7v7h-7zM1640 1898h7v7h-7zM1567 1920h7v7h-7zM1581 1920h8v7h-8zM1567 1927h7v7h-7zM1559 1934h8v8h-8z"/>
<path fill="#FEBC68" d="M1727 1562h8v7h-8zM1713 1569h14v8h-14zM1720 1577h7v7h-7zM1735 1577h7v7h-7zM1735 1599h7v7h-7zM1727 1620h8v8h-8zM1545 1628h14v7h-14zM1727 1628h8v7h-8zM1589 1635h7v7h-7zM1596 1642h14v8h-14zM1720 1642h7v8h-7zM1464 1650h8v7h-8zM1684 1650h7v7h-7zM1713 1650h7v7h-7zM1742 1650h7v7h-7zM1464 1657h8v7h-8zM1479 1657h15v7h-15zM1581 1657h8v7h-8zM1691 1657h7v7h-7zM1720 1657h15v7h-15zM1457 1664h7v8h-7zM1472 1664h22v8h-22zM1545 1664h7v8h-7zM1662 1664h7v8h-7zM1676 1664h37v8h-37zM1727 1664h15v8h-15zM1749 1664h7v8h-7zM1764 1664h7v8h-7zM1464 1672h15v7h-15zM1494 1672h14v7h-14zM1538 1672h7v7h-7zM1618 1672h7v7h-7zM1669 1672h7v7h-7zM1691 1672h7v7h-7zM1727 1672h22v7h-22zM1589 1679h7v7h-7zM1662 1679h14v7h-14zM1691 1679h7v7h-7zM1713 1679h14v7h-14zM1742 1679h22v7h-22zM1508 1686h22v8h-22zM1567 1686h7v8h-7zM1632 1686h22v8h-22zM1662 1686h7v8h-7zM1705 1686h8v8h-8zM1735 1686h7v8h-7zM1749 1686h7v8h-7zM1552 1694h7v7h-7zM1567 1694h7v7h-7zM1647 1694h15v7h-15zM1676 1694h8v7h-8zM1691 1694h22v7h-22zM1742 1694h7v7h-7zM1516 1701h7v7h-7zM1538 1701h7v7h-7zM1581 1701h22v7h-22zM1669 1701h15v7h-15zM1691 1701h7v7h-7zM1705 1701h8v7h-8zM1720 1701h15v7h-15zM1742 1701h29v7h-29zM1647 1708h15v7h-15zM1691 1708h14v7h-14zM1720 1708h15v7h-15zM1764 1708h14v7h-14zM1647 1715h29v8h-29zM1691 1715h7v8h-7zM1705 1715h8v8h-8zM1735 1715h7v8h-7zM1778 1715h8v8h-8zM1647 1723h7v7h-7zM1676 1723h8v7h-8zM1742 1723h7v7h-7zM1756 1723h8v7h-8zM1771 1723h7v7h-7zM1523 1730h7v7h-7zM1684 1730h7v7h-7zM1698 1730h7v7h-7zM1720 1730h7v7h-7zM1749 1730h15v7h-15zM1778 1730h22v7h-22zM1523 1737h7v8h-7zM1581 1737h8v8h-8zM1647 1737h22v8h-22zM1691 1737h14v8h-14zM1749 1737h29v8h-29zM1705 1745h30v7h-30zM1786 1745h7v7h-7zM1654 1752h8v7h-8zM1691 1752h7v7h-7zM1727 1752h15v7h-15zM1771 1752h7v7h-7zM1800 1752h8v7h-8zM1589 1759h7v7h-7zM1647 1759h7v7h-7zM1698 1759h15v7h-15zM1720 1759h15v7h-15zM1778 1759h8v7h-8zM1654 1766h8v8h-8zM1669 1766h7v8h-7zM1684 1766h7v8h-7zM1705 1766h8v8h-8zM1720 1766h15v8h-15zM1793 1766h7v8h-7zM1640 1774h7v7h-7zM1676 1774h8v7h-8zM1691 1774h7v7h-7zM1749 1774h15v7h-15zM1786 1774h7v7h-7zM1552 1781h7v7h-7zM1603 1781h7v7h-7zM1676 1781h8v7h-8zM1691 1781h22v7h-22zM1742 1781h7v7h-7zM1756 1781h8v7h-8zM1786 1781h7v7h-7zM1800 1781h8v7h-8zM1552 1788h7v8h-7zM1610 1788h8v8h-8zM1669 1788h22v8h-22zM1705 1788h8v8h-8zM1720 1788h29v8h-29zM1764 1788h14v8h-14zM1552 1796h7v7h-7zM1618 1796h7v7h-7zM1676 1796h8v7h-8zM1705 1796h8v7h-8zM1727 1796h15v7h-15zM1756 1796h22v7h-22zM1567 1803h7v7h-7zM1640 1803h7v7h-7zM1698 1803h7v7h-7zM1720 1803h15v7h-15zM1742 1803h7v7h-7zM1778 1803h8v7h-8zM1647 1810h7v8h-7zM1662 1810h7v8h-7zM1676 1810h8v8h-8zM1720 1810h7v8h-7zM1749 1810h15v8h-15zM1771 1810h7v8h-7zM1632 1818h15v7h-15zM1654 1818h8v7h-8zM1684 1818h7v7h-7zM1698 1818h7v7h-7zM1720 1818h7v7h-7zM1749 1818h7v7h-7zM1640 1825h7v7h-7zM1669 1825h7v7h-7zM1691 1825h7v7h-7zM1720 1825h36v7h-36zM1647 1832h15v8h-15zM1676 1832h8v8h-8zM1720 1832h15v8h-15zM1610 1840h8v7h-8zM1632 1840h8v7h-8zM1662 1840h14v7h-14zM1684 1840h7v7h-7zM1705 1840h15v7h-15zM1727 1840h8v7h-8zM1691 1847h7v7h-7zM1654 1854h15v7h-15zM1698 1854h22v7h-22zM1603 1861h7v8h-7zM1691 1861h7v8h-7zM1603 1869h7v7h-7zM1618 1869h7v7h-7zM1603 1876h7v7h-7zM1603 1883h7v8h-7zM1589 1905h7v7h-7zM1610 1905h8v7h-8zM1596 1912h7v8h-7zM1589 1920h7v7h-7zM1559 1927h8v7h-8zM1559 1942h8v7h-8z"/>
<path fill="#00C2A8" d="M1684 1569h14v8h-14zM1632 1584h8v7h-8zM1625 1591h7v8h-7zM1793 1796h7v7h-7zM1559 1832h8v8h-8zM1567 1847h7v7h-7zM1574 1854h7v7h-7zM1662 1891h14v7h-14zM1654 1898h8v7h-8zM1574 1912h7v8h-7zM1581 1927h8v7h-8z"/>
<path fill="#FEDC80" d="M1727 1577h8v7h-8zM1735 1591h7v8h-7zM1727 1599h8v7h-8zM1735 1613h7v7h-7zM1545 1620h7v8h-7zM1516 1628h14v7h-14zM1538 1628h7v7h-7zM1559 1628h8v7h-8zM1516 1635h7v7h-7zM1538 1635h7v7h-7zM1581 1635h8v7h-8zM1596 1635h7v7h-7zM1472 1642h7v8h-7zM1494 1642h7v8h-7zM1508 1642h22v8h-22zM1559 1642h8v8h-8zM1581 1642h8v8h-8zM1713 1642h7v8h-7zM1727 1642h8v8h-8zM1756 1642h8v8h-8zM1472 1650h7v7h-7zM1516 1650h22v7h-22zM1698 1650h15v7h-15zM1727 1650h8v7h-8zM1457 1657h7v7h-7zM1508 1657h8v7h-8zM1530 1657h15v7h-15zM1552 1657h7v7h-7zM1610 1657h8v7h-8zM1713 1657h7v7h-7zM1742 1657h7v7h-7zM1494 1664h7v8h-7zM1589 1664h7v8h-7zM1610 1664h8v8h-8zM1713 1664h14v8h-14zM1756 1664h8v8h-8zM1457 1672h7v7h-7zM1479 1672h7v7h-7zM1552 1672h7v7h-7zM1581 1672h22v7h-22zM1610 1672h8v7h-8zM1662 1672h7v7h-7zM1676 1672h8v7h-8zM1698 1672h15v7h-15zM1749 1672h15v7h-15zM1457 1679h7v7h-7zM1494 1679h7v7h-7zM1530 1679h8v7h-8zM1552 1679h7v7h-7zM1618 1679h7v7h-7zM1684 1679h7v7h-7zM1705 1679h8v7h-8zM1727 1679h15v7h-15zM1530 1686h37v8h-37zM1581 1686h8v8h-8zM1603 1686h7v8h-7zM1669 1686h15v8h-15zM1691 1686h7v8h-7zM1742 1686h7v8h-7zM1764 1686h7v8h-7zM1450 1694h7v7h-7zM1472 1694h7v7h-7zM1494 1694h7v7h-7zM1516 1694h14v7h-14zM1545 1694h7v7h-7zM1559 1694h8v7h-8zM1574 1694h7v7h-7zM1589 1694h7v7h-7zM1618 1694h14v7h-14zM1662 1694h7v7h-7zM1684 1694h7v7h-7zM1756 1694h22v7h-22zM1464 1701h8v7h-8zM1508 1701h8v7h-8zM1523 1701h7v7h-7zM1603 1701h7v7h-7zM1654 1701h15v7h-15zM1735 1701h7v7h-7zM1538 1708h7v7h-7zM1589 1708h7v7h-7zM1662 1708h7v7h-7zM1676 1708h8v7h-8zM1749 1708h15v7h-15zM1516 1715h29v8h-29zM1574 1715h7v8h-7zM1618 1715h7v8h-7zM1632 1715h8v8h-8zM1684 1715h7v8h-7zM1756 1715h22v8h-22zM1516 1723h14v7h-14zM1545 1723h14v7h-14zM1632 1723h15v7h-15zM1669 1723h7v7h-7zM1684 1723h7v7h-7zM1464 1730h15v7h-15zM1538 1730h7v7h-7zM1559 1730h22v7h-22zM1625 1730h37v7h-37zM1669 1730h7v7h-7zM1691 1730h7v7h-7zM1771 1730h7v7h-7zM1479 1737h7v8h-7zM1516 1737h7v8h-7zM1530 1737h22v8h-22zM1684 1737h7v8h-7zM1720 1737h7v8h-7zM1735 1737h7v8h-7zM1786 1737h7v8h-7zM1538 1745h14v7h-14zM1574 1745h7v7h-7zM1640 1745h7v7h-7zM1662 1745h14v7h-14zM1735 1745h7v7h-7zM1771 1745h7v7h-7zM1800 1745h8v7h-8zM1581 1752h8v7h-8zM1625 1752h7v7h-7zM1647 1752h7v7h-7zM1662 1752h7v7h-7zM1698 1752h15v7h-15zM1720 1752h7v7h-7zM1756 1752h8v7h-8zM1793 1752h7v7h-7zM1581 1759h8v7h-8zM1596 1759h7v7h-7zM1654 1759h15v7h-15zM1713 1759h7v7h-7zM1735 1759h14v7h-14zM1756 1759h15v7h-15zM1545 1766h7v8h-7zM1640 1766h7v8h-7zM1662 1766h7v8h-7zM1713 1766h7v8h-7zM1742 1766h14v8h-14zM1764 1766h7v8h-7zM1574 1774h15v7h-15zM1610 1774h8v7h-8zM1662 1774h14v7h-14zM1684 1774h7v7h-7zM1698 1774h15v7h-15zM1727 1774h15v7h-15zM1771 1774h15v7h-15zM1559 1781h15v7h-15zM1662 1781h14v7h-14zM1713 1781h7v7h-7zM1727 1781h8v7h-8zM1771 1781h15v7h-15zM1793 1781h7v7h-7zM1596 1788h14v8h-14zM1654 1788h8v8h-8zM1698 1788h7v8h-7zM1756 1788h8v8h-8zM1778 1788h15v8h-15zM1669 1796h7v7h-7zM1742 1796h7v7h-7zM1778 1796h8v7h-8zM1574 1803h7v7h-7zM1618 1803h7v7h-7zM1632 1803h8v7h-8zM1654 1803h22v7h-22zM1684 1803h14v7h-14zM1705 1803h8v7h-8zM1749 1803h22v7h-22zM1581 1810h8v8h-8zM1632 1810h8v8h-8zM1654 1810h8v8h-8zM1684 1810h7v8h-7zM1705 1810h8v8h-8zM1735 1810h7v8h-7zM1559 1818h8v7h-8zM1574 1818h7v7h-7zM1691 1818h7v7h-7zM1705 1818h15v7h-15zM1735 1818h7v7h-7zM1574 1825h15v7h-15zM1596 1825h7v7h-7zM1654 1825h15v7h-15zM1676 1825h15v7h-15zM1698 1825h22v7h-22zM1589 1832h7v8h-7zM1632 1832h8v8h-8zM1684 1832h7v8h-7zM1698 1832h7v8h-7zM1735 1832h7v8h-7zM1603 1840h7v7h-7zM1640 1840h22v7h-22zM1691 1840h7v7h-7zM1625 1847h15v7h-15zM1647 1847h7v7h-7zM1669 1847h7v7h-7zM1705 1847h15v7h-15zM1618 1854h7v7h-7zM1647 1854h7v7h-7zM1676 1854h22v7h-22zM1654 1861h8v8h-8zM1676 1861h8v8h-8zM1698 1861h7v8h-7zM1596 1869h7v7h-7zM1654 1869h8v7h-8zM1684 1869h7v7h-7zM1640 1876h7v7h-7zM1676 1876h8v7h-8zM1610 1883h8v8h-8zM1632 1891h15v7h-15zM1603 1912h7v8h-7zM1618 1912h7v8h-7zM1552 1942h7v7h-7z"/>
<path fill="#FE9650" d="M1464 1664h8v8h-8zM1742 1664h7v8h-7zM1486 1672h8v7h-8zM1647 1672h15v7h-15zM1647 1679h15v7h-15zM1698 1679h7v7h-7zM1654 1686h8v8h-8zM1684 1686h7v8h-7zM1698 1686h7v8h-7zM1713 1686h7v8h-7zM1727 1686h8v8h-8zM1756 1686h8v8h-8zM1771 1686h7v8h-7zM1669 1694h7v7h-7zM1713 1694h29v7h-29zM1749 1694h7v7h-7zM1684 1701h7v7h-7zM1771 1701h7v7h-7zM1669 1708h7v7h-7zM1684 1708h7v7h-7zM1713 1708h7v7h-7zM1735 1708h14v7h-14zM1778 1708h8v7h-8zM1676 1715h8v8h-8zM1698 1715h7v8h-7zM1720 1715h7v8h-7zM1654 1723h15v7h-15zM1698 1723h44v7h-44zM1764 1723h7v7h-7zM1662 1730h7v7h-7zM1705 1730h15v7h-15zM1727 1730h8v7h-8zM1764 1730h7v7h-7zM1669 1737h15v8h-15zM1705 1737h15v8h-15zM1742 1737h7v8h-7zM1778 1737h8v8h-8zM1793 1737h7v8h-7zM1676 1745h29v7h-29zM1749 1745h22v7h-22zM1778 1745h8v7h-8zM1793 1745h7v7h-7zM1669 1752h7v7h-7zM1684 1752h7v7h-7zM1713 1752h7v7h-7zM1749 1752h7v7h-7zM1764 1752h7v7h-7zM1778 1752h15v7h-15zM1676 1759h8v7h-8zM1771 1759h7v7h-7zM1786 1759h7v7h-7zM1676 1766h8v8h-8zM1691 1766h14v8h-14zM1735 1766h7v8h-7zM1756 1766h8v8h-8zM1771 1766h22v8h-22zM1800 1766h8v8h-8zM1713 1774h7v7h-7zM1764 1774h7v7h-7zM1800 1774h8v7h-8zM1684 1781h7v7h-7zM1735 1781h7v7h-7zM1749 1781h7v7h-7zM1764 1781h7v7h-7zM1691 1788h7v8h-7zM1713 1788h7v8h-7zM1749 1788h7v8h-7zM1793 1788h7v8h-7zM1684 1796h21v7h-21zM1713 1796h14v7h-14zM1749 1796h7v7h-7zM1676 1803h8v7h-8zM1713 1803h7v7h-7zM1735 1803h7v7h-7zM1771 1803h7v7h-7zM1669 1810h7v8h-7zM1698 1810h7v8h-7zM1713 1810h7v8h-7zM1727 1810h8v8h-8zM1742 1810h7v8h-7zM1764 1810h7v8h-7zM1662 1818h22v7h-22zM1727 1818h8v7h-8zM1742 1818h7v7h-7zM1756 1818h8v7h-8zM1662 1832h7v8h-7zM1691 1832h7v8h-7zM1705 1832h15v8h-15zM1720 1840h7v7h-7zM1654 1847h8v7h-8zM1662 1861h7v8h-7zM1603 1920h7v7h-7zM1552 1927h7v7h-7zM1589 1927h7v7h-7z"/>
<path fill="#FE6C40" d="M1720 1686h7v8h-7zM1698 1701h7v7h-7zM1713 1701h7v7h-7zM1705 1708h8v7h-8zM1713 1715h7v8h-7zM1727 1715h8v8h-8zM1742 1715h14v8h-14zM1691 1723h7v7h-7zM1749 1723h7v7h-7zM1735 1730h14v7h-14zM1727 1737h8v8h-8zM1676 1752h8v7h-8zM1669 1759h7v7h-7zM1684 1759h14v7h-14zM1793 1759h7v7h-7zM1793 1774h7v7h-7z"/>
<path fill="#009BBC" d="M1581 1861h8v8h-8zM1581 1876h8v7h-8zM1596 1898h7v7h-7zM1559 1920h8v7h-8zM1574 1927h7v7h-7zM1567 1934h14v8h-14z"/></g></g>
<rect x="95.5" y="113.5" width="403.5" height="422.0" fill="none" stroke="#000" stroke-width="5.5"/>
<rect x="534" y="113.5" width="402.0" height="422.0" fill="none" stroke="#000" stroke-width="5.5"/>
<rect x="971" y="113.5" width="402.5" height="422.0" fill="none" stroke="#000" stroke-width="5.5"/>
<rect x="1408.5" y="113.5" width="403.5" height="422.0" fill="none" stroke="#000" stroke-width="5.5"/>
<rect x="96.6" y="827" width="402.4" height="421.5" fill="none" stroke="#000" stroke-width="6.8"/>
<rect x="535" y="827" width="402.5" height="421.5" fill="none" stroke="#000" stroke-width="6.8"/>
<rect x="971.2" y="827" width="403.4" height="421.5" fill="none" stroke="#000" stroke-width="6.8"/>
<rect x="1409.8" y="827" width="402.2" height="421.5" fill="none" stroke="#000" stroke-width="6.8"/>
<rect x="110.3" y="1541" width="403.2" height="421.5" fill="none" stroke="#000" stroke-width="5.8"/>
<rect x="549" y="1541" width="400.5" height="421.5" fill="none" stroke="#000" stroke-width="5.8"/>
<rect x="985" y="1541" width="403.0" height="421.5" fill="none" stroke="#000" stroke-width="5.8"/>
<rect x="1423.5" y="1541" width="402.5" height="421.5" fill="none" stroke="#000" stroke-width="5.8"/>
<rect x="1841" y="42.50" width="85.0" height="31.44" fill="#6A4FA6"/>
<rect x="1841" y="73.34" width="85.0" height="31.44" fill="#0077BC"/>
<rect x="1841" y="104.19" width="85.0" height="31.44" fill="#009BBC"/>
<rect x="1841" y="135.03" width="85.0" height="31.44" fill="#00C2A8"/>
<rect x="1841" y="165.88" width="85.0" height="31.44" fill="#6CD4A0"/>
<rect x="1841" y="196.72" width="85.0" height="31.44" fill="#AEE49C"/>
<rect x="1841" y="227.56" width="85.0" height="31.44" fill="#E0F290"/>
<rect x="1841" y="258.41" width="85.0" height="31.44" fill="#F4F8A8"/>
<rect x="1841" y="289.25" width="85.0" height="31.44" fill="#FEF0A0"/>
<rect x="1841" y="320.09" width="85.0" height="31.44" fill="#FEDC80"/>
<rect x="1841" y="350.94" width="85.0" height="31.44" fill="#FEBC68"/>
<rect x="1841" y="381.78" width="85.0" height="31.44" fill="#FE9650"/>
<rect x="1841" y="412.62" width="85.0" height="31.44" fill="#FE6C40"/>
<rect x="1841" y="443.47" width="85.0" height="31.44" fill="#FE4A48"/>
<rect x="1841" y="474.31" width="85.0" height="31.44" fill="#E4264A"/>
<rect x="1841" y="505.16" width="85.0" height="31.44" fill="#B80040"/>
<rect x="1841" y="42.5" width="85.0" height="493.5" fill="none" stroke="#000" stroke-width="5.5"/>
<line x1="1926" y1="67.4" x2="1949" y2="67.4" stroke="#000" stroke-width="4.5"/>
<text transform="translate(1969.0,84.8) scale(1,1.035)" class="tl">1.0</text>
<line x1="1926" y1="131.9" x2="1949" y2="131.9" stroke="#000" stroke-width="4.5"/>
<text transform="translate(1969.0,149.3) scale(1,1.035)" class="tl">0.8</text>
<line x1="1926" y1="196" x2="1949" y2="196" stroke="#000" stroke-width="4.5"/>
<text transform="translate(1969.0,213.4) scale(1,1.035)" class="tl">0.6</text>
<line x1="1926" y1="261" x2="1949" y2="261" stroke="#000" stroke-width="4.5"/>
<text transform="translate(1969.0,278.4) scale(1,1.035)" class="tl">0.4</text>
<line x1="1926" y1="326.7" x2="1949" y2="326.7" stroke="#000" stroke-width="4.5"/>
<text transform="translate(1969.0,344.1) scale(1,1.035)" class="tl">0.2</text>
<line x1="1926" y1="390.4" x2="1949" y2="390.4" stroke="#000" stroke-width="4.5"/>
<text transform="translate(1969.0,407.8) scale(1,1.035)" class="tl">0.0</text>
<line x1="1926" y1="456" x2="1949" y2="456" stroke="#000" stroke-width="4.5"/>
<text transform="translate(1969.0,473.4) scale(1,1.035)" class="tl">−0.2</text>
<line x1="1926" y1="521.3" x2="1949" y2="521.3" stroke="#000" stroke-width="4.5"/>
<text transform="translate(1969.0,538.7) scale(1,1.035)" class="tl">−0.4</text>
<rect x="1843.5" y="755.50" width="83.5" height="31.26" fill="#6A4FA6"/>
<rect x="1843.5" y="786.16" width="83.5" height="31.26" fill="#0077BC"/>
<rect x="1843.5" y="816.81" width="83.5" height="31.26" fill="#009BBC"/>
<rect x="1843.5" y="847.47" width="83.5" height="31.26" fill="#00C2A8"/>
<rect x="1843.5" y="878.12" width="83.5" height="31.26" fill="#6CD4A0"/>
<rect x="1843.5" y="908.78" width="83.5" height="31.26" fill="#AEE49C"/>
<rect x="1843.5" y="939.44" width="83.5" height="31.26" fill="#E0F290"/>
<rect x="1843.5" y="970.09" width="83.5" height="31.26" fill="#F4F8A8"/>
<rect x="1843.5" y="1000.75" width="83.5" height="31.26" fill="#FEF0A0"/>
<rect x="1843.5" y="1031.41" width="83.5" height="31.26" fill="#FEDC80"/>
<rect x="1843.5" y="1062.06" width="83.5" height="31.26" fill="#FEBC68"/>
<rect x="1843.5" y="1092.72" width="83.5" height="31.26" fill="#FE9650"/>
<rect x="1843.5" y="1123.38" width="83.5" height="31.26" fill="#FE6C40"/>
<rect x="1843.5" y="1154.03" width="83.5" height="31.26" fill="#FE4A48"/>
<rect x="1843.5" y="1184.69" width="83.5" height="31.26" fill="#E4264A"/>
<rect x="1843.5" y="1215.34" width="83.5" height="31.26" fill="#B80040"/>
<rect x="1843.5" y="755.5" width="83.5" height="490.5" fill="none" stroke="#000" stroke-width="5.5"/>
<line x1="1927" y1="785" x2="1950" y2="785" stroke="#000" stroke-width="4.5"/>
<text transform="translate(1968.3,803.8) scale(1,1.035)" class="tl">0.05</text>
<line x1="1927" y1="871.6" x2="1950" y2="871.6" stroke="#000" stroke-width="4.5"/>
<text transform="translate(1968.3,890.4) scale(1,1.035)" class="tl">0.04</text>
<line x1="1927" y1="958.2" x2="1950" y2="958.2" stroke="#000" stroke-width="4.5"/>
<text transform="translate(1968.3,977.0) scale(1,1.035)" class="tl">0.03</text>
<line x1="1927" y1="1044.8" x2="1950" y2="1044.8" stroke="#000" stroke-width="4.5"/>
<text transform="translate(1968.3,1063.6) scale(1,1.035)" class="tl">0.02</text>
<line x1="1927" y1="1131.4" x2="1950" y2="1131.4" stroke="#000" stroke-width="4.5"/>
<text transform="translate(1968.3,1150.2) scale(1,1.035)" class="tl">0.01</text>
<line x1="1927" y1="1218" x2="1950" y2="1218" stroke="#000" stroke-width="4.5"/>
<text transform="translate(1968.3,1236.8) scale(1,1.035)" class="tl">0.00</text>
<rect x="1857" y="1469.50" width="86.0" height="31.29" fill="#6A4FA6"/>
<rect x="1857" y="1500.19" width="86.0" height="31.29" fill="#0077BC"/>
<rect x="1857" y="1530.88" width="86.0" height="31.29" fill="#009BBC"/>
<rect x="1857" y="1561.56" width="86.0" height="31.29" fill="#00C2A8"/>
<rect x="1857" y="1592.25" width="86.0" height="31.29" fill="#6CD4A0"/>
<rect x="1857" y="1622.94" width="86.0" height="31.29" fill="#AEE49C"/>
<rect x="1857" y="1653.62" width="86.0" height="31.29" fill="#E0F290"/>
<rect x="1857" y="1684.31" width="86.0" height="31.29" fill="#F4F8A8"/>
<rect x="1857" y="1715.00" width="86.0" height="31.29" fill="#FEF0A0"/>
<rect x="1857" y="1745.69" width="86.0" height="31.29" fill="#FEDC80"/>
<rect x="1857" y="1776.38" width="86.0" height="31.29" fill="#FEBC68"/>
<rect x="1857" y="1807.06" width="86.0" height="31.29" fill="#FE9650"/>
<rect x="1857" y="1837.75" width="86.0" height="31.29" fill="#FE6C40"/>
<rect x="1857" y="1868.44" width="86.0" height="31.29" fill="#FE4A48"/>
<rect x="1857" y="1899.12" width="86.0" height="31.29" fill="#E4264A"/>
<rect x="1857" y="1929.81" width="86.0" height="31.29" fill="#B80040"/>
<rect x="1857" y="1469.5" width="86.0" height="491.0" fill="none" stroke="#000" stroke-width="5.5"/>
<line x1="1943" y1="1497.4" x2="1966" y2="1497.4" stroke="#000" stroke-width="4.5"/>
<text transform="translate(1983.5,1514.5) scale(1,1.035)" class="tl">1.2</text>
<line x1="1943" y1="1577.9" x2="1966" y2="1577.9" stroke="#000" stroke-width="4.5"/>
<text transform="translate(1983.5,1595.0) scale(1,1.035)" class="tl">1.0</text>
<line x1="1943" y1="1658.4" x2="1966" y2="1658.4" stroke="#000" stroke-width="4.5"/>
<text transform="translate(1983.5,1675.5) scale(1,1.035)" class="tl">0.8</text>
<line x1="1943" y1="1738.9" x2="1966" y2="1738.9" stroke="#000" stroke-width="4.5"/>
<text transform="translate(1983.5,1756.0) scale(1,1.035)" class="tl">0.6</text>
<line x1="1943" y1="1819.4" x2="1966" y2="1819.4" stroke="#000" stroke-width="4.5"/>
<text transform="translate(1983.5,1836.5) scale(1,1.035)" class="tl">0.4</text>
<line x1="1943" y1="1899.9" x2="1966" y2="1899.9" stroke="#000" stroke-width="4.5"/>
<text transform="translate(1983.5,1917.0) scale(1,1.035)" class="tl">0.2</text>
<text transform="translate(297.2,99.1) scale(0.982,1.02)" class="tt" text-anchor="middle">SPD</text>
<text transform="translate(735.0,99.1) scale(0.982,1.02)" class="tt" text-anchor="middle">+BOS</text>
<text transform="translate(1172.2,99.1) scale(0.982,1.02)" class="tt" text-anchor="middle">+SD</text>
<text transform="translate(1610.2,99.1) scale(0.982,1.02)" class="tt" text-anchor="middle">SCYM</text>
<text transform="translate(66.8,322.7) rotate(-90) scale(1.0,1)" x="0" y="0" class="tt" text-anchor="middle">r</text>
<text transform="translate(67.1,1026.3) rotate(-90) scale(0.913,1)" x="0" y="0" class="tt" text-anchor="middle">p−value &lt; 0.05</text>
<text transform="translate(80.3,1750.8) rotate(-90) scale(0.965,1)" x="0" y="0" class="tt" text-anchor="middle">RMSE</text>
<text transform="translate(1754.1,591.2) scale(1.04,1)" class="pl">(a)</text>
<text transform="translate(1754.1,1307.1) scale(1.04,1)" class="pl">(b)</text>
<text transform="translate(1771.4,2017.8) scale(1.04,1)" class="pl">(c)</text>
</svg>
</body></html>
